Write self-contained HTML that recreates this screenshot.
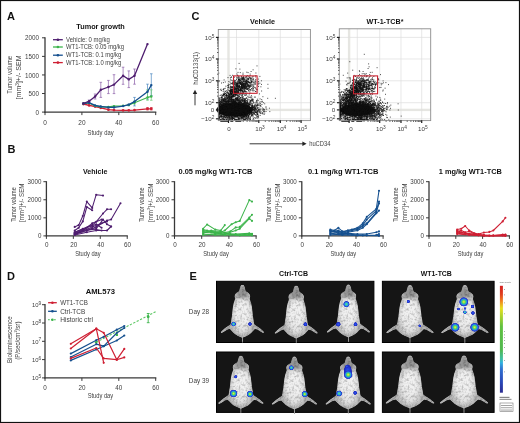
<!DOCTYPE html>
<html><head><meta charset="utf-8"><style>
html,body{margin:0;padding:0;background:#fff;}
svg{display:block;font-family:"Liberation Sans", sans-serif;will-change:transform;}
</style></head><body>
<svg width="520" height="423" viewBox="0 0 520 423">
<defs>
<radialGradient id="mb" cx="0" cy="31" r="16" gradientUnits="userSpaceOnUse" gradientTransform="translate(0 31) scale(0.8 1.4) translate(0 -31)">
<stop offset="0" stop-color="#fafafa"/><stop offset="0.55" stop-color="#eaeaea"/><stop offset="0.78" stop-color="#c4c4c4"/><stop offset="1" stop-color="#939393"/></radialGradient>
<linearGradient id="mh" x1="0" y1="0" x2="0" y2="57" gradientUnits="userSpaceOnUse">
<stop offset="0" stop-color="#6a6a6a" stop-opacity="0.7"/><stop offset="0.2" stop-color="#808080" stop-opacity="0.5"/><stop offset="0.38" stop-color="#999" stop-opacity="0"/><stop offset="0.7" stop-color="#999" stop-opacity="0"/><stop offset="0.85" stop-color="#888" stop-opacity="0.3"/><stop offset="1" stop-color="#777" stop-opacity="0.5"/></linearGradient>
<radialGradient id="sg"><stop offset="0" stop-color="#f0f040"/><stop offset="0.22" stop-color="#98e040"/><stop offset="0.42" stop-color="#30c890"/><stop offset="0.6" stop-color="#2a90e0"/><stop offset="0.78" stop-color="#2040d8"/><stop offset="0.92" stop-color="#2030c0" stop-opacity="0.8"/><stop offset="1" stop-color="#2030c0" stop-opacity="0"/></radialGradient>
<radialGradient id="sc"><stop offset="0" stop-color="#70e070"/><stop offset="0.3" stop-color="#30c8c0"/><stop offset="0.55" stop-color="#2a80e8"/><stop offset="0.8" stop-color="#2038d0"/><stop offset="1" stop-color="#2030c0" stop-opacity="0"/></radialGradient>
<radialGradient id="sb"><stop offset="0" stop-color="#3060f0"/><stop offset="0.55" stop-color="#2038d8"/><stop offset="0.85" stop-color="#1e28b8"/><stop offset="1" stop-color="#1e28b0" stop-opacity="0"/></radialGradient>
<filter id="tex" filterUnits="userSpaceOnUse" x="-30" y="-5" width="60" height="70" color-interpolation-filters="sRGB">
<feTurbulence type="fractalNoise" baseFrequency="0.42" numOctaves="2" seed="4"/>
<feColorMatrix type="matrix" values="0.6 0 0 0 0.66  0.6 0 0 0 0.66  0.6 0 0 0 0.66  0 0 0 0 1" result="n"/>
<feBlend in="SourceGraphic" in2="n" mode="multiply" result="m"/>
<feComposite in="m" in2="SourceAlpha" operator="in" result="c"/>
<feGaussianBlur in="c" stdDeviation="0.35"/>
</filter>
<clipPath id="mclip"><path d="M0.0 0.0 L1.3 0.4 L2.1 1.6 L2.6 3.2 L2.9 5.0 L3.5 6.6 L4.8 7.4 L6.4 8.4 L7.6 10.0 L7.9 11.8 L7.5 13.3 L7.5 14.5 L8.0 16.0 L8.8 18.5 L9.5 22.0 L10.0 26.3 L10.5 31.0 L11.2 35.0 L11.6 38.0 L12.0 39.5 L14.5 41.2 L17.5 43.4 L20.0 45.6 L21.5 47.0 L21.6 48.2 L20.4 48.4 L17.8 46.8 L15.0 45.0 L12.6 44.4 L11.0 46.0 L9.2 48.0 L7.0 49.8 L4.6 51.2 L2.4 52.2 L0.9 52.8 L0.5 53.2 L0.5 58.0 L-0.5 58.0 L-0.5 53.2 L-0.9 52.8 L-2.4 52.2 L-4.6 51.2 L-7.0 49.8 L-9.2 48.0 L-11.0 46.0 L-12.6 44.4 L-15.0 45.0 L-17.8 46.8 L-20.4 48.4 L-21.6 48.2 L-21.5 47.0 L-20.0 45.6 L-17.5 43.4 L-14.5 41.2 L-12.0 39.5 L-11.6 38.0 L-11.2 35.0 L-10.5 31.0 L-10.0 26.3 L-9.5 22.0 L-8.8 18.5 L-8.0 16.0 L-7.5 14.5 L-7.5 13.3 L-7.9 11.8 L-7.6 10.0 L-6.4 8.4 L-4.8 7.4 L-3.5 6.6 L-2.9 5.0 L-2.6 3.2 L-2.1 1.6 L-1.3 0.4Z"/></clipPath>
<filter id="b3" x="-60%" y="-60%" width="220%" height="220%"><feGaussianBlur stdDeviation="2.6"/></filter>
<filter id="b2" x="-60%" y="-60%" width="220%" height="220%"><feGaussianBlur stdDeviation="1.8"/></filter>
<filter id="b1" x="-100%" y="-100%" width="300%" height="300%"><feGaussianBlur stdDeviation="0.8"/></filter>
<symbol id="mouse" overflow="visible"><g filter="url(#tex)"><g clip-path="url(#mclip)">
<path d="M0.0 0.0 L1.3 0.4 L2.1 1.6 L2.6 3.2 L2.9 5.0 L3.5 6.6 L4.8 7.4 L6.4 8.4 L7.6 10.0 L7.9 11.8 L7.5 13.3 L7.5 14.5 L8.0 16.0 L8.8 18.5 L9.5 22.0 L10.0 26.3 L10.5 31.0 L11.2 35.0 L11.6 38.0 L12.0 39.5 L14.5 41.2 L17.5 43.4 L20.0 45.6 L21.5 47.0 L21.6 48.2 L20.4 48.4 L17.8 46.8 L15.0 45.0 L12.6 44.4 L11.0 46.0 L9.2 48.0 L7.0 49.8 L4.6 51.2 L2.4 52.2 L0.9 52.8 L0.5 53.2 L0.5 58.0 L-0.5 58.0 L-0.5 53.2 L-0.9 52.8 L-2.4 52.2 L-4.6 51.2 L-7.0 49.8 L-9.2 48.0 L-11.0 46.0 L-12.6 44.4 L-15.0 45.0 L-17.8 46.8 L-20.4 48.4 L-21.6 48.2 L-21.5 47.0 L-20.0 45.6 L-17.5 43.4 L-14.5 41.2 L-12.0 39.5 L-11.6 38.0 L-11.2 35.0 L-10.5 31.0 L-10.0 26.3 L-9.5 22.0 L-8.8 18.5 L-8.0 16.0 L-7.5 14.5 L-7.5 13.3 L-7.9 11.8 L-7.6 10.0 L-6.4 8.4 L-4.8 7.4 L-3.5 6.6 L-2.9 5.0 L-2.6 3.2 L-2.1 1.6 L-1.3 0.4Z" fill="#b2b2b2"/>
<ellipse cx="0" cy="29" rx="10" ry="17" fill="#f0f0f0" filter="url(#b3)"/>
<ellipse cx="0" cy="44" rx="7" ry="5" fill="#e4e4e4" filter="url(#b3)"/>
<ellipse cx="0" cy="8" rx="4.5" ry="6" fill="#6a6a6a" opacity="0.45" filter="url(#b2)"/>
<circle cx="-3.4" cy="11" r="1.6" fill="#555" opacity="0.4" filter="url(#b1)"/><circle cx="3.4" cy="11" r="1.6" fill="#555" opacity="0.4" filter="url(#b1)"/>
</g></g></symbol>
<linearGradient id="cbar" x1="0" y1="0" x2="0" y2="1">
<stop offset="0" stop-color="#d42020"/><stop offset="0.08" stop-color="#e04020"/><stop offset="0.14" stop-color="#f08020"/><stop offset="0.21" stop-color="#e8e020"/><stop offset="0.3" stop-color="#a0d030"/><stop offset="0.38" stop-color="#60c040"/><stop offset="0.6" stop-color="#50b850"/><stop offset="0.68" stop-color="#40c0a0"/><stop offset="0.72" stop-color="#30b0e0"/><stop offset="0.78" stop-color="#3070d0"/><stop offset="0.9" stop-color="#2a48b8"/><stop offset="1" stop-color="#2a2a90"/></linearGradient>
</defs>
<rect x="0" y="0" width="520" height="423" fill="#fff"/>
<text x="7.00" y="19.60" font-size="11" text-anchor="start" fill="#111" font-weight="bold">A</text>
<text x="76.30" y="28.50" font-size="7.3" text-anchor="start" fill="#111" font-weight="bold" textLength="48.5" lengthAdjust="spacingAndGlyphs">Tumor growth</text>
<line x1="45.00" y1="37.20" x2="45.00" y2="112.70" stroke="#383838" stroke-width="1.3"/>
<line x1="44.40" y1="112.10" x2="156.30" y2="112.10" stroke="#383838" stroke-width="1.3"/>
<line x1="42.00" y1="112.10" x2="45.00" y2="112.10" stroke="#383838" stroke-width="1"/>
<text x="39.00" y="114.70" font-size="7.0" text-anchor="end" fill="#3e3e3e" textLength="3.5" lengthAdjust="spacingAndGlyphs">0</text>
<line x1="42.00" y1="93.52" x2="45.00" y2="93.52" stroke="#383838" stroke-width="1"/>
<text x="39.00" y="96.12" font-size="7.0" text-anchor="end" fill="#3e3e3e" textLength="10.5" lengthAdjust="spacingAndGlyphs">500</text>
<line x1="42.00" y1="74.95" x2="45.00" y2="74.95" stroke="#383838" stroke-width="1"/>
<text x="39.00" y="77.55" font-size="7.0" text-anchor="end" fill="#3e3e3e" textLength="14.0" lengthAdjust="spacingAndGlyphs">1000</text>
<line x1="42.00" y1="56.38" x2="45.00" y2="56.38" stroke="#383838" stroke-width="1"/>
<text x="39.00" y="58.98" font-size="7.0" text-anchor="end" fill="#3e3e3e" textLength="14.0" lengthAdjust="spacingAndGlyphs">1500</text>
<line x1="42.00" y1="37.80" x2="45.00" y2="37.80" stroke="#383838" stroke-width="1"/>
<text x="39.00" y="40.40" font-size="7.0" text-anchor="end" fill="#3e3e3e" textLength="14.0" lengthAdjust="spacingAndGlyphs">2000</text>
<line x1="45.00" y1="112.10" x2="45.00" y2="115.10" stroke="#383838" stroke-width="1"/>
<text x="45.00" y="124.50" font-size="7.0" text-anchor="middle" fill="#3e3e3e" textLength="3.6" lengthAdjust="spacingAndGlyphs">0</text>
<line x1="81.90" y1="112.10" x2="81.90" y2="115.10" stroke="#383838" stroke-width="1"/>
<text x="81.90" y="124.50" font-size="7.0" text-anchor="middle" fill="#3e3e3e" textLength="7.2" lengthAdjust="spacingAndGlyphs">20</text>
<line x1="118.80" y1="112.10" x2="118.80" y2="115.10" stroke="#383838" stroke-width="1"/>
<text x="118.80" y="124.50" font-size="7.0" text-anchor="middle" fill="#3e3e3e" textLength="7.2" lengthAdjust="spacingAndGlyphs">40</text>
<line x1="155.70" y1="112.10" x2="155.70" y2="115.10" stroke="#383838" stroke-width="1"/>
<text x="155.70" y="124.50" font-size="7.0" text-anchor="middle" fill="#3e3e3e" textLength="7.2" lengthAdjust="spacingAndGlyphs">60</text>
<text x="100.60" y="135.30" font-size="7.6" text-anchor="middle" fill="#3e3e3e" textLength="26.0" lengthAdjust="spacingAndGlyphs">Study day</text>
<text x="12.40" y="74.80" font-size="7.0" text-anchor="middle" fill="#3e3e3e" textLength="38" lengthAdjust="spacingAndGlyphs" transform="rotate(-90 12.40 74.80)">Tumor volume</text>
<text x="21.50" y="77.40" font-size="7.0" text-anchor="middle" fill="#3e3e3e" textLength="44" lengthAdjust="spacingAndGlyphs" transform="rotate(-90 21.50 77.40)">[mm<tspan font-size="4.6" dy="-2.4">3</tspan><tspan dy="2.4">]+/- SEM</tspan></text>
<line x1="53.00" y1="39.70" x2="62.80" y2="39.70" stroke="#4e1d6f" stroke-width="1.3"/>
<circle cx="57.9" cy="39.7" r="1.3" fill="#4e1d6f"/>
<text x="66.10" y="41.90" font-size="6.3" text-anchor="start" fill="#3e3e3e" textLength="43.7" lengthAdjust="spacingAndGlyphs">Vehicle: 0 mg/kg</text>
<line x1="53.00" y1="47.00" x2="62.80" y2="47.00" stroke="#3cb44b" stroke-width="1.3"/>
<circle cx="57.9" cy="47.0" r="1.3" fill="#3cb44b"/>
<text x="66.10" y="49.20" font-size="6.3" text-anchor="start" fill="#3e3e3e" textLength="57.9" lengthAdjust="spacingAndGlyphs">WT1-TCB: 0.05 mg/kg</text>
<line x1="53.00" y1="55.20" x2="62.80" y2="55.20" stroke="#15508f" stroke-width="1.3"/>
<circle cx="57.9" cy="55.2" r="1.3" fill="#15508f"/>
<text x="66.10" y="57.40" font-size="6.3" text-anchor="start" fill="#3e3e3e" textLength="55.2" lengthAdjust="spacingAndGlyphs">WT1-TCB: 0.1 mg/kg</text>
<line x1="53.00" y1="62.60" x2="62.80" y2="62.60" stroke="#cf1f33" stroke-width="1.3"/>
<circle cx="57.9" cy="62.6" r="1.3" fill="#cf1f33"/>
<text x="66.10" y="64.80" font-size="6.3" text-anchor="start" fill="#3e3e3e" textLength="55.2" lengthAdjust="spacingAndGlyphs">WT1-TCB: 1.0 mg/kg</text>
<line x1="89.10" y1="100.00" x2="89.10" y2="103.00" stroke="#8a5ca8" stroke-width="0.7"/>
<line x1="87.80" y1="100.00" x2="90.40" y2="100.00" stroke="#8a5ca8" stroke-width="0.7"/>
<line x1="87.80" y1="103.00" x2="90.40" y2="103.00" stroke="#8a5ca8" stroke-width="0.7"/>
<line x1="95.10" y1="94.00" x2="95.10" y2="99.00" stroke="#8a5ca8" stroke-width="0.7"/>
<line x1="93.80" y1="94.00" x2="96.40" y2="94.00" stroke="#8a5ca8" stroke-width="0.7"/>
<line x1="93.80" y1="99.00" x2="96.40" y2="99.00" stroke="#8a5ca8" stroke-width="0.7"/>
<line x1="100.80" y1="82.30" x2="100.80" y2="97.40" stroke="#8a5ca8" stroke-width="0.7"/>
<line x1="99.50" y1="82.30" x2="102.10" y2="82.30" stroke="#8a5ca8" stroke-width="0.7"/>
<line x1="99.50" y1="97.40" x2="102.10" y2="97.40" stroke="#8a5ca8" stroke-width="0.7"/>
<line x1="108.40" y1="80.40" x2="108.40" y2="93.60" stroke="#8a5ca8" stroke-width="0.7"/>
<line x1="107.10" y1="80.40" x2="109.70" y2="80.40" stroke="#8a5ca8" stroke-width="0.7"/>
<line x1="107.10" y1="93.60" x2="109.70" y2="93.60" stroke="#8a5ca8" stroke-width="0.7"/>
<line x1="114.00" y1="74.70" x2="114.00" y2="93.60" stroke="#8a5ca8" stroke-width="0.7"/>
<line x1="112.70" y1="74.70" x2="115.30" y2="74.70" stroke="#8a5ca8" stroke-width="0.7"/>
<line x1="112.70" y1="93.60" x2="115.30" y2="93.60" stroke="#8a5ca8" stroke-width="0.7"/>
<line x1="123.10" y1="67.20" x2="123.10" y2="84.30" stroke="#8a5ca8" stroke-width="0.7"/>
<line x1="121.80" y1="67.20" x2="124.40" y2="67.20" stroke="#8a5ca8" stroke-width="0.7"/>
<line x1="121.80" y1="84.30" x2="124.40" y2="84.30" stroke="#8a5ca8" stroke-width="0.7"/>
<line x1="128.80" y1="70.90" x2="128.80" y2="87.60" stroke="#8a5ca8" stroke-width="0.7"/>
<line x1="127.50" y1="70.90" x2="130.10" y2="70.90" stroke="#8a5ca8" stroke-width="0.7"/>
<line x1="127.50" y1="87.60" x2="130.10" y2="87.60" stroke="#8a5ca8" stroke-width="0.7"/>
<line x1="134.50" y1="69.00" x2="134.50" y2="84.20" stroke="#8a5ca8" stroke-width="0.7"/>
<line x1="133.20" y1="69.00" x2="135.80" y2="69.00" stroke="#8a5ca8" stroke-width="0.7"/>
<line x1="133.20" y1="84.20" x2="135.80" y2="84.20" stroke="#8a5ca8" stroke-width="0.7"/>
<line x1="128.80" y1="104.22" x2="128.80" y2="105.73" stroke="#4a86c0" stroke-width="0.7"/>
<line x1="127.50" y1="104.22" x2="130.10" y2="104.22" stroke="#4a86c0" stroke-width="0.7"/>
<line x1="127.50" y1="105.73" x2="130.10" y2="105.73" stroke="#4a86c0" stroke-width="0.7"/>
<line x1="134.50" y1="97.41" x2="134.50" y2="105.92" stroke="#4a86c0" stroke-width="0.7"/>
<line x1="133.20" y1="97.41" x2="135.80" y2="97.41" stroke="#4a86c0" stroke-width="0.7"/>
<line x1="133.20" y1="105.92" x2="135.80" y2="105.92" stroke="#4a86c0" stroke-width="0.7"/>
<line x1="147.50" y1="84.17" x2="147.50" y2="99.30" stroke="#4a86c0" stroke-width="0.7"/>
<line x1="146.20" y1="84.17" x2="148.80" y2="84.17" stroke="#4a86c0" stroke-width="0.7"/>
<line x1="146.20" y1="99.30" x2="148.80" y2="99.30" stroke="#4a86c0" stroke-width="0.7"/>
<line x1="151.30" y1="73.77" x2="151.30" y2="95.52" stroke="#4a86c0" stroke-width="0.7"/>
<line x1="150.00" y1="73.77" x2="152.60" y2="73.77" stroke="#4a86c0" stroke-width="0.7"/>
<line x1="150.00" y1="95.52" x2="152.60" y2="95.52" stroke="#4a86c0" stroke-width="0.7"/>
<line x1="134.50" y1="101.19" x2="134.50" y2="104.03" stroke="#6ccc74" stroke-width="0.7"/>
<line x1="133.20" y1="101.19" x2="135.80" y2="101.19" stroke="#6ccc74" stroke-width="0.7"/>
<line x1="133.20" y1="104.03" x2="135.80" y2="104.03" stroke="#6ccc74" stroke-width="0.7"/>
<line x1="147.50" y1="89.85" x2="147.50" y2="100.25" stroke="#6ccc74" stroke-width="0.7"/>
<line x1="146.20" y1="89.85" x2="148.80" y2="89.85" stroke="#6ccc74" stroke-width="0.7"/>
<line x1="146.20" y1="100.25" x2="148.80" y2="100.25" stroke="#6ccc74" stroke-width="0.7"/>
<line x1="151.30" y1="89.85" x2="151.30" y2="100.25" stroke="#6ccc74" stroke-width="0.7"/>
<line x1="150.00" y1="89.85" x2="152.60" y2="89.85" stroke="#6ccc74" stroke-width="0.7"/>
<line x1="150.00" y1="100.25" x2="152.60" y2="100.25" stroke="#6ccc74" stroke-width="0.7"/>
<line x1="147.50" y1="107.62" x2="147.50" y2="109.89" stroke="#cf1f33" stroke-width="0.7"/>
<line x1="146.20" y1="107.62" x2="148.80" y2="107.62" stroke="#cf1f33" stroke-width="0.7"/>
<line x1="146.20" y1="109.89" x2="148.80" y2="109.89" stroke="#cf1f33" stroke-width="0.7"/>
<line x1="151.30" y1="107.62" x2="151.30" y2="109.89" stroke="#cf1f33" stroke-width="0.7"/>
<line x1="150.00" y1="107.62" x2="152.60" y2="107.62" stroke="#cf1f33" stroke-width="0.7"/>
<line x1="150.00" y1="109.89" x2="152.60" y2="109.89" stroke="#cf1f33" stroke-width="0.7"/>
<polyline points="83.4,104.0 89.1,105.4 95.1,106.5 100.8,107.8 108.4,109.7 114.0,110.1 123.1,110.3 128.8,110.3 134.5,110.1 147.5,108.8 151.3,108.8" fill="none" stroke="#cf1f33" stroke-width="1.3" stroke-linejoin="round"/>
<circle cx="83.4" cy="104.0" r="1.4" fill="#cf1f33"/>
<circle cx="89.1" cy="105.4" r="1.4" fill="#cf1f33"/>
<circle cx="95.1" cy="106.5" r="1.4" fill="#cf1f33"/>
<circle cx="100.8" cy="107.8" r="1.4" fill="#cf1f33"/>
<circle cx="108.4" cy="109.7" r="1.4" fill="#cf1f33"/>
<circle cx="114.0" cy="110.1" r="1.4" fill="#cf1f33"/>
<circle cx="123.1" cy="110.3" r="1.4" fill="#cf1f33"/>
<circle cx="128.8" cy="110.3" r="1.4" fill="#cf1f33"/>
<circle cx="134.5" cy="110.1" r="1.4" fill="#cf1f33"/>
<circle cx="147.5" cy="108.8" r="1.4" fill="#cf1f33"/>
<circle cx="151.3" cy="108.8" r="1.4" fill="#cf1f33"/>
<polyline points="83.4,103.5 89.1,103.1 95.1,105.9 100.8,106.9 108.4,106.9 114.0,106.1 123.1,105.7 128.8,105.0 134.5,102.7 147.5,97.4 151.3,96.5" fill="none" stroke="#3cb44b" stroke-width="1.1" stroke-linejoin="round"/>
<circle cx="83.4" cy="103.5" r="1.2" fill="#3cb44b"/>
<circle cx="89.1" cy="103.1" r="1.2" fill="#3cb44b"/>
<circle cx="95.1" cy="105.9" r="1.2" fill="#3cb44b"/>
<circle cx="100.8" cy="106.9" r="1.2" fill="#3cb44b"/>
<circle cx="108.4" cy="106.9" r="1.2" fill="#3cb44b"/>
<circle cx="114.0" cy="106.1" r="1.2" fill="#3cb44b"/>
<circle cx="123.1" cy="105.7" r="1.2" fill="#3cb44b"/>
<circle cx="128.8" cy="105.0" r="1.2" fill="#3cb44b"/>
<circle cx="134.5" cy="102.7" r="1.2" fill="#3cb44b"/>
<circle cx="147.5" cy="97.4" r="1.2" fill="#3cb44b"/>
<circle cx="151.3" cy="96.5" r="1.2" fill="#3cb44b"/>
<polyline points="83.4,103.5 89.1,102.7 95.1,105.4 100.8,106.5 108.4,107.4 114.0,107.4 123.1,106.1 128.8,104.6 134.5,101.6 147.5,91.7 151.3,85.1" fill="none" stroke="#15508f" stroke-width="1.3" stroke-linejoin="round"/>
<circle cx="83.4" cy="103.5" r="1.2" fill="#15508f"/>
<circle cx="89.1" cy="102.7" r="1.2" fill="#15508f"/>
<circle cx="95.1" cy="105.4" r="1.2" fill="#15508f"/>
<circle cx="100.8" cy="106.5" r="1.2" fill="#15508f"/>
<circle cx="108.4" cy="107.4" r="1.2" fill="#15508f"/>
<circle cx="114.0" cy="107.4" r="1.2" fill="#15508f"/>
<circle cx="123.1" cy="106.1" r="1.2" fill="#15508f"/>
<circle cx="128.8" cy="104.6" r="1.2" fill="#15508f"/>
<circle cx="134.5" cy="101.6" r="1.2" fill="#15508f"/>
<circle cx="147.5" cy="91.7" r="1.2" fill="#15508f"/>
<circle cx="151.3" cy="85.1" r="1.2" fill="#15508f"/>
<polyline points="83.4,103.5 89.1,101.2 95.1,96.5 100.8,89.8 108.4,87.0 114.0,84.6 123.1,75.7 128.8,79.4 134.5,75.7 147.5,44.1" fill="none" stroke="#4e1d6f" stroke-width="1.3" stroke-linejoin="round"/>
<circle cx="83.4" cy="103.5" r="1.2" fill="#4e1d6f"/>
<circle cx="89.1" cy="101.2" r="1.2" fill="#4e1d6f"/>
<circle cx="95.1" cy="96.5" r="1.2" fill="#4e1d6f"/>
<circle cx="100.8" cy="89.8" r="1.2" fill="#4e1d6f"/>
<circle cx="108.4" cy="87.0" r="1.2" fill="#4e1d6f"/>
<circle cx="114.0" cy="84.6" r="1.2" fill="#4e1d6f"/>
<circle cx="123.1" cy="75.7" r="1.2" fill="#4e1d6f"/>
<circle cx="128.8" cy="79.4" r="1.2" fill="#4e1d6f"/>
<circle cx="134.5" cy="75.7" r="1.2" fill="#4e1d6f"/>
<circle cx="147.5" cy="44.1" r="1.2" fill="#4e1d6f"/>
<text x="7.50" y="152.80" font-size="11" text-anchor="start" fill="#111" font-weight="bold">B</text>
<text x="83.00" y="174.40" font-size="7.2" text-anchor="start" fill="#111" font-weight="bold" textLength="24.4" lengthAdjust="spacingAndGlyphs">Vehicle</text>
<line x1="46.40" y1="181.20" x2="46.40" y2="236.50" stroke="#383838" stroke-width="1.3"/>
<line x1="45.80" y1="235.90" x2="127.82" y2="235.90" stroke="#383838" stroke-width="1.3"/>
<line x1="43.40" y1="235.90" x2="46.40" y2="235.90" stroke="#383838" stroke-width="1"/>
<text x="41.40" y="238.40" font-size="6.8" text-anchor="end" fill="#3e3e3e" textLength="3.45" lengthAdjust="spacingAndGlyphs">0</text>
<line x1="43.40" y1="217.83" x2="46.40" y2="217.83" stroke="#383838" stroke-width="1"/>
<text x="41.40" y="220.33" font-size="6.8" text-anchor="end" fill="#3e3e3e" textLength="13.8" lengthAdjust="spacingAndGlyphs">1000</text>
<line x1="43.40" y1="199.77" x2="46.40" y2="199.77" stroke="#383838" stroke-width="1"/>
<text x="41.40" y="202.27" font-size="6.8" text-anchor="end" fill="#3e3e3e" textLength="13.8" lengthAdjust="spacingAndGlyphs">2000</text>
<line x1="43.40" y1="181.70" x2="46.40" y2="181.70" stroke="#383838" stroke-width="1"/>
<text x="41.40" y="184.20" font-size="6.8" text-anchor="end" fill="#3e3e3e" textLength="13.8" lengthAdjust="spacingAndGlyphs">3000</text>
<line x1="46.40" y1="235.90" x2="46.40" y2="238.90" stroke="#383838" stroke-width="1"/>
<text x="46.80" y="247.00" font-size="6.8" text-anchor="middle" fill="#3e3e3e" textLength="3.5" lengthAdjust="spacingAndGlyphs">0</text>
<line x1="73.34" y1="235.90" x2="73.34" y2="238.90" stroke="#383838" stroke-width="1"/>
<text x="73.74" y="247.00" font-size="6.8" text-anchor="middle" fill="#3e3e3e" textLength="7.0" lengthAdjust="spacingAndGlyphs">20</text>
<line x1="100.28" y1="235.90" x2="100.28" y2="238.90" stroke="#383838" stroke-width="1"/>
<text x="100.68" y="247.00" font-size="6.8" text-anchor="middle" fill="#3e3e3e" textLength="7.0" lengthAdjust="spacingAndGlyphs">40</text>
<line x1="127.22" y1="235.90" x2="127.22" y2="238.90" stroke="#383838" stroke-width="1"/>
<text x="127.62" y="247.00" font-size="6.8" text-anchor="middle" fill="#3e3e3e" textLength="7.0" lengthAdjust="spacingAndGlyphs">60</text>
<text x="87.90" y="256.00" font-size="7.4" text-anchor="middle" fill="#3e3e3e" textLength="25.5" lengthAdjust="spacingAndGlyphs">Study day</text>
<text x="15.60" y="204.60" font-size="6.6" text-anchor="middle" fill="#3e3e3e" textLength="34.5" lengthAdjust="spacingAndGlyphs" transform="rotate(-90 15.60 204.60)">Tumor volume</text>
<text x="24.50" y="202.80" font-size="6.6" text-anchor="middle" fill="#3e3e3e" textLength="38.5" lengthAdjust="spacingAndGlyphs" transform="rotate(-90 24.50 202.80)">[mm<tspan font-size="4.4" dy="-2.3">3</tspan><tspan dy="2.3">]+/- SEM</tspan></text>
<polyline points="74.7,226.9 78.7,225.1 82.8,216.0 86.8,201.6 92.2,207.9 96.2,194.7 103.0,195.6" fill="none" stroke="#4e1d6f" stroke-width="1.05" stroke-linejoin="round"/>
<circle cx="74.7" cy="226.9" r="1.05" fill="#4e1d6f"/>
<circle cx="78.7" cy="225.1" r="1.05" fill="#4e1d6f"/>
<circle cx="82.8" cy="216.0" r="1.05" fill="#4e1d6f"/>
<circle cx="86.8" cy="201.6" r="1.05" fill="#4e1d6f"/>
<circle cx="92.2" cy="207.9" r="1.05" fill="#4e1d6f"/>
<circle cx="96.2" cy="194.7" r="1.05" fill="#4e1d6f"/>
<circle cx="103.0" cy="195.6" r="1.05" fill="#4e1d6f"/>
<polyline points="74.7,230.5 78.7,227.8 82.8,221.4 86.8,207.0 92.2,210.2" fill="none" stroke="#4e1d6f" stroke-width="1.05" stroke-linejoin="round"/>
<circle cx="74.7" cy="230.5" r="1.05" fill="#4e1d6f"/>
<circle cx="78.7" cy="227.8" r="1.05" fill="#4e1d6f"/>
<circle cx="82.8" cy="221.4" r="1.05" fill="#4e1d6f"/>
<circle cx="86.8" cy="207.0" r="1.05" fill="#4e1d6f"/>
<circle cx="92.2" cy="210.2" r="1.05" fill="#4e1d6f"/>
<polyline points="74.7,232.3 82.8,228.7 92.2,225.1 96.2,221.8 103.0,213.5 107.0,209.3 111.1,209.2" fill="none" stroke="#4e1d6f" stroke-width="1.05" stroke-linejoin="round"/>
<circle cx="74.7" cy="232.3" r="1.05" fill="#4e1d6f"/>
<circle cx="82.8" cy="228.7" r="1.05" fill="#4e1d6f"/>
<circle cx="92.2" cy="225.1" r="1.05" fill="#4e1d6f"/>
<circle cx="96.2" cy="221.8" r="1.05" fill="#4e1d6f"/>
<circle cx="103.0" cy="213.5" r="1.05" fill="#4e1d6f"/>
<circle cx="107.0" cy="209.3" r="1.05" fill="#4e1d6f"/>
<circle cx="111.1" cy="209.2" r="1.05" fill="#4e1d6f"/>
<polyline points="74.7,233.2 86.8,230.5 96.2,226.9 107.0,220.5 111.1,219.5 120.5,203.2" fill="none" stroke="#4e1d6f" stroke-width="1.05" stroke-linejoin="round"/>
<circle cx="74.7" cy="233.2" r="1.05" fill="#4e1d6f"/>
<circle cx="86.8" cy="230.5" r="1.05" fill="#4e1d6f"/>
<circle cx="96.2" cy="226.9" r="1.05" fill="#4e1d6f"/>
<circle cx="107.0" cy="220.5" r="1.05" fill="#4e1d6f"/>
<circle cx="111.1" cy="219.5" r="1.05" fill="#4e1d6f"/>
<circle cx="120.5" cy="203.2" r="1.05" fill="#4e1d6f"/>
<polyline points="74.7,234.1 82.8,230.5 92.2,223.3 101.6,219.6" fill="none" stroke="#4e1d6f" stroke-width="1.05" stroke-linejoin="round"/>
<circle cx="74.7" cy="234.1" r="1.05" fill="#4e1d6f"/>
<circle cx="82.8" cy="230.5" r="1.05" fill="#4e1d6f"/>
<circle cx="92.2" cy="223.3" r="1.05" fill="#4e1d6f"/>
<circle cx="101.6" cy="219.6" r="1.05" fill="#4e1d6f"/>
<polyline points="74.7,234.1 86.8,230.5 96.2,228.7 103.0,219.6 107.0,224.2 111.1,226.5" fill="none" stroke="#4e1d6f" stroke-width="1.05" stroke-linejoin="round"/>
<circle cx="74.7" cy="234.1" r="1.05" fill="#4e1d6f"/>
<circle cx="86.8" cy="230.5" r="1.05" fill="#4e1d6f"/>
<circle cx="96.2" cy="228.7" r="1.05" fill="#4e1d6f"/>
<circle cx="103.0" cy="219.6" r="1.05" fill="#4e1d6f"/>
<circle cx="107.0" cy="224.2" r="1.05" fill="#4e1d6f"/>
<circle cx="111.1" cy="226.5" r="1.05" fill="#4e1d6f"/>
<polyline points="74.7,235.0 86.8,232.3 96.2,230.5 107.0,230.5 111.1,226.5" fill="none" stroke="#4e1d6f" stroke-width="1.05" stroke-linejoin="round"/>
<circle cx="74.7" cy="235.0" r="1.05" fill="#4e1d6f"/>
<circle cx="86.8" cy="232.3" r="1.05" fill="#4e1d6f"/>
<circle cx="96.2" cy="230.5" r="1.05" fill="#4e1d6f"/>
<circle cx="107.0" cy="230.5" r="1.05" fill="#4e1d6f"/>
<circle cx="111.1" cy="226.5" r="1.05" fill="#4e1d6f"/>
<polyline points="74.7,234.5 82.8,231.4 92.2,226.9 101.6,223.3 107.0,221.4" fill="none" stroke="#4e1d6f" stroke-width="1.05" stroke-linejoin="round"/>
<circle cx="74.7" cy="234.5" r="1.05" fill="#4e1d6f"/>
<circle cx="82.8" cy="231.4" r="1.05" fill="#4e1d6f"/>
<circle cx="92.2" cy="226.9" r="1.05" fill="#4e1d6f"/>
<circle cx="101.6" cy="223.3" r="1.05" fill="#4e1d6f"/>
<circle cx="107.0" cy="221.4" r="1.05" fill="#4e1d6f"/>
<polyline points="74.7,233.7 86.8,227.8 96.2,224.2 101.6,227.8" fill="none" stroke="#4e1d6f" stroke-width="1.05" stroke-linejoin="round"/>
<circle cx="74.7" cy="233.7" r="1.05" fill="#4e1d6f"/>
<circle cx="86.8" cy="227.8" r="1.05" fill="#4e1d6f"/>
<circle cx="96.2" cy="224.2" r="1.05" fill="#4e1d6f"/>
<circle cx="101.6" cy="227.8" r="1.05" fill="#4e1d6f"/>
<polyline points="74.7,232.3 82.8,229.6 92.2,228.7 101.6,230.5" fill="none" stroke="#4e1d6f" stroke-width="1.05" stroke-linejoin="round"/>
<circle cx="74.7" cy="232.3" r="1.05" fill="#4e1d6f"/>
<circle cx="82.8" cy="229.6" r="1.05" fill="#4e1d6f"/>
<circle cx="92.2" cy="228.7" r="1.05" fill="#4e1d6f"/>
<circle cx="101.6" cy="230.5" r="1.05" fill="#4e1d6f"/>
<text x="178.50" y="174.40" font-size="7.2" text-anchor="start" fill="#111" font-weight="bold" textLength="74.0" lengthAdjust="spacingAndGlyphs">0.05 mg/kg WT1-TCB</text>
<line x1="174.50" y1="181.20" x2="174.50" y2="236.50" stroke="#383838" stroke-width="1.3"/>
<line x1="173.90" y1="235.90" x2="256.70" y2="235.90" stroke="#383838" stroke-width="1.3"/>
<line x1="171.50" y1="235.90" x2="174.50" y2="235.90" stroke="#383838" stroke-width="1"/>
<text x="169.50" y="238.40" font-size="6.8" text-anchor="end" fill="#3e3e3e" textLength="3.45" lengthAdjust="spacingAndGlyphs">0</text>
<line x1="171.50" y1="217.83" x2="174.50" y2="217.83" stroke="#383838" stroke-width="1"/>
<text x="169.50" y="220.33" font-size="6.8" text-anchor="end" fill="#3e3e3e" textLength="13.8" lengthAdjust="spacingAndGlyphs">1000</text>
<line x1="171.50" y1="199.77" x2="174.50" y2="199.77" stroke="#383838" stroke-width="1"/>
<text x="169.50" y="202.27" font-size="6.8" text-anchor="end" fill="#3e3e3e" textLength="13.8" lengthAdjust="spacingAndGlyphs">2000</text>
<line x1="171.50" y1="181.70" x2="174.50" y2="181.70" stroke="#383838" stroke-width="1"/>
<text x="169.50" y="184.20" font-size="6.8" text-anchor="end" fill="#3e3e3e" textLength="13.8" lengthAdjust="spacingAndGlyphs">3000</text>
<line x1="174.50" y1="235.90" x2="174.50" y2="238.90" stroke="#383838" stroke-width="1"/>
<text x="174.90" y="247.00" font-size="6.8" text-anchor="middle" fill="#3e3e3e" textLength="3.5" lengthAdjust="spacingAndGlyphs">0</text>
<line x1="201.70" y1="235.90" x2="201.70" y2="238.90" stroke="#383838" stroke-width="1"/>
<text x="202.10" y="247.00" font-size="6.8" text-anchor="middle" fill="#3e3e3e" textLength="7.0" lengthAdjust="spacingAndGlyphs">20</text>
<line x1="228.90" y1="235.90" x2="228.90" y2="238.90" stroke="#383838" stroke-width="1"/>
<text x="229.30" y="247.00" font-size="6.8" text-anchor="middle" fill="#3e3e3e" textLength="7.0" lengthAdjust="spacingAndGlyphs">40</text>
<line x1="256.10" y1="235.90" x2="256.10" y2="238.90" stroke="#383838" stroke-width="1"/>
<text x="256.50" y="247.00" font-size="6.8" text-anchor="middle" fill="#3e3e3e" textLength="7.0" lengthAdjust="spacingAndGlyphs">60</text>
<text x="216.00" y="256.00" font-size="7.4" text-anchor="middle" fill="#3e3e3e" textLength="25.5" lengthAdjust="spacingAndGlyphs">Study day</text>
<text x="143.70" y="204.60" font-size="6.6" text-anchor="middle" fill="#3e3e3e" textLength="34.5" lengthAdjust="spacingAndGlyphs" transform="rotate(-90 143.70 204.60)">Tumor volume</text>
<text x="152.60" y="202.80" font-size="6.6" text-anchor="middle" fill="#3e3e3e" textLength="38.5" lengthAdjust="spacingAndGlyphs" transform="rotate(-90 152.60 202.80)">[mm<tspan font-size="4.4" dy="-2.3">3</tspan><tspan dy="2.3">]+/- SEM</tspan></text>
<polyline points="203.1,228.7 207.1,224.5 215.3,229.6 220.7,230.5 224.8,225.1" fill="none" stroke="#3cb44b" stroke-width="1.05" stroke-linejoin="round"/>
<circle cx="203.1" cy="228.7" r="1.05" fill="#3cb44b"/>
<circle cx="207.1" cy="224.5" r="1.05" fill="#3cb44b"/>
<circle cx="215.3" cy="229.6" r="1.05" fill="#3cb44b"/>
<circle cx="220.7" cy="230.5" r="1.05" fill="#3cb44b"/>
<circle cx="224.8" cy="225.1" r="1.05" fill="#3cb44b"/>
<polyline points="203.1,230.5 211.2,231.4 220.7,232.3 224.8,230.5 231.6,224.2 235.7,222.3 239.8,220.9 249.3,200.1 252.0,201.6" fill="none" stroke="#3cb44b" stroke-width="1.05" stroke-linejoin="round"/>
<circle cx="203.1" cy="230.5" r="1.05" fill="#3cb44b"/>
<circle cx="211.2" cy="231.4" r="1.05" fill="#3cb44b"/>
<circle cx="220.7" cy="232.3" r="1.05" fill="#3cb44b"/>
<circle cx="224.8" cy="230.5" r="1.05" fill="#3cb44b"/>
<circle cx="231.6" cy="224.2" r="1.05" fill="#3cb44b"/>
<circle cx="235.7" cy="222.3" r="1.05" fill="#3cb44b"/>
<circle cx="239.8" cy="220.9" r="1.05" fill="#3cb44b"/>
<circle cx="249.3" cy="200.1" r="1.05" fill="#3cb44b"/>
<circle cx="252.0" cy="201.6" r="1.05" fill="#3cb44b"/>
<polyline points="203.1,231.4 211.2,232.3 220.7,233.2 230.3,231.4 235.7,227.4 239.8,226.9 249.3,217.5 252.0,214.8" fill="none" stroke="#3cb44b" stroke-width="1.05" stroke-linejoin="round"/>
<circle cx="203.1" cy="231.4" r="1.05" fill="#3cb44b"/>
<circle cx="211.2" cy="232.3" r="1.05" fill="#3cb44b"/>
<circle cx="220.7" cy="233.2" r="1.05" fill="#3cb44b"/>
<circle cx="230.3" cy="231.4" r="1.05" fill="#3cb44b"/>
<circle cx="235.7" cy="227.4" r="1.05" fill="#3cb44b"/>
<circle cx="239.8" cy="226.9" r="1.05" fill="#3cb44b"/>
<circle cx="249.3" cy="217.5" r="1.05" fill="#3cb44b"/>
<circle cx="252.0" cy="214.8" r="1.05" fill="#3cb44b"/>
<polyline points="203.1,232.3 215.3,233.2 224.8,234.1 235.7,230.5 239.8,228.7 249.3,218.7 252.0,220.9" fill="none" stroke="#3cb44b" stroke-width="1.05" stroke-linejoin="round"/>
<circle cx="203.1" cy="232.3" r="1.05" fill="#3cb44b"/>
<circle cx="215.3" cy="233.2" r="1.05" fill="#3cb44b"/>
<circle cx="224.8" cy="234.1" r="1.05" fill="#3cb44b"/>
<circle cx="235.7" cy="230.5" r="1.05" fill="#3cb44b"/>
<circle cx="239.8" cy="228.7" r="1.05" fill="#3cb44b"/>
<circle cx="249.3" cy="218.7" r="1.05" fill="#3cb44b"/>
<circle cx="252.0" cy="220.9" r="1.05" fill="#3cb44b"/>
<polyline points="203.1,233.2 211.2,230.5 220.7,231.4 230.3,234.1 239.8,235.0 249.3,234.1 252.0,234.1" fill="none" stroke="#3cb44b" stroke-width="1.05" stroke-linejoin="round"/>
<circle cx="203.1" cy="233.2" r="1.05" fill="#3cb44b"/>
<circle cx="211.2" cy="230.5" r="1.05" fill="#3cb44b"/>
<circle cx="220.7" cy="231.4" r="1.05" fill="#3cb44b"/>
<circle cx="230.3" cy="234.1" r="1.05" fill="#3cb44b"/>
<circle cx="239.8" cy="235.0" r="1.05" fill="#3cb44b"/>
<circle cx="249.3" cy="234.1" r="1.05" fill="#3cb44b"/>
<circle cx="252.0" cy="234.1" r="1.05" fill="#3cb44b"/>
<polyline points="203.1,234.1 215.3,235.0 224.8,235.0 235.7,234.1 249.3,233.2 252.0,233.7" fill="none" stroke="#3cb44b" stroke-width="1.05" stroke-linejoin="round"/>
<circle cx="203.1" cy="234.1" r="1.05" fill="#3cb44b"/>
<circle cx="215.3" cy="235.0" r="1.05" fill="#3cb44b"/>
<circle cx="224.8" cy="235.0" r="1.05" fill="#3cb44b"/>
<circle cx="235.7" cy="234.1" r="1.05" fill="#3cb44b"/>
<circle cx="249.3" cy="233.2" r="1.05" fill="#3cb44b"/>
<circle cx="252.0" cy="233.7" r="1.05" fill="#3cb44b"/>
<polyline points="203.1,229.6 207.1,230.5 215.3,232.3 224.8,233.2 235.7,234.5 249.3,234.8 252.0,235.0" fill="none" stroke="#3cb44b" stroke-width="1.05" stroke-linejoin="round"/>
<circle cx="203.1" cy="229.6" r="1.05" fill="#3cb44b"/>
<circle cx="207.1" cy="230.5" r="1.05" fill="#3cb44b"/>
<circle cx="215.3" cy="232.3" r="1.05" fill="#3cb44b"/>
<circle cx="224.8" cy="233.2" r="1.05" fill="#3cb44b"/>
<circle cx="235.7" cy="234.5" r="1.05" fill="#3cb44b"/>
<circle cx="249.3" cy="234.8" r="1.05" fill="#3cb44b"/>
<circle cx="252.0" cy="235.0" r="1.05" fill="#3cb44b"/>
<polyline points="203.1,235.0 215.3,234.1 230.3,235.0 239.8,235.5 252.0,235.4" fill="none" stroke="#3cb44b" stroke-width="1.05" stroke-linejoin="round"/>
<circle cx="203.1" cy="235.0" r="1.05" fill="#3cb44b"/>
<circle cx="215.3" cy="234.1" r="1.05" fill="#3cb44b"/>
<circle cx="230.3" cy="235.0" r="1.05" fill="#3cb44b"/>
<circle cx="239.8" cy="235.5" r="1.05" fill="#3cb44b"/>
<circle cx="252.0" cy="235.4" r="1.05" fill="#3cb44b"/>
<text x="307.90" y="174.40" font-size="7.2" text-anchor="start" fill="#111" font-weight="bold" textLength="70.6" lengthAdjust="spacingAndGlyphs">0.1 mg/kg WT1-TCB</text>
<line x1="301.80" y1="181.20" x2="301.80" y2="236.50" stroke="#383838" stroke-width="1.3"/>
<line x1="301.20" y1="235.90" x2="383.70" y2="235.90" stroke="#383838" stroke-width="1.3"/>
<line x1="298.80" y1="235.90" x2="301.80" y2="235.90" stroke="#383838" stroke-width="1"/>
<text x="296.80" y="238.40" font-size="6.8" text-anchor="end" fill="#3e3e3e" textLength="3.45" lengthAdjust="spacingAndGlyphs">0</text>
<line x1="298.80" y1="217.83" x2="301.80" y2="217.83" stroke="#383838" stroke-width="1"/>
<text x="296.80" y="220.33" font-size="6.8" text-anchor="end" fill="#3e3e3e" textLength="13.8" lengthAdjust="spacingAndGlyphs">1000</text>
<line x1="298.80" y1="199.77" x2="301.80" y2="199.77" stroke="#383838" stroke-width="1"/>
<text x="296.80" y="202.27" font-size="6.8" text-anchor="end" fill="#3e3e3e" textLength="13.8" lengthAdjust="spacingAndGlyphs">2000</text>
<line x1="298.80" y1="181.70" x2="301.80" y2="181.70" stroke="#383838" stroke-width="1"/>
<text x="296.80" y="184.20" font-size="6.8" text-anchor="end" fill="#3e3e3e" textLength="13.8" lengthAdjust="spacingAndGlyphs">3000</text>
<line x1="301.80" y1="235.90" x2="301.80" y2="238.90" stroke="#383838" stroke-width="1"/>
<text x="302.20" y="247.00" font-size="6.8" text-anchor="middle" fill="#3e3e3e" textLength="3.5" lengthAdjust="spacingAndGlyphs">0</text>
<line x1="328.90" y1="235.90" x2="328.90" y2="238.90" stroke="#383838" stroke-width="1"/>
<text x="329.30" y="247.00" font-size="6.8" text-anchor="middle" fill="#3e3e3e" textLength="7.0" lengthAdjust="spacingAndGlyphs">20</text>
<line x1="356.00" y1="235.90" x2="356.00" y2="238.90" stroke="#383838" stroke-width="1"/>
<text x="356.40" y="247.00" font-size="6.8" text-anchor="middle" fill="#3e3e3e" textLength="7.0" lengthAdjust="spacingAndGlyphs">40</text>
<line x1="383.10" y1="235.90" x2="383.10" y2="238.90" stroke="#383838" stroke-width="1"/>
<text x="383.50" y="247.00" font-size="6.8" text-anchor="middle" fill="#3e3e3e" textLength="7.0" lengthAdjust="spacingAndGlyphs">60</text>
<text x="343.30" y="256.00" font-size="7.4" text-anchor="middle" fill="#3e3e3e" textLength="25.5" lengthAdjust="spacingAndGlyphs">Study day</text>
<text x="271.00" y="204.60" font-size="6.6" text-anchor="middle" fill="#3e3e3e" textLength="34.5" lengthAdjust="spacingAndGlyphs" transform="rotate(-90 271.00 204.60)">Tumor volume</text>
<text x="279.90" y="202.80" font-size="6.6" text-anchor="middle" fill="#3e3e3e" textLength="38.5" lengthAdjust="spacingAndGlyphs" transform="rotate(-90 279.90 202.80)">[mm<tspan font-size="4.4" dy="-2.3">3</tspan><tspan dy="2.3">]+/- SEM</tspan></text>
<polyline points="330.3,229.6 334.3,230.5 338.4,227.8 342.4,231.4 347.9,230.5 351.9,229.6 357.4,227.8 362.8,223.3 366.8,216.9 376.3,208.8 379.0,190.7" fill="none" stroke="#15508f" stroke-width="1.05" stroke-linejoin="round"/>
<circle cx="330.3" cy="229.6" r="1.05" fill="#15508f"/>
<circle cx="334.3" cy="230.5" r="1.05" fill="#15508f"/>
<circle cx="338.4" cy="227.8" r="1.05" fill="#15508f"/>
<circle cx="342.4" cy="231.4" r="1.05" fill="#15508f"/>
<circle cx="347.9" cy="230.5" r="1.05" fill="#15508f"/>
<circle cx="351.9" cy="229.6" r="1.05" fill="#15508f"/>
<circle cx="357.4" cy="227.8" r="1.05" fill="#15508f"/>
<circle cx="362.8" cy="223.3" r="1.05" fill="#15508f"/>
<circle cx="366.8" cy="216.9" r="1.05" fill="#15508f"/>
<circle cx="376.3" cy="208.8" r="1.05" fill="#15508f"/>
<circle cx="379.0" cy="190.7" r="1.05" fill="#15508f"/>
<polyline points="330.3,230.5 334.3,231.4 338.4,232.3 342.4,232.3 347.9,230.5 357.4,228.7 362.8,225.1 366.8,219.6 376.3,210.6 379.0,201.6" fill="none" stroke="#15508f" stroke-width="1.05" stroke-linejoin="round"/>
<circle cx="330.3" cy="230.5" r="1.05" fill="#15508f"/>
<circle cx="334.3" cy="231.4" r="1.05" fill="#15508f"/>
<circle cx="338.4" cy="232.3" r="1.05" fill="#15508f"/>
<circle cx="342.4" cy="232.3" r="1.05" fill="#15508f"/>
<circle cx="347.9" cy="230.5" r="1.05" fill="#15508f"/>
<circle cx="357.4" cy="228.7" r="1.05" fill="#15508f"/>
<circle cx="362.8" cy="225.1" r="1.05" fill="#15508f"/>
<circle cx="366.8" cy="219.6" r="1.05" fill="#15508f"/>
<circle cx="376.3" cy="210.6" r="1.05" fill="#15508f"/>
<circle cx="379.0" cy="201.6" r="1.05" fill="#15508f"/>
<polyline points="330.3,231.4 338.4,230.5 342.4,233.2 351.9,230.5 357.4,229.6 362.8,226.0 366.8,223.3 376.3,212.4 379.0,203.4" fill="none" stroke="#15508f" stroke-width="1.05" stroke-linejoin="round"/>
<circle cx="330.3" cy="231.4" r="1.05" fill="#15508f"/>
<circle cx="338.4" cy="230.5" r="1.05" fill="#15508f"/>
<circle cx="342.4" cy="233.2" r="1.05" fill="#15508f"/>
<circle cx="351.9" cy="230.5" r="1.05" fill="#15508f"/>
<circle cx="357.4" cy="229.6" r="1.05" fill="#15508f"/>
<circle cx="362.8" cy="226.0" r="1.05" fill="#15508f"/>
<circle cx="366.8" cy="223.3" r="1.05" fill="#15508f"/>
<circle cx="376.3" cy="212.4" r="1.05" fill="#15508f"/>
<circle cx="379.0" cy="203.4" r="1.05" fill="#15508f"/>
<polyline points="330.3,232.3 338.4,231.4 347.9,232.3 357.4,230.5 362.8,227.8 366.8,224.2 376.3,213.3 379.0,210.6" fill="none" stroke="#15508f" stroke-width="1.05" stroke-linejoin="round"/>
<circle cx="330.3" cy="232.3" r="1.05" fill="#15508f"/>
<circle cx="338.4" cy="231.4" r="1.05" fill="#15508f"/>
<circle cx="347.9" cy="232.3" r="1.05" fill="#15508f"/>
<circle cx="357.4" cy="230.5" r="1.05" fill="#15508f"/>
<circle cx="362.8" cy="227.8" r="1.05" fill="#15508f"/>
<circle cx="366.8" cy="224.2" r="1.05" fill="#15508f"/>
<circle cx="376.3" cy="213.3" r="1.05" fill="#15508f"/>
<circle cx="379.0" cy="210.6" r="1.05" fill="#15508f"/>
<polyline points="330.3,233.2 338.4,234.1 347.9,233.2 357.4,234.1 366.8,234.1 376.3,232.3 379.0,231.4" fill="none" stroke="#15508f" stroke-width="1.05" stroke-linejoin="round"/>
<circle cx="330.3" cy="233.2" r="1.05" fill="#15508f"/>
<circle cx="338.4" cy="234.1" r="1.05" fill="#15508f"/>
<circle cx="347.9" cy="233.2" r="1.05" fill="#15508f"/>
<circle cx="357.4" cy="234.1" r="1.05" fill="#15508f"/>
<circle cx="366.8" cy="234.1" r="1.05" fill="#15508f"/>
<circle cx="376.3" cy="232.3" r="1.05" fill="#15508f"/>
<circle cx="379.0" cy="231.4" r="1.05" fill="#15508f"/>
<polyline points="330.3,234.1 342.4,235.0 351.9,235.0 362.8,235.4 376.3,235.0 379.0,234.1" fill="none" stroke="#15508f" stroke-width="1.05" stroke-linejoin="round"/>
<circle cx="330.3" cy="234.1" r="1.05" fill="#15508f"/>
<circle cx="342.4" cy="235.0" r="1.05" fill="#15508f"/>
<circle cx="351.9" cy="235.0" r="1.05" fill="#15508f"/>
<circle cx="362.8" cy="235.4" r="1.05" fill="#15508f"/>
<circle cx="376.3" cy="235.0" r="1.05" fill="#15508f"/>
<circle cx="379.0" cy="234.1" r="1.05" fill="#15508f"/>
<polyline points="330.3,230.5 338.4,233.2 347.9,234.1 357.4,235.0 366.8,235.5 379.0,235.7" fill="none" stroke="#15508f" stroke-width="1.05" stroke-linejoin="round"/>
<circle cx="330.3" cy="230.5" r="1.05" fill="#15508f"/>
<circle cx="338.4" cy="233.2" r="1.05" fill="#15508f"/>
<circle cx="347.9" cy="234.1" r="1.05" fill="#15508f"/>
<circle cx="357.4" cy="235.0" r="1.05" fill="#15508f"/>
<circle cx="366.8" cy="235.5" r="1.05" fill="#15508f"/>
<circle cx="379.0" cy="235.7" r="1.05" fill="#15508f"/>
<polyline points="330.3,235.0 342.4,234.5 357.4,235.5 379.0,235.5" fill="none" stroke="#15508f" stroke-width="1.05" stroke-linejoin="round"/>
<circle cx="330.3" cy="235.0" r="1.05" fill="#15508f"/>
<circle cx="342.4" cy="234.5" r="1.05" fill="#15508f"/>
<circle cx="357.4" cy="235.5" r="1.05" fill="#15508f"/>
<circle cx="379.0" cy="235.5" r="1.05" fill="#15508f"/>
<text x="438.80" y="174.40" font-size="7.2" text-anchor="start" fill="#111" font-weight="bold" textLength="63.0" lengthAdjust="spacingAndGlyphs">1 mg/kg WT1-TCB</text>
<line x1="429.00" y1="181.20" x2="429.00" y2="236.50" stroke="#383838" stroke-width="1.3"/>
<line x1="428.40" y1="235.90" x2="510.00" y2="235.90" stroke="#383838" stroke-width="1.3"/>
<line x1="426.00" y1="235.90" x2="429.00" y2="235.90" stroke="#383838" stroke-width="1"/>
<text x="424.00" y="238.40" font-size="6.8" text-anchor="end" fill="#3e3e3e" textLength="3.45" lengthAdjust="spacingAndGlyphs">0</text>
<line x1="426.00" y1="217.83" x2="429.00" y2="217.83" stroke="#383838" stroke-width="1"/>
<text x="424.00" y="220.33" font-size="6.8" text-anchor="end" fill="#3e3e3e" textLength="13.8" lengthAdjust="spacingAndGlyphs">1000</text>
<line x1="426.00" y1="199.77" x2="429.00" y2="199.77" stroke="#383838" stroke-width="1"/>
<text x="424.00" y="202.27" font-size="6.8" text-anchor="end" fill="#3e3e3e" textLength="13.8" lengthAdjust="spacingAndGlyphs">2000</text>
<line x1="426.00" y1="181.70" x2="429.00" y2="181.70" stroke="#383838" stroke-width="1"/>
<text x="424.00" y="184.20" font-size="6.8" text-anchor="end" fill="#3e3e3e" textLength="13.8" lengthAdjust="spacingAndGlyphs">3000</text>
<line x1="429.00" y1="235.90" x2="429.00" y2="238.90" stroke="#383838" stroke-width="1"/>
<text x="429.40" y="247.00" font-size="6.8" text-anchor="middle" fill="#3e3e3e" textLength="3.5" lengthAdjust="spacingAndGlyphs">0</text>
<line x1="455.80" y1="235.90" x2="455.80" y2="238.90" stroke="#383838" stroke-width="1"/>
<text x="456.20" y="247.00" font-size="6.8" text-anchor="middle" fill="#3e3e3e" textLength="7.0" lengthAdjust="spacingAndGlyphs">20</text>
<line x1="482.60" y1="235.90" x2="482.60" y2="238.90" stroke="#383838" stroke-width="1"/>
<text x="483.00" y="247.00" font-size="6.8" text-anchor="middle" fill="#3e3e3e" textLength="7.0" lengthAdjust="spacingAndGlyphs">40</text>
<line x1="509.40" y1="235.90" x2="509.40" y2="238.90" stroke="#383838" stroke-width="1"/>
<text x="509.80" y="247.00" font-size="6.8" text-anchor="middle" fill="#3e3e3e" textLength="7.0" lengthAdjust="spacingAndGlyphs">60</text>
<text x="470.50" y="256.00" font-size="7.4" text-anchor="middle" fill="#3e3e3e" textLength="25.5" lengthAdjust="spacingAndGlyphs">Study day</text>
<text x="398.20" y="204.60" font-size="6.6" text-anchor="middle" fill="#3e3e3e" textLength="34.5" lengthAdjust="spacingAndGlyphs" transform="rotate(-90 398.20 204.60)">Tumor volume</text>
<text x="407.10" y="202.80" font-size="6.6" text-anchor="middle" fill="#3e3e3e" textLength="38.5" lengthAdjust="spacingAndGlyphs" transform="rotate(-90 407.10 202.80)">[mm<tspan font-size="4.4" dy="-2.3">3</tspan><tspan dy="2.3">]+/- SEM</tspan></text>
<polyline points="457.1,229.6 461.2,228.7 465.2,226.0 469.2,230.5 474.6,233.2 478.6,234.1 483.9,232.6 489.3,231.9 493.3,230.5 502.7,221.4 505.4,217.8" fill="none" stroke="#cf1f33" stroke-width="1.05" stroke-linejoin="round"/>
<circle cx="457.1" cy="229.6" r="1.05" fill="#cf1f33"/>
<circle cx="461.2" cy="228.7" r="1.05" fill="#cf1f33"/>
<circle cx="465.2" cy="226.0" r="1.05" fill="#cf1f33"/>
<circle cx="469.2" cy="230.5" r="1.05" fill="#cf1f33"/>
<circle cx="474.6" cy="233.2" r="1.05" fill="#cf1f33"/>
<circle cx="478.6" cy="234.1" r="1.05" fill="#cf1f33"/>
<circle cx="483.9" cy="232.6" r="1.05" fill="#cf1f33"/>
<circle cx="489.3" cy="231.9" r="1.05" fill="#cf1f33"/>
<circle cx="493.3" cy="230.5" r="1.05" fill="#cf1f33"/>
<circle cx="502.7" cy="221.4" r="1.05" fill="#cf1f33"/>
<circle cx="505.4" cy="217.8" r="1.05" fill="#cf1f33"/>
<polyline points="457.1,231.4 461.2,230.5 465.2,232.3 469.2,231.4 474.6,234.1 478.6,235.0 483.9,235.4 493.3,235.5 502.7,235.0 505.4,234.5" fill="none" stroke="#cf1f33" stroke-width="1.05" stroke-linejoin="round"/>
<circle cx="457.1" cy="231.4" r="1.05" fill="#cf1f33"/>
<circle cx="461.2" cy="230.5" r="1.05" fill="#cf1f33"/>
<circle cx="465.2" cy="232.3" r="1.05" fill="#cf1f33"/>
<circle cx="469.2" cy="231.4" r="1.05" fill="#cf1f33"/>
<circle cx="474.6" cy="234.1" r="1.05" fill="#cf1f33"/>
<circle cx="478.6" cy="235.0" r="1.05" fill="#cf1f33"/>
<circle cx="483.9" cy="235.4" r="1.05" fill="#cf1f33"/>
<circle cx="493.3" cy="235.5" r="1.05" fill="#cf1f33"/>
<circle cx="502.7" cy="235.0" r="1.05" fill="#cf1f33"/>
<circle cx="505.4" cy="234.5" r="1.05" fill="#cf1f33"/>
<polyline points="457.1,232.3 465.2,233.2 474.6,234.1 483.9,235.0 493.3,235.4 502.7,234.5 505.4,234.8" fill="none" stroke="#cf1f33" stroke-width="1.05" stroke-linejoin="round"/>
<circle cx="457.1" cy="232.3" r="1.05" fill="#cf1f33"/>
<circle cx="465.2" cy="233.2" r="1.05" fill="#cf1f33"/>
<circle cx="474.6" cy="234.1" r="1.05" fill="#cf1f33"/>
<circle cx="483.9" cy="235.0" r="1.05" fill="#cf1f33"/>
<circle cx="493.3" cy="235.4" r="1.05" fill="#cf1f33"/>
<circle cx="502.7" cy="234.5" r="1.05" fill="#cf1f33"/>
<circle cx="505.4" cy="234.8" r="1.05" fill="#cf1f33"/>
<polyline points="457.1,234.1 469.2,235.0 478.6,235.4 489.3,235.7 505.4,235.5" fill="none" stroke="#cf1f33" stroke-width="1.05" stroke-linejoin="round"/>
<circle cx="457.1" cy="234.1" r="1.05" fill="#cf1f33"/>
<circle cx="469.2" cy="235.0" r="1.05" fill="#cf1f33"/>
<circle cx="478.6" cy="235.4" r="1.05" fill="#cf1f33"/>
<circle cx="489.3" cy="235.7" r="1.05" fill="#cf1f33"/>
<circle cx="505.4" cy="235.5" r="1.05" fill="#cf1f33"/>
<polyline points="457.1,230.5 461.2,232.3 469.2,234.1 478.6,235.0 489.3,235.5 502.7,235.4 505.4,235.2" fill="none" stroke="#cf1f33" stroke-width="1.05" stroke-linejoin="round"/>
<circle cx="457.1" cy="230.5" r="1.05" fill="#cf1f33"/>
<circle cx="461.2" cy="232.3" r="1.05" fill="#cf1f33"/>
<circle cx="469.2" cy="234.1" r="1.05" fill="#cf1f33"/>
<circle cx="478.6" cy="235.0" r="1.05" fill="#cf1f33"/>
<circle cx="489.3" cy="235.5" r="1.05" fill="#cf1f33"/>
<circle cx="502.7" cy="235.4" r="1.05" fill="#cf1f33"/>
<circle cx="505.4" cy="235.2" r="1.05" fill="#cf1f33"/>
<polyline points="457.1,233.2 465.2,234.1 474.6,235.0 483.9,235.9 505.4,235.9" fill="none" stroke="#cf1f33" stroke-width="1.05" stroke-linejoin="round"/>
<circle cx="457.1" cy="233.2" r="1.05" fill="#cf1f33"/>
<circle cx="465.2" cy="234.1" r="1.05" fill="#cf1f33"/>
<circle cx="474.6" cy="235.0" r="1.05" fill="#cf1f33"/>
<circle cx="483.9" cy="235.9" r="1.05" fill="#cf1f33"/>
<circle cx="505.4" cy="235.9" r="1.05" fill="#cf1f33"/>
<text x="191.60" y="19.60" font-size="11" text-anchor="start" fill="#111" font-weight="bold">C</text>
<rect x="218.3" y="29.5" width="92.09999999999997" height="91.1" fill="#fff"/>
<rect x="227.30" y="29.5" width="2.4" height="91.1" fill="#e6e6e2"/>
<rect x="218.3" y="108.70" width="92.09999999999997" height="2.4" fill="#e6e6e2"/>
<line x1="236.50" y1="29.50" x2="236.50" y2="120.60" stroke="#dedede" stroke-width="0.7"/>
<line x1="258.80" y1="29.50" x2="258.80" y2="120.60" stroke="#dedede" stroke-width="0.7"/>
<line x1="280.30" y1="29.50" x2="280.30" y2="120.60" stroke="#dedede" stroke-width="0.7"/>
<line x1="301.10" y1="29.50" x2="301.10" y2="120.60" stroke="#dedede" stroke-width="0.7"/>
<line x1="218.30" y1="37.40" x2="310.40" y2="37.40" stroke="#dedede" stroke-width="0.7"/>
<line x1="218.30" y1="59.00" x2="310.40" y2="59.00" stroke="#dedede" stroke-width="0.7"/>
<line x1="218.30" y1="80.80" x2="310.40" y2="80.80" stroke="#dedede" stroke-width="0.7"/>
<line x1="218.30" y1="102.70" x2="310.40" y2="102.70" stroke="#dedede" stroke-width="0.7"/>
<line x1="218.30" y1="118.80" x2="310.40" y2="118.80" stroke="#dedede" stroke-width="0.7"/>
<ellipse cx="234.3" cy="109.8" rx="18" ry="6.8" fill="#000"/>
<path d="M236.3 109.6h0M239.4 110.8h0M233.4 118.5h0M226.9 119.8h0M231.5 104.9h0M225.9 114.6h0M236.9 112.4h0M250.4 111.3h0M231.1 111.7h0M229.8 109.2h0M241.4 117.3h0M240.0 112.4h0M237.4 111.0h0M226.5 115.5h0M236.0 113.8h0M243.6 111.6h0M222.2 110.9h0M231.5 118.1h0M218.8 111.9h0M222.8 108.9h0M218.8 105.0h0M233.8 107.6h0M223.0 104.1h0M239.1 109.9h0M237.9 110.6h0M234.3 99.1h0M218.8 109.4h0M230.6 112.6h0M235.8 110.1h0M237.5 104.5h0M220.2 115.7h0M231.3 105.8h0M226.0 103.2h0M227.8 103.9h0M247.4 109.2h0M227.8 114.2h0M236.0 115.1h0M245.6 110.4h0M230.2 103.3h0M235.1 106.0h0M237.5 104.8h0M237.0 108.4h0M223.4 100.4h0M237.1 109.9h0M250.6 112.5h0M220.1 108.6h0M245.3 111.6h0M237.6 104.6h0M229.6 102.0h0M257.3 106.1h0M244.3 115.1h0M223.7 114.5h0M237.1 107.0h0M242.4 115.3h0M234.3 107.7h0M243.5 116.9h0M235.6 111.7h0M243.3 107.0h0M251.4 113.3h0M229.2 105.4h0M238.4 104.6h0M231.4 102.0h0M237.6 110.6h0M223.8 109.0h0M230.2 108.9h0M234.2 107.3h0M245.7 116.5h0M248.3 107.2h0M222.4 105.7h0M228.0 115.5h0M243.1 116.4h0M218.8 111.0h0M231.4 100.6h0M235.3 106.3h0M249.5 112.4h0M243.5 109.4h0M232.9 117.1h0M232.4 102.5h0M233.7 112.7h0M252.3 106.2h0M231.8 115.9h0M233.1 108.9h0M240.0 114.5h0M235.0 106.1h0M234.2 102.3h0M224.6 103.7h0M236.2 106.3h0M231.6 104.2h0M248.5 115.3h0M243.2 116.0h0M236.0 110.7h0M243.3 104.1h0M232.7 108.7h0M247.3 105.9h0M236.2 116.6h0M242.4 110.9h0M222.7 111.7h0M239.9 107.3h0M218.8 99.2h0M218.8 105.4h0M233.1 103.7h0M226.9 111.2h0M238.0 109.8h0M259.9 105.3h0M227.6 107.4h0M229.7 117.1h0M238.5 104.5h0M241.5 104.7h0M234.4 108.2h0M234.1 105.8h0M243.7 107.2h0M241.8 112.0h0M225.4 118.0h0M235.5 100.4h0M236.7 109.2h0M225.2 109.5h0M239.0 108.9h0M227.3 108.4h0M246.5 107.6h0M238.3 114.3h0M237.2 107.0h0M230.1 108.7h0M235.1 109.3h0M218.8 109.8h0M224.4 108.4h0M240.1 114.3h0M218.8 109.3h0M245.2 110.2h0M218.8 109.0h0M244.2 104.3h0M227.4 105.2h0M244.5 104.0h0M237.7 110.3h0M220.2 105.7h0M249.4 104.0h0M251.4 110.5h0M235.6 111.9h0M233.4 100.5h0M234.6 117.7h0M226.1 109.5h0M247.8 108.8h0M230.6 114.6h0M235.8 109.6h0M228.0 106.3h0M229.7 119.8h0M222.9 103.9h0M249.5 108.8h0M234.7 113.5h0M246.4 104.0h0M236.4 108.8h0M229.0 111.2h0M232.9 119.8h0M230.4 104.8h0M236.4 109.1h0M232.4 112.6h0M233.2 109.7h0M221.8 103.3h0M227.8 111.3h0M253.7 109.8h0M229.3 111.5h0M225.2 115.0h0M239.8 114.4h0M251.1 111.3h0M221.0 110.9h0M234.1 103.8h0M229.7 108.6h0M218.8 110.4h0M244.0 107.3h0M236.1 109.8h0M237.1 105.2h0M228.4 117.0h0M241.1 119.8h0M230.6 107.4h0M234.8 111.3h0M224.7 108.1h0M223.5 115.6h0M250.3 111.5h0M231.0 109.7h0M239.4 108.2h0M235.9 109.9h0M231.7 104.3h0M231.0 112.7h0M242.9 105.7h0M233.1 112.0h0M234.7 109.9h0M236.5 114.8h0M248.7 109.2h0M243.4 114.4h0M240.3 104.7h0M230.4 112.3h0M221.8 108.2h0M246.3 110.3h0M246.4 109.7h0M234.8 114.0h0M242.0 99.2h0M244.5 110.9h0M245.0 101.8h0M246.0 115.3h0M231.5 99.4h0M252.2 104.3h0M223.2 100.9h0M245.3 117.5h0M241.5 102.9h0M245.5 109.9h0M256.0 106.6h0M251.9 100.3h0M224.3 107.6h0M218.8 112.6h0M244.9 108.4h0M225.6 114.0h0M236.2 107.5h0M245.1 109.3h0M219.0 107.4h0M218.8 111.0h0M239.0 118.8h0M236.8 111.1h0M233.7 110.3h0M236.7 106.2h0M227.3 105.5h0M220.4 116.6h0M234.6 103.7h0M226.1 104.7h0M219.0 108.8h0M241.6 107.2h0M235.7 119.1h0M240.6 97.5h0M225.9 111.1h0M229.4 112.9h0M225.8 103.7h0M227.0 106.1h0M238.4 111.5h0M228.1 117.4h0M240.0 104.7h0M239.9 101.4h0M257.6 114.2h0M221.7 116.9h0M245.6 107.6h0M235.4 98.2h0M236.2 116.6h0M221.1 108.3h0M231.5 114.9h0M244.1 109.1h0M235.4 107.4h0M237.2 107.0h0M233.2 116.7h0M248.4 116.5h0M236.1 98.6h0M218.8 104.6h0M229.0 118.2h0M218.8 107.5h0M218.8 102.5h0M230.7 109.3h0M250.3 108.8h0M236.8 108.8h0M224.0 106.9h0M226.4 107.7h0M248.2 107.0h0M238.0 111.0h0M236.8 105.2h0M235.7 107.9h0M236.7 108.6h0M244.8 115.8h0M242.1 111.2h0M238.6 108.8h0M225.3 112.0h0M241.7 111.3h0M229.1 114.7h0M247.8 111.8h0M223.0 118.3h0M234.9 116.0h0M236.2 109.1h0M222.4 107.2h0M254.4 113.7h0M251.6 111.9h0M231.4 108.8h0M244.4 101.9h0M240.3 100.1h0M218.8 111.0h0M238.9 113.2h0M235.7 113.3h0M237.2 102.9h0M225.0 114.5h0M233.5 106.6h0M234.4 111.2h0M248.8 111.4h0M239.8 105.3h0M236.2 106.3h0M252.4 98.9h0M230.5 104.7h0M232.2 100.3h0M218.8 111.5h0M252.8 109.6h0M246.4 113.9h0M245.9 111.1h0M243.3 106.1h0M237.5 111.0h0M238.6 107.3h0M233.7 112.3h0M234.2 110.9h0M236.9 104.4h0M252.2 109.3h0M242.1 109.6h0M235.7 107.8h0M230.2 113.8h0M229.6 117.9h0M253.1 107.5h0M241.6 107.5h0M237.0 98.1h0M232.7 108.7h0M224.7 107.1h0M235.6 98.5h0M245.5 110.7h0M232.2 112.3h0M233.9 105.6h0M234.0 107.4h0M237.5 104.5h0M219.6 113.1h0M233.8 101.7h0M227.3 107.7h0M245.6 119.1h0M228.2 109.6h0M242.4 111.6h0M252.3 108.6h0M233.0 103.4h0M230.0 109.1h0M238.3 111.3h0M236.3 104.2h0M225.9 111.0h0M241.1 115.5h0M257.5 114.6h0M233.6 101.4h0M234.2 104.4h0M225.3 101.2h0M239.7 114.7h0M223.2 112.4h0M224.7 112.8h0M249.7 104.9h0M226.8 103.5h0M247.7 109.7h0M252.3 109.8h0M239.0 105.0h0M242.1 110.0h0M256.8 112.5h0M234.2 110.4h0M230.1 104.1h0M222.1 98.7h0M236.7 108.0h0M251.8 110.1h0M246.4 108.0h0M226.4 107.2h0M227.3 105.8h0M231.0 112.9h0M239.4 109.0h0M234.1 109.9h0M238.6 104.4h0M239.4 106.2h0M233.2 110.1h0M235.9 104.3h0M238.5 103.0h0M235.4 107.7h0M241.6 115.3h0M255.9 110.3h0M242.5 116.6h0M236.9 108.6h0M218.8 107.7h0M240.4 102.3h0M218.8 106.4h0M221.5 116.5h0M245.3 110.9h0M243.7 113.0h0M234.7 112.8h0M218.8 109.3h0M232.4 108.3h0M229.2 109.9h0M243.0 112.7h0M260.0 111.6h0M238.6 111.8h0M228.1 110.1h0M224.0 105.5h0M235.7 108.0h0M234.4 104.6h0M224.2 114.3h0M237.5 98.8h0M224.2 108.2h0M248.0 119.8h0M247.5 107.6h0M247.7 103.6h0M231.3 109.2h0M241.7 115.7h0M234.9 108.5h0M232.2 112.4h0M232.7 109.8h0M222.7 107.4h0M221.1 119.8h0M244.6 109.7h0M234.3 106.6h0M238.6 106.9h0M246.8 111.2h0M218.8 111.3h0M228.1 113.2h0M238.1 110.0h0M240.4 102.1h0M232.3 112.0h0M247.1 107.8h0M238.5 107.9h0M223.6 101.9h0M226.5 106.4h0M244.8 105.7h0M241.2 109.1h0M218.8 102.0h0M250.5 109.6h0M242.6 109.9h0M250.4 103.7h0M232.3 106.2h0M233.2 105.0h0M224.5 113.8h0M262.9 96.7h0M234.5 107.6h0M253.0 101.0h0M229.5 107.1h0M238.0 113.5h0M218.8 106.1h0M232.3 110.0h0M246.6 105.1h0M223.2 119.0h0M247.6 113.9h0M239.8 114.9h0M225.3 102.7h0M231.0 103.8h0M231.5 114.7h0M235.8 108.3h0M230.7 108.0h0M227.6 111.0h0M233.1 103.0h0M225.5 113.2h0M222.8 109.4h0M235.8 111.7h0M245.6 105.9h0M220.2 111.9h0M236.3 105.8h0M229.5 114.1h0M226.0 114.9h0M245.3 113.9h0M230.9 111.9h0M252.0 112.5h0M228.1 95.8h0M240.4 113.5h0M233.9 107.9h0M228.4 109.8h0M242.5 107.9h0M234.7 102.3h0M242.6 106.6h0M235.8 112.6h0M224.9 116.4h0M235.2 106.2h0M236.8 104.8h0M246.4 116.6h0M226.8 104.9h0M235.9 119.7h0M218.8 109.6h0M243.1 104.9h0M224.9 114.2h0M218.8 117.8h0M235.7 102.1h0M247.9 117.1h0M220.3 107.9h0M224.9 116.7h0M228.5 107.4h0M224.4 101.4h0M240.3 111.8h0M227.8 113.9h0M228.7 119.8h0M242.4 117.9h0M228.4 112.8h0M240.8 108.1h0M226.1 106.7h0M223.6 107.8h0M218.8 105.1h0M255.8 107.9h0M232.9 96.6h0M238.9 110.2h0M236.0 109.2h0M238.0 119.8h0M236.8 113.1h0M256.3 106.9h0M225.4 112.1h0M219.9 103.2h0M225.7 106.3h0M222.3 100.0h0M244.1 116.5h0M244.9 112.3h0M226.2 103.4h0M221.7 109.0h0M232.6 114.0h0M250.9 111.8h0M218.8 111.2h0M241.8 105.0h0M225.0 106.1h0M247.2 109.8h0M225.0 113.9h0M233.3 105.2h0M220.5 103.7h0M226.0 115.0h0M250.9 104.6h0M244.9 114.7h0M232.1 110.5h0M227.2 113.7h0M218.8 118.0h0M232.2 112.7h0M236.0 113.2h0M235.4 104.7h0M235.3 105.8h0M224.5 112.5h0M235.6 117.0h0M235.9 116.3h0M249.9 119.8h0M255.9 110.9h0M234.9 110.3h0M228.3 114.3h0M235.6 109.4h0M229.9 109.0h0M228.5 104.1h0M235.7 114.3h0M225.3 103.9h0M242.7 111.9h0M235.2 102.2h0M238.9 114.8h0M234.4 104.2h0M228.7 113.5h0M226.3 101.4h0M233.8 107.1h0M230.5 115.2h0M238.8 105.3h0M236.3 109.6h0M222.0 106.9h0M237.0 97.8h0M222.2 110.8h0M229.8 111.5h0M233.2 103.8h0M218.8 112.2h0M237.3 105.3h0M237.9 104.3h0M234.6 109.3h0M231.8 105.9h0M232.4 119.8h0M226.0 101.5h0M233.5 113.0h0M230.5 114.2h0M237.3 99.4h0M223.7 100.6h0M238.8 112.1h0M237.8 106.9h0M234.8 111.2h0M231.7 115.0h0M242.1 107.4h0M218.8 104.0h0M241.1 95.7h0M238.9 110.3h0M239.3 104.7h0M240.3 110.9h0M229.4 110.5h0M233.6 102.4h0M243.0 117.9h0M240.8 114.7h0M238.5 113.5h0M220.4 103.4h0M241.9 107.3h0M248.6 106.6h0M246.9 107.2h0M238.8 103.7h0M219.9 111.5h0M246.2 110.4h0M234.8 111.1h0M218.8 106.8h0M240.3 115.8h0M220.6 110.2h0M222.7 95.6h0M229.6 106.1h0M249.7 109.0h0M232.4 114.1h0M239.1 107.8h0M254.7 108.0h0M253.0 106.0h0M235.2 112.6h0M233.8 107.1h0M223.1 106.3h0M229.0 105.6h0M240.8 112.1h0M240.5 106.6h0M237.5 100.9h0M246.7 112.4h0M228.2 105.8h0M235.7 111.1h0M244.0 111.2h0M242.4 115.3h0M247.5 114.5h0M240.5 106.4h0M233.1 108.5h0M240.1 102.8h0M225.8 117.7h0M219.1 111.5h0M242.4 116.3h0M235.7 107.7h0M239.5 99.1h0M218.8 117.0h0M232.5 109.8h0M230.0 110.0h0M227.2 109.6h0M218.8 112.5h0M232.8 112.0h0M245.7 101.3h0M240.3 114.7h0M230.0 106.7h0M236.1 107.0h0M244.2 117.9h0M218.8 113.9h0M235.0 107.6h0M242.0 100.0h0M243.5 110.1h0M254.2 112.0h0M248.2 108.9h0M239.6 103.1h0M239.5 105.3h0M244.6 103.0h0M230.6 110.4h0M235.9 113.4h0M245.8 114.4h0M256.9 105.6h0M234.6 110.5h0M235.8 112.1h0M238.4 106.7h0M250.4 108.6h0M236.0 119.8h0M251.7 110.3h0M226.2 113.7h0M234.3 107.1h0M234.2 109.5h0M244.6 100.7h0M247.3 109.2h0M220.5 115.3h0M226.7 119.8h0M239.8 115.3h0M229.4 112.7h0M220.3 109.6h0M247.2 106.3h0M241.5 108.5h0M241.5 112.4h0M231.3 105.4h0M247.1 114.0h0M233.8 104.4h0M247.8 100.4h0M226.7 104.2h0M227.3 101.0h0M238.4 102.4h0M228.9 115.0h0M243.4 108.3h0M239.0 110.4h0M226.6 115.1h0M237.1 115.6h0M232.6 106.8h0M245.9 115.9h0M229.7 111.2h0M231.7 109.3h0M249.0 111.5h0M259.8 102.2h0M257.3 105.4h0M237.0 108.8h0M238.6 112.3h0M252.4 107.4h0M235.0 108.7h0M226.0 114.1h0M237.5 116.4h0M241.0 113.1h0M227.6 115.6h0M219.0 107.3h0M221.2 107.8h0M243.3 110.9h0M228.3 107.8h0M234.8 106.8h0M238.5 117.6h0M242.8 108.3h0M232.8 104.5h0M241.5 111.7h0M227.0 118.5h0M232.5 109.7h0M225.5 115.5h0M248.2 107.1h0M236.0 106.8h0M228.5 105.9h0M232.6 108.6h0M234.0 118.5h0M243.7 103.5h0M219.5 117.5h0M225.4 104.3h0M232.3 108.1h0M262.9 113.5h0M246.3 112.5h0M235.1 110.7h0M243.8 101.1h0M257.9 111.1h0M233.8 104.2h0M232.5 119.8h0M249.0 108.2h0M241.5 110.2h0M243.3 103.6h0M231.0 106.9h0M256.5 102.8h0M254.3 114.2h0M242.2 108.0h0M243.5 112.1h0M218.8 105.9h0M243.0 106.8h0M234.3 115.7h0M240.9 104.4h0M243.5 100.3h0M232.7 111.3h0M218.8 103.6h0M240.2 107.1h0M228.5 113.9h0M232.8 105.2h0M230.0 113.7h0M232.7 105.9h0M218.8 116.8h0M249.1 115.9h0M239.0 106.9h0M248.0 108.2h0M257.1 105.1h0M236.5 110.3h0M218.8 115.0h0M226.9 102.1h0M223.6 113.9h0M231.0 102.7h0M237.1 105.0h0M218.8 100.4h0M239.9 119.8h0M220.4 109.6h0M239.4 110.5h0M235.2 105.9h0M233.0 114.6h0M235.5 98.8h0M230.6 109.4h0M229.9 119.8h0M218.8 107.4h0M236.0 109.4h0M255.7 112.7h0M257.1 105.2h0M250.2 109.4h0M243.7 114.1h0M229.2 110.3h0M251.4 111.2h0M235.7 107.6h0M235.6 110.9h0M233.2 109.6h0M237.3 116.6h0M231.7 112.9h0M235.4 108.1h0M224.9 97.1h0M232.4 112.9h0M260.2 113.1h0M235.6 104.7h0M233.8 99.3h0M241.9 103.6h0M243.7 113.9h0M224.6 104.0h0M234.1 107.0h0M245.9 110.4h0M239.1 115.4h0M237.6 109.2h0M252.6 108.8h0M229.2 106.6h0M237.2 117.5h0M230.8 114.6h0M251.9 108.8h0M218.8 102.3h0M229.3 105.3h0M230.7 112.2h0M243.3 105.7h0M242.7 113.8h0M250.9 111.1h0M219.8 110.8h0M244.2 112.6h0M233.2 111.8h0M229.3 105.0h0M242.0 107.7h0M226.6 119.8h0M218.8 103.3h0M232.4 106.9h0M220.6 114.6h0M229.5 108.5h0M240.2 105.2h0M239.6 102.7h0M253.0 112.0h0M234.2 114.4h0M220.2 116.3h0M228.4 109.6h0M226.6 114.5h0M223.5 104.1h0M240.9 110.1h0M229.5 105.9h0M218.8 110.2h0M243.6 113.1h0M235.1 114.6h0M240.0 104.4h0M237.4 115.6h0M242.9 106.9h0M236.7 104.2h0M249.3 108.4h0M240.8 102.0h0M240.4 109.3h0M240.6 110.7h0M221.0 108.3h0M234.6 112.0h0M233.6 107.7h0M238.5 109.3h0M222.0 102.1h0M253.5 109.5h0M237.4 105.0h0M223.6 107.1h0M218.8 108.8h0M233.3 110.3h0M235.4 101.1h0M228.8 101.5h0M237.3 107.8h0M229.6 111.7h0M242.1 111.1h0M228.7 113.8h0M235.9 115.8h0M246.6 111.8h0M263.3 109.2h0M225.7 104.1h0M231.4 104.6h0M227.5 107.0h0M244.5 110.6h0M224.2 110.4h0M231.2 109.3h0M236.0 108.5h0M226.0 112.5h0M226.2 110.3h0M231.3 110.8h0M218.8 110.8h0M221.1 106.6h0M232.0 104.1h0M237.9 111.8h0M234.3 111.4h0M218.8 108.2h0M231.4 107.2h0M244.7 119.8h0M242.1 105.5h0M235.5 108.2h0M227.0 110.6h0M242.9 103.5h0M230.2 109.9h0M224.0 118.3h0M227.9 114.0h0M251.5 112.5h0M238.6 112.3h0M248.5 109.9h0M231.3 114.1h0M246.2 108.5h0M230.0 107.2h0M234.6 109.8h0M262.4 113.8h0M244.4 111.0h0M231.0 112.7h0M235.4 99.2h0M239.7 115.3h0M249.0 119.8h0M231.2 116.0h0M218.8 107.7h0M233.4 105.1h0M236.5 110.7h0M237.5 104.4h0M250.1 112.9h0M239.6 106.7h0M244.8 114.1h0M224.7 116.1h0M245.4 99.1h0M258.3 110.8h0M244.4 105.8h0M239.0 102.3h0M237.9 106.2h0M255.1 108.2h0M226.6 114.5h0M235.1 101.7h0M241.1 114.6h0M244.1 119.4h0M231.7 112.3h0M239.5 112.0h0M233.4 109.2h0M237.6 103.4h0M234.9 112.0h0M224.3 111.2h0M236.1 113.0h0M245.5 119.8h0M226.1 112.9h0M233.8 111.4h0M243.3 117.1h0M225.1 102.6h0M238.2 103.6h0M225.2 107.4h0M248.2 106.0h0M260.6 112.8h0M257.5 107.7h0M234.0 118.0h0M244.1 116.9h0M237.6 113.2h0M237.4 107.4h0M252.6 112.4h0M222.4 113.4h0M247.4 104.0h0M235.8 111.0h0M251.1 112.8h0M238.3 110.4h0M229.2 117.2h0M239.2 115.4h0M244.0 105.2h0M236.7 109.9h0M241.4 105.1h0M230.8 112.2h0M218.8 105.0h0M245.8 113.9h0M243.6 111.2h0M237.9 114.2h0M237.0 108.6h0M247.2 102.0h0M231.5 118.1h0M228.9 108.4h0M234.3 116.2h0M248.8 111.5h0M221.7 112.7h0M248.8 118.4h0M229.6 111.0h0M224.7 116.3h0M249.5 101.9h0M235.3 113.7h0M222.6 108.1h0M232.5 108.6h0M246.1 109.3h0M248.8 111.0h0M231.8 117.6h0M240.6 100.0h0M243.8 109.5h0M229.5 105.7h0M240.0 115.1h0M236.0 107.2h0M230.7 111.6h0M231.1 107.3h0M237.0 112.6h0M236.6 114.4h0M230.4 107.3h0M231.8 109.5h0M248.0 102.2h0M238.5 110.8h0M245.6 113.6h0M248.9 106.5h0M242.5 114.9h0M260.1 98.9h0M227.6 100.0h0M244.8 102.4h0M233.0 106.9h0M255.8 109.4h0M254.2 108.9h0M218.8 109.0h0M226.1 112.9h0M243.3 106.9h0M244.6 103.0h0M244.0 103.1h0M235.6 119.8h0M241.1 97.5h0M243.2 108.4h0M235.5 116.6h0M247.1 111.7h0M218.8 105.2h0M243.0 109.3h0M225.4 113.6h0M246.4 115.3h0M233.9 104.8h0M227.0 113.1h0M240.2 110.6h0M226.7 114.8h0M226.7 116.3h0M219.8 107.6h0M236.0 102.1h0M241.5 111.3h0M247.0 118.2h0M234.8 112.7h0M247.3 110.5h0M236.5 119.8h0M235.3 104.1h0M242.3 113.8h0M247.4 106.4h0M232.7 109.5h0M233.7 109.7h0M234.6 116.9h0M237.2 104.6h0M226.8 106.6h0M247.1 101.3h0M232.1 111.7h0M241.2 107.0h0M227.6 111.4h0M240.1 103.9h0M240.4 107.5h0M231.9 114.5h0M257.5 108.4h0M240.2 112.4h0M255.0 111.9h0M246.4 107.5h0M229.3 101.5h0M232.3 114.2h0M240.9 110.2h0M236.9 114.2h0M236.8 99.2h0M233.3 101.0h0M218.8 98.6h0M233.9 104.9h0M218.8 114.5h0M240.2 112.1h0M228.7 109.1h0M228.8 110.0h0M234.0 113.1h0M239.2 107.8h0M221.3 111.3h0M218.8 110.0h0M225.1 98.4h0M218.8 107.4h0M226.1 116.1h0M253.0 107.3h0M225.2 108.6h0M243.1 106.3h0M221.9 106.9h0M239.4 114.9h0M232.9 108.0h0M235.7 104.2h0M242.3 93.7h0M254.7 106.4h0M238.3 99.5h0M237.6 100.2h0M226.1 113.3h0M242.4 112.8h0M233.7 99.7h0M245.0 113.6h0M235.8 111.6h0M254.6 105.4h0M218.8 113.0h0M233.2 101.2h0M245.6 103.3h0M232.6 102.1h0M228.0 103.7h0M233.5 113.7h0M221.8 102.6h0M237.5 103.5h0M261.9 104.5h0M248.3 110.3h0M224.7 107.6h0M227.1 113.6h0M232.1 105.7h0M246.8 102.9h0M227.7 106.8h0M229.1 109.5h0M245.6 104.6h0M245.4 110.7h0M232.4 118.4h0M224.6 106.4h0M220.0 109.5h0M229.0 116.0h0M218.8 106.0h0M244.2 105.0h0M229.7 103.8h0M241.4 111.2h0M255.9 111.8h0M248.6 108.5h0M224.2 109.4h0M245.4 115.6h0M248.5 113.5h0M228.5 102.2h0M226.3 109.2h0M235.1 109.7h0M219.5 112.8h0M251.7 108.1h0M218.8 106.0h0M224.7 106.9h0M233.5 100.3h0M233.9 109.0h0M238.0 106.2h0M239.2 111.5h0M234.1 104.0h0M248.2 107.0h0M218.8 104.3h0M236.3 103.8h0M228.8 112.6h0M237.7 106.8h0M238.6 111.4h0M226.7 103.5h0M229.6 109.6h0M244.6 100.7h0M240.0 106.7h0M229.2 106.6h0M257.7 112.0h0M260.5 110.0h0M220.9 108.2h0M239.5 113.3h0M262.6 110.0h0M244.5 111.8h0M238.6 112.9h0M234.1 108.8h0M230.6 107.6h0M234.1 110.7h0M230.5 107.0h0M244.1 111.0h0M232.1 114.6h0M231.7 113.3h0M223.7 107.2h0M235.8 102.7h0M226.9 108.8h0M234.4 108.4h0M247.2 114.6h0M240.1 107.2h0M241.6 108.0h0M240.0 112.7h0M236.9 106.7h0M235.0 108.3h0M233.1 117.6h0M244.3 116.5h0M224.9 112.2h0M250.4 110.4h0M236.7 104.2h0M228.4 111.9h0M231.2 109.4h0M229.2 110.2h0M238.0 106.5h0M228.8 109.0h0M248.3 108.1h0M228.1 110.6h0M218.8 116.2h0M228.6 110.9h0M218.8 100.8h0M235.9 104.2h0M247.4 101.2h0M243.1 105.1h0M222.3 111.9h0M228.3 111.1h0M255.0 106.1h0M239.6 110.4h0M236.3 105.3h0M247.4 102.0h0M262.1 102.0h0M249.9 104.8h0M237.8 116.1h0M240.0 102.4h0M242.8 115.3h0M229.9 115.7h0M225.2 108.1h0M236.9 108.8h0M226.4 106.0h0M235.7 108.9h0M237.3 112.3h0M260.9 109.1h0M227.4 114.0h0M235.0 115.0h0M234.6 110.8h0M240.9 110.7h0M247.3 108.7h0M231.1 110.8h0M227.7 103.5h0M219.1 111.1h0M226.6 110.1h0M241.9 104.7h0M236.8 119.8h0M225.6 104.2h0M232.4 104.7h0M236.6 110.4h0M241.6 99.4h0M230.1 105.1h0M233.7 101.4h0M218.8 104.2h0M224.2 108.4h0M253.3 110.6h0M218.8 114.5h0M232.8 113.1h0M238.6 114.9h0M232.4 112.0h0M227.8 106.7h0M235.7 114.6h0M236.2 106.6h0M235.4 106.0h0M218.8 116.7h0M234.8 113.0h0M227.3 110.1h0M230.5 112.8h0M238.7 113.4h0M243.0 102.2h0M245.7 108.6h0M231.1 103.1h0M246.0 109.6h0M248.6 105.7h0M248.2 115.8h0M250.9 111.6h0M234.8 105.0h0M234.5 108.9h0M245.0 103.0h0M222.0 109.2h0M238.5 111.8h0M230.7 110.3h0M232.4 99.4h0M218.8 107.3h0M226.9 111.6h0M236.1 110.5h0M245.6 114.8h0M246.7 102.6h0M235.5 111.6h0M234.3 105.8h0M227.6 110.0h0M240.5 111.0h0M233.7 112.4h0M242.7 106.1h0M254.7 109.9h0M236.0 103.2h0M220.6 102.0h0M227.3 111.8h0M221.0 108.7h0M223.7 100.9h0M250.0 104.8h0M238.7 109.1h0M220.3 116.8h0M243.2 114.2h0M249.5 113.0h0M232.5 100.1h0M229.2 108.5h0M232.8 111.4h0M239.3 111.0h0M243.0 111.1h0M248.7 107.8h0M249.0 117.8h0M248.7 116.4h0M250.6 108.5h0M243.2 104.1h0M220.2 119.3h0M234.9 106.2h0M239.6 115.0h0M232.3 118.6h0M245.9 104.3h0M232.5 110.5h0M226.6 107.3h0M251.5 111.6h0M243.3 110.6h0M238.6 118.7h0M246.0 112.0h0M247.5 109.0h0M239.9 114.6h0M218.8 107.6h0M229.2 107.2h0M231.5 119.8h0M226.0 104.9h0M238.4 106.6h0M248.8 109.2h0M231.2 103.7h0M224.4 98.5h0M257.6 114.3h0M231.6 105.1h0M223.4 106.3h0M238.8 107.1h0M240.8 104.1h0M228.9 103.6h0M244.6 109.8h0M231.2 119.8h0M226.6 112.7h0M238.2 112.7h0M244.4 101.5h0M229.6 108.9h0M239.8 103.1h0M235.3 112.9h0M266.0 107.9h0M228.9 109.2h0M250.8 108.6h0M235.8 106.1h0M235.0 101.4h0M243.9 111.9h0M245.7 102.1h0M249.6 103.1h0M239.8 107.5h0M230.0 105.5h0M230.7 110.3h0M241.7 114.1h0M242.4 110.2h0M251.0 110.0h0M240.7 109.1h0M247.4 113.3h0M252.2 99.8h0M238.0 110.8h0M220.7 104.3h0M223.9 102.8h0M221.2 109.0h0M253.0 107.1h0M227.4 111.9h0M249.2 114.5h0M242.5 97.4h0M254.3 108.6h0M246.8 118.8h0M235.2 113.3h0M234.2 116.2h0M237.2 109.5h0M238.1 101.8h0M230.7 103.4h0M236.0 112.6h0M253.2 113.8h0M218.8 105.3h0M239.0 107.7h0M226.8 110.3h0M238.3 100.3h0M245.1 107.3h0M235.7 117.1h0M244.4 119.8h0M219.6 108.5h0M247.9 118.2h0M230.0 106.4h0M242.8 105.0h0M238.2 97.8h0M218.8 113.8h0M228.4 107.1h0M238.6 119.8h0M252.6 110.7h0M239.3 109.9h0M239.0 100.0h0M221.5 116.5h0M251.3 107.2h0M255.3 108.2h0M236.6 98.0h0M234.0 113.6h0M219.3 114.0h0M245.6 106.0h0M264.7 109.5h0M243.8 111.0h0M249.6 113.8h0M242.0 109.5h0M226.0 117.6h0M250.3 107.8h0M223.3 106.0h0M234.1 106.7h0M239.2 96.3h0M245.6 105.0h0M240.7 114.1h0M240.4 110.3h0M228.3 104.9h0M222.8 110.8h0M236.9 98.9h0M228.8 107.6h0M222.6 111.6h0M223.0 112.5h0M231.2 105.2h0M218.8 113.6h0M222.2 118.4h0M219.1 106.9h0M238.2 112.7h0M240.6 101.2h0M257.4 99.2h0M220.6 112.1h0M229.2 109.2h0M245.9 110.0h0M234.0 106.1h0M232.9 107.6h0M254.2 113.1h0M232.7 117.6h0M224.2 108.0h0M222.5 100.8h0M239.8 115.4h0M239.5 112.1h0M221.9 112.5h0M226.0 110.0h0M241.9 119.8h0M242.4 109.4h0M229.5 111.6h0M242.8 99.8h0M242.3 106.1h0M218.8 105.6h0M233.0 108.9h0M240.7 110.8h0M230.3 105.3h0M218.8 117.7h0M233.3 103.7h0M244.2 106.8h0M252.9 110.2h0M218.8 102.8h0M263.7 111.9h0M224.5 112.2h0M246.3 107.6h0M249.3 118.6h0M246.6 109.5h0M237.9 110.5h0M224.1 104.2h0M242.9 100.7h0M228.8 105.9h0M218.8 107.4h0M266.0 106.8h0M243.7 112.9h0M255.4 97.1h0M226.7 103.4h0M251.7 99.9h0M253.0 115.8h0M252.6 106.2h0M236.1 106.5h0M223.7 103.5h0M234.4 113.5h0M218.8 107.0h0M218.8 110.2h0M237.3 98.9h0M225.9 114.9h0M234.6 111.0h0M235.2 111.8h0M256.6 115.2h0M249.9 108.1h0M235.8 108.2h0M249.0 112.6h0M228.1 111.2h0M232.8 107.8h0M245.9 109.3h0M223.3 106.5h0M233.4 112.6h0M222.4 113.7h0M237.5 109.1h0M253.4 118.5h0M228.4 101.4h0M238.7 107.9h0M226.9 117.6h0M224.2 106.9h0M223.3 101.0h0M251.6 116.0h0M261.1 111.8h0M241.4 103.1h0M228.8 112.9h0M243.7 103.9h0M232.8 102.3h0M244.7 108.3h0M239.4 106.7h0M239.2 103.6h0M242.7 107.2h0M230.2 104.0h0M232.1 109.4h0M218.8 108.9h0M231.7 112.8h0M221.4 106.8h0M234.8 102.4h0M226.2 102.4h0M237.4 107.8h0M241.1 116.8h0M221.4 113.3h0M227.8 105.8h0M226.4 113.8h0M244.1 103.2h0M254.2 114.1h0M245.2 107.1h0M232.6 112.9h0M251.7 112.2h0M220.4 107.7h0M252.0 110.7h0M229.4 103.7h0M218.8 108.7h0M264.1 114.5h0M252.9 119.8h0M225.5 112.6h0M238.1 109.5h0M234.0 104.0h0M237.4 114.4h0M220.7 100.8h0M229.1 105.0h0M241.2 110.9h0M238.6 103.0h0M248.9 116.8h0M237.1 114.5h0M261.0 106.2h0M228.8 106.3h0M239.0 102.5h0M218.8 102.0h0M223.1 111.3h0M250.2 112.2h0M226.4 110.8h0M241.9 110.4h0M235.7 106.3h0M225.3 110.9h0M232.6 101.7h0M230.9 109.1h0M231.2 116.5h0M244.2 115.7h0M243.1 106.7h0M230.2 107.4h0M226.8 116.0h0M239.3 118.0h0M235.2 101.6h0M247.1 106.9h0M264.2 110.2h0M245.2 115.2h0M235.9 104.9h0M234.5 112.3h0M227.3 107.6h0M226.8 119.8h0M225.8 111.2h0M232.1 108.4h0M231.8 107.4h0M244.1 114.4h0M232.1 112.5h0M234.2 103.6h0M223.5 110.2h0M253.6 102.4h0M241.6 105.3h0M255.1 102.6h0M244.7 102.4h0M251.9 105.6h0M233.7 104.2h0M243.8 111.7h0M264.7 113.1h0M223.5 107.9h0M248.7 103.5h0M254.1 113.1h0M240.7 98.9h0M244.3 99.4h0M249.7 112.7h0M229.3 112.4h0M240.7 114.0h0M227.0 108.0h0M229.0 102.7h0M229.7 106.5h0M234.8 111.9h0M237.9 105.2h0M241.2 105.6h0M221.1 102.1h0M257.6 103.2h0M248.7 113.3h0M244.1 111.4h0M232.5 103.2h0M235.3 103.7h0M242.2 106.3h0M240.7 111.8h0M218.8 103.2h0M244.3 108.2h0M267.7 98.3h0M218.8 102.8h0M247.0 111.2h0M240.3 113.6h0M235.1 103.3h0M251.1 105.2h0M223.6 113.1h0M238.1 107.1h0M252.1 106.4h0M234.2 111.7h0M231.8 110.1h0M237.5 114.7h0M231.5 113.1h0M253.0 106.2h0M226.5 108.5h0M245.7 108.8h0M222.8 102.3h0M243.5 104.2h0M235.2 114.0h0M218.8 101.1h0M236.2 114.1h0M224.8 110.5h0M231.5 108.4h0M252.9 111.8h0M224.2 111.5h0M224.9 115.2h0M251.8 107.1h0M237.6 107.9h0M252.9 107.9h0M239.8 118.5h0M226.8 113.8h0M235.6 104.5h0M249.6 107.4h0M246.5 105.5h0M236.3 109.2h0M236.8 110.2h0M235.1 119.8h0M230.1 99.9h0M257.2 114.3h0M236.4 111.3h0M224.1 105.6h0M231.2 108.3h0M244.1 106.6h0M243.2 109.4h0M234.8 114.2h0M229.1 101.5h0M236.6 115.7h0M218.8 107.2h0M222.2 116.6h0M244.9 111.2h0M231.1 115.3h0M240.3 111.9h0M249.5 114.6h0M243.3 109.4h0M236.5 104.9h0M259.3 112.5h0M243.5 112.7h0M232.5 119.6h0M244.2 99.1h0M240.7 108.1h0M227.1 114.4h0M237.1 102.8h0M234.5 108.0h0M218.8 119.7h0M234.4 116.2h0M233.2 104.7h0M231.6 116.3h0M218.8 115.1h0M232.5 113.0h0M235.9 111.0h0M237.4 110.3h0M224.0 104.8h0M243.1 106.6h0M223.2 112.8h0M233.9 109.8h0M250.4 118.4h0M228.8 107.5h0M230.8 97.1h0M247.9 107.5h0M232.2 110.5h0M233.1 111.1h0M238.7 109.5h0M247.6 105.0h0M218.8 116.6h0M227.4 105.8h0M225.4 112.7h0M224.6 107.7h0M227.1 103.2h0M227.3 116.2h0M239.5 96.6h0M226.7 104.9h0M237.6 111.3h0M240.6 107.4h0M228.4 112.9h0M237.7 108.7h0M253.9 106.9h0M239.8 119.8h0M229.4 108.1h0M235.6 108.4h0M226.5 103.8h0M239.2 105.4h0M245.6 112.4h0M227.5 112.0h0M234.1 109.2h0M248.2 105.7h0M231.0 112.6h0M238.3 100.7h0M225.3 107.5h0M227.5 107.9h0M230.8 105.0h0M259.2 110.0h0M232.0 105.9h0M230.7 105.2h0M230.4 118.2h0M234.6 112.9h0M243.2 115.2h0M238.3 109.5h0M257.9 114.1h0M238.5 113.1h0M251.5 115.3h0M239.2 119.8h0M242.7 108.1h0M221.1 110.5h0M235.0 109.0h0M235.6 91.7h0M233.7 102.3h0M218.8 109.3h0M245.5 112.4h0M232.2 106.4h0M231.7 114.9h0M233.6 115.7h0M233.9 107.2h0M240.6 116.4h0M223.0 118.0h0M226.5 111.6h0M239.4 104.4h0M237.8 116.6h0M232.3 108.5h0M230.3 107.4h0M227.5 109.9h0M235.7 106.6h0M248.7 114.7h0M225.2 113.2h0M252.3 115.4h0M245.2 112.2h0M231.5 105.3h0M244.5 108.5h0M220.9 113.7h0M218.8 107.3h0M222.8 119.8h0M232.0 108.1h0M232.9 106.4h0M230.9 115.0h0M237.3 113.0h0M218.8 109.2h0M241.5 108.1h0M221.4 111.4h0M229.4 113.5h0M232.0 113.1h0M224.2 107.8h0M221.9 111.5h0M225.7 113.5h0M236.2 113.1h0M242.5 93.9h0M242.2 104.8h0M225.9 105.4h0M228.0 108.1h0M226.6 110.2h0M241.0 113.9h0M218.8 112.4h0M249.3 108.7h0M231.2 109.4h0M228.1 118.1h0M239.9 106.2h0M247.1 110.8h0M239.9 117.1h0M247.4 111.0h0M237.7 99.1h0M249.2 111.2h0M249.4 107.4h0M235.3 108.7h0M251.4 114.6h0M238.0 111.6h0M237.2 108.0h0M226.6 113.8h0M233.3 111.5h0M244.5 109.8h0M222.5 110.8h0M243.1 110.6h0M240.0 107.6h0M239.2 107.0h0M218.8 109.4h0M235.2 104.5h0M243.1 103.0h0M228.3 115.8h0M237.2 108.1h0M218.8 109.2h0M243.3 108.6h0M229.3 109.4h0M245.4 109.4h0M218.8 109.6h0M243.6 105.3h0M233.8 114.0h0M244.8 105.8h0M226.6 114.5h0M229.8 99.7h0M259.8 104.0h0M227.6 114.3h0M228.9 108.6h0M233.4 105.9h0M225.6 111.2h0M248.8 104.1h0M254.4 109.7h0M228.9 98.2h0M218.8 107.0h0M248.6 106.1h0M247.9 112.0h0M244.9 113.7h0M248.4 105.0h0M227.2 117.3h0M234.5 106.3h0M221.8 99.0h0M221.4 97.4h0M246.6 117.0h0M229.2 108.9h0M260.2 106.1h0M237.1 105.6h0M229.6 103.8h0M244.7 116.1h0M255.2 108.9h0M241.4 118.3h0M223.5 108.3h0M240.2 97.5h0M250.7 113.5h0M231.1 107.5h0M228.2 108.1h0M247.0 117.1h0M237.8 108.0h0M224.7 115.1h0M232.3 109.3h0M228.4 105.5h0M239.4 111.8h0M237.5 106.3h0M248.4 115.4h0M243.8 114.1h0M219.9 109.6h0M240.6 112.3h0M245.7 112.1h0M241.1 107.9h0M247.1 113.8h0M230.5 108.2h0M226.3 112.4h0M246.1 104.5h0M225.1 109.8h0M218.8 111.4h0M247.1 105.4h0M228.7 107.2h0M233.1 106.6h0M221.6 113.0h0M222.4 105.7h0M224.2 111.5h0M232.5 116.9h0M240.2 111.1h0M218.8 101.3h0M244.2 110.0h0M223.9 114.5h0M225.1 107.9h0M243.4 114.9h0M235.5 112.4h0M220.2 111.4h0M255.7 108.0h0M227.3 106.8h0M238.9 108.1h0M238.4 109.7h0M251.1 112.0h0M231.5 111.4h0M246.9 107.8h0M228.5 109.7h0M248.1 111.3h0M228.3 101.2h0M232.5 105.5h0M256.2 105.4h0M239.6 108.3h0M237.5 108.0h0M259.8 108.1h0M240.1 105.0h0M227.7 112.7h0M244.0 110.8h0M223.9 101.2h0M248.1 109.4h0M249.0 103.7h0M230.3 117.9h0M229.7 107.1h0M238.2 107.4h0M236.4 109.8h0M226.0 108.4h0M242.3 109.1h0M218.8 117.1h0M231.8 110.5h0M232.1 113.6h0M233.4 115.0h0M239.5 104.5h0M223.4 117.8h0M242.5 112.8h0M234.4 114.2h0M229.5 105.1h0M221.9 113.5h0M223.9 111.5h0M240.1 106.7h0M226.2 119.8h0M237.0 112.2h0M247.5 108.2h0M247.1 110.4h0M252.7 113.9h0M233.2 115.0h0M224.9 112.3h0M247.0 115.5h0M239.6 116.7h0M248.1 103.2h0M236.4 107.0h0M248.9 104.7h0M245.2 109.9h0M243.8 116.6h0M241.6 112.7h0M240.5 104.2h0M238.7 107.9h0M238.7 114.5h0M246.7 106.7h0M230.9 108.9h0M254.5 110.9h0M235.2 100.3h0M246.6 113.3h0M235.4 111.1h0M233.7 112.2h0M257.6 104.5h0M233.1 105.6h0M222.9 106.4h0M228.8 110.7h0M233.0 109.8h0M258.9 110.0h0M238.5 118.4h0M246.1 115.9h0M225.8 105.8h0M240.0 106.1h0M243.4 118.0h0M255.2 107.8h0M229.0 116.3h0M242.6 117.4h0M239.5 106.7h0M225.6 108.1h0M236.1 109.8h0M233.5 105.1h0M218.8 104.5h0M242.6 107.4h0M242.0 113.7h0M231.7 107.2h0M222.2 108.4h0M251.8 107.1h0M239.1 102.6h0M247.0 116.8h0M251.1 97.7h0M230.8 106.1h0M244.8 112.2h0M233.8 102.4h0M235.6 112.4h0M235.4 115.7h0M236.3 105.1h0M248.0 110.4h0M237.6 103.8h0M234.7 111.9h0M233.4 109.8h0M239.9 110.5h0M226.9 116.2h0M231.0 111.8h0M235.8 116.1h0M230.4 112.6h0M235.1 103.4h0M229.9 110.7h0M257.3 111.8h0M250.3 102.2h0M241.0 116.1h0M235.7 109.7h0M259.3 111.2h0M239.7 104.9h0M235.4 109.8h0M239.5 110.9h0M239.5 107.8h0M251.1 109.8h0M236.1 98.8h0M258.3 116.2h0M227.0 103.8h0M243.6 98.5h0M225.8 104.6h0M255.4 105.2h0M232.8 112.1h0M235.7 104.8h0M246.0 110.8h0M249.5 104.6h0M224.6 119.8h0M232.7 112.1h0M221.7 119.2h0M237.7 104.3h0M235.2 112.7h0M232.6 104.6h0M229.1 112.3h0M232.2 112.8h0M228.5 101.4h0M241.9 103.7h0M252.2 103.6h0M218.8 101.9h0M235.1 105.7h0M231.9 104.6h0M241.5 102.2h0M226.3 109.9h0M234.8 112.1h0M225.4 102.8h0M243.6 106.6h0M237.3 109.4h0M234.6 108.2h0M240.2 105.9h0M233.7 113.4h0M220.0 113.6h0M242.6 112.8h0M239.3 108.3h0M234.7 119.3h0M246.6 118.1h0M249.1 107.4h0M224.8 108.8h0M228.1 115.3h0M252.5 105.4h0M251.2 111.3h0M228.5 109.6h0M223.9 105.8h0M229.6 108.2h0M231.1 101.5h0M219.7 106.6h0M236.6 99.4h0M222.9 119.8h0M223.6 116.9h0M245.9 115.5h0M229.1 110.9h0M235.5 114.3h0M242.9 115.7h0M244.8 114.4h0M232.8 113.9h0M236.8 104.8h0M227.6 111.5h0M254.6 106.7h0M243.1 103.4h0M224.7 103.6h0M236.3 111.5h0M243.8 114.6h0M241.3 102.5h0M255.5 118.1h0M250.7 116.7h0M230.6 107.4h0M235.4 107.0h0M222.8 109.0h0M238.9 114.2h0M237.9 107.4h0M264.7 103.8h0M237.3 111.0h0M218.8 99.0h0M229.2 110.0h0M237.5 115.1h0M223.1 110.8h0M227.2 113.2h0M232.5 111.8h0M239.9 112.9h0M234.6 110.0h0M227.0 105.2h0M244.6 108.2h0M230.6 108.9h0M231.1 115.6h0M221.8 117.4h0M228.0 111.4h0M243.1 105.5h0M219.3 105.7h0M235.6 108.4h0M243.8 116.2h0M232.3 111.0h0M238.8 109.0h0M224.6 105.5h0M250.1 113.7h0M247.9 110.7h0M238.8 109.0h0M218.8 109.8h0M225.3 117.7h0M246.6 108.5h0M254.3 117.7h0M239.4 115.5h0M249.4 109.6h0M229.9 113.7h0M234.3 108.7h0M236.3 105.2h0M240.7 108.0h0M220.2 104.8h0M246.2 111.9h0M250.2 109.4h0M224.2 112.1h0M222.1 113.4h0M240.0 93.7h0M229.4 110.9h0M218.8 100.3h0M244.8 110.1h0M237.9 104.9h0M231.3 109.8h0M258.5 116.1h0M237.8 100.8h0M228.4 110.3h0M237.4 108.9h0M225.4 99.8h0M228.3 112.5h0M240.4 109.5h0M230.5 106.8h0M231.6 105.7h0M253.8 119.8h0M245.3 107.3h0M244.7 100.3h0M241.9 104.6h0M241.4 107.5h0M251.6 107.4h0M236.1 108.9h0M255.8 104.1h0M226.3 112.0h0M233.6 106.9h0M221.8 102.5h0M232.7 105.2h0M241.7 107.4h0M251.5 113.5h0M229.3 111.7h0M236.4 107.6h0M232.5 109.4h0M228.5 110.4h0M223.8 119.5h0M236.9 106.2h0M218.8 111.6h0M237.5 112.9h0M236.5 104.5h0M229.4 110.2h0M225.7 110.1h0M221.8 107.0h0M255.9 112.1h0M222.2 114.4h0M252.7 115.0h0M242.6 108.3h0M232.5 110.2h0M224.2 119.8h0M247.2 103.8h0M254.5 110.4h0M226.5 113.7h0M233.2 110.1h0M247.3 112.6h0M239.8 110.2h0M257.3 113.1h0M230.3 115.7h0M242.0 108.2h0M223.2 110.3h0M258.3 109.0h0M228.6 107.3h0M218.8 109.2h0M235.0 103.6h0M234.8 113.0h0M256.4 117.8h0M232.7 117.8h0M236.2 115.7h0M242.5 104.5h0M253.0 116.9h0M235.6 105.7h0M247.2 109.0h0M241.7 118.5h0M233.2 103.9h0M237.1 113.5h0M236.6 110.7h0M226.7 108.5h0M249.0 104.9h0M221.8 111.4h0M248.6 107.0h0M246.3 114.5h0M235.3 115.4h0M228.3 102.4h0M233.9 106.8h0M241.3 107.7h0M244.1 103.4h0M239.3 103.7h0M246.7 109.7h0M230.4 108.3h0M238.8 101.0h0M219.8 106.6h0M244.3 111.9h0M237.9 103.3h0M231.9 104.7h0M248.5 117.2h0M243.6 115.9h0M218.8 101.2h0M236.7 102.5h0M221.0 111.2h0M247.5 103.3h0M262.4 108.0h0M230.9 107.0h0M237.1 112.1h0M233.7 96.7h0M240.0 98.3h0M243.1 103.2h0M249.8 114.4h0M225.9 108.5h0M252.8 100.8h0M226.5 111.8h0M239.2 112.8h0M248.5 108.1h0M243.8 107.6h0M226.4 111.5h0M228.9 115.3h0M231.4 110.1h0M235.8 112.0h0M248.3 109.1h0M222.7 107.4h0M241.2 104.7h0M242.7 110.6h0M242.2 107.8h0M241.2 108.1h0M252.2 113.9h0M241.4 111.7h0M245.3 113.7h0M242.2 101.4h0M255.1 112.1h0M218.8 106.4h0M249.8 105.3h0M233.6 105.0h0M233.4 115.4h0M226.1 113.4h0M218.8 105.7h0M232.3 103.6h0M229.1 109.4h0M241.5 107.0h0M220.8 117.6h0M251.3 102.0h0M239.2 100.2h0M233.7 108.0h0M228.9 109.4h0M228.0 110.0h0M224.4 113.1h0M230.6 119.7h0M236.4 107.6h0M234.4 106.6h0M221.4 100.5h0M233.5 110.5h0M226.9 113.6h0M238.0 108.0h0M255.9 115.2h0M242.9 109.5h0M233.0 116.9h0M219.2 111.0h0M221.4 104.0h0M218.8 106.1h0M243.9 101.6h0M228.3 100.6h0M237.0 110.6h0M229.8 113.6h0M237.3 119.1h0M251.0 109.0h0M229.1 108.1h0M232.7 103.8h0M227.8 114.2h0M245.5 111.2h0M225.5 106.3h0M224.4 112.7h0M221.7 112.1h0M221.5 100.0h0M241.2 113.0h0M263.3 110.0h0M225.8 107.3h0M246.3 107.2h0M238.9 118.0h0M224.7 117.0h0M233.4 118.4h0M233.9 103.6h0M229.0 106.0h0M256.6 113.8h0M218.8 103.3h0M240.3 105.7h0M239.8 100.3h0M230.2 118.6h0M237.9 114.6h0M245.5 111.6h0M237.9 110.4h0M240.7 107.2h0M243.6 107.3h0M218.8 112.4h0M251.8 105.7h0M260.2 115.4h0M246.6 106.8h0M246.9 104.9h0M221.5 115.8h0M235.1 108.6h0M227.8 112.1h0M230.1 107.2h0M246.5 98.0h0M227.9 112.0h0M234.9 102.6h0M218.8 114.7h0M234.6 101.5h0M237.2 100.0h0M228.9 110.8h0M228.7 111.4h0M256.1 109.8h0M223.6 103.2h0M225.3 113.7h0M227.8 102.0h0M248.9 107.0h0M258.4 105.4h0M239.8 107.4h0M228.8 113.6h0M231.8 106.1h0M247.5 112.1h0M226.7 112.8h0M251.6 100.7h0M251.2 103.5h0M237.0 107.4h0M243.1 106.3h0M244.2 110.8h0M252.6 99.6h0M225.3 112.9h0M248.7 113.0h0M232.4 108.5h0M228.2 102.4h0M237.4 109.3h0M234.0 106.6h0M225.9 112.1h0M219.5 108.9h0M226.4 112.9h0M251.5 107.1h0M256.9 116.5h0M243.1 97.8h0M248.8 104.2h0M230.9 111.8h0M235.5 101.7h0M239.3 113.0h0M224.9 103.2h0M225.9 109.8h0M237.3 104.7h0M232.9 107.1h0M225.1 110.2h0M240.4 108.8h0M233.5 107.4h0M247.0 119.8h0M236.2 109.3h0M233.1 104.5h0M237.6 113.9h0M234.5 113.4h0M229.3 115.4h0M232.1 118.2h0M244.2 104.6h0M243.1 114.6h0M249.8 115.0h0M218.8 109.3h0M232.2 110.5h0M231.9 94.3h0M238.1 106.4h0M231.6 118.2h0M230.9 100.4h0M244.5 106.6h0M238.2 110.7h0M224.1 112.2h0M250.3 117.5h0M246.8 100.5h0M230.3 109.5h0M245.0 113.6h0M228.6 102.7h0M248.1 109.1h0M234.0 118.7h0M227.9 115.9h0M232.4 112.0h0M228.3 96.2h0M238.3 108.6h0M238.1 111.2h0M236.7 107.8h0M230.5 109.0h0M218.8 119.8h0M237.3 108.2h0M218.8 104.5h0M238.9 110.5h0M248.2 107.7h0M239.2 107.8h0M232.2 108.9h0M234.4 113.2h0M234.9 110.5h0M230.5 103.3h0M230.2 108.6h0M226.6 111.7h0M248.8 107.0h0M236.1 115.0h0M246.3 113.2h0M233.7 104.3h0M237.1 110.9h0M234.5 119.2h0M241.2 117.1h0M245.0 109.0h0M238.8 113.8h0M229.2 105.9h0M228.1 102.1h0M253.7 112.1h0M233.4 110.5h0M233.2 111.9h0M251.7 109.2h0M247.7 110.9h0M241.9 106.7h0M232.1 111.7h0M261.0 113.5h0M240.4 109.0h0M242.0 113.4h0M234.5 100.4h0M221.4 105.4h0M222.3 116.5h0M240.6 118.1h0M240.4 110.6h0M233.8 108.8h0M224.0 103.0h0M221.2 111.1h0M232.9 113.2h0M221.0 101.9h0M245.7 112.1h0M248.4 111.8h0M266.0 111.5h0M245.5 103.7h0M230.1 112.0h0M227.1 101.8h0M218.8 116.7h0M230.1 110.0h0M234.4 103.5h0M246.5 116.0h0M242.7 115.1h0M242.5 106.0h0M238.5 119.8h0M243.2 104.3h0M251.5 110.9h0M225.1 115.2h0M231.5 97.9h0M221.7 114.3h0M253.3 109.0h0M249.9 109.2h0M244.2 103.9h0M223.7 111.0h0M238.1 103.8h0M233.8 104.5h0M237.1 107.1h0M234.3 103.2h0M241.8 117.2h0M232.2 102.7h0M245.3 105.5h0M238.8 107.7h0M233.2 109.3h0M235.1 113.3h0M231.7 113.4h0M244.8 107.8h0M233.4 107.4h0M239.4 109.5h0M232.2 113.4h0M220.7 112.8h0M245.8 106.7h0M225.2 99.0h0M243.4 119.8h0M240.7 114.1h0M218.9 110.6h0M226.4 111.0h0M230.9 106.7h0M227.7 104.3h0M223.9 107.6h0M244.1 108.2h0M233.8 106.2h0M240.3 102.0h0M231.8 107.7h0M239.5 112.2h0M228.4 106.8h0M236.0 109.4h0M242.4 98.9h0M236.8 108.3h0M231.5 108.7h0M224.9 103.2h0M238.1 100.7h0M239.9 111.4h0M233.6 105.3h0M228.2 111.7h0M242.0 107.2h0M262.4 112.4h0M233.1 107.6h0M239.8 101.8h0M240.3 108.9h0M218.8 107.7h0M237.6 112.6h0M228.9 107.0h0M250.8 107.3h0M233.6 113.6h0M228.1 115.1h0M234.0 113.1h0M238.0 114.5h0M230.4 111.6h0M235.7 113.2h0M222.1 113.7h0M233.9 111.3h0M244.4 109.6h0M257.0 110.0h0M243.7 119.8h0M239.2 109.4h0M248.7 108.1h0M247.0 107.5h0M253.8 109.1h0M247.7 110.5h0M235.1 103.6h0M239.0 99.4h0M238.2 110.8h0M239.5 101.3h0M238.4 110.6h0M228.1 110.0h0M218.8 115.1h0M229.2 117.7h0M218.8 111.1h0M237.0 106.5h0M236.3 103.4h0M218.8 105.3h0M243.5 109.5h0M245.4 99.0h0M237.3 109.7h0M253.8 109.2h0M256.0 112.5h0M223.6 107.6h0M247.2 109.8h0M240.9 105.6h0M240.7 107.0h0M246.1 100.4h0M228.7 109.9h0M230.1 117.0h0M227.6 110.1h0M228.4 111.1h0M235.3 104.4h0M221.1 116.5h0M225.3 105.5h0M242.4 113.3h0M235.6 109.8h0M240.3 104.5h0M218.8 114.4h0M228.1 109.4h0M230.5 110.2h0M236.6 111.6h0M230.1 109.2h0M246.1 107.4h0M235.7 111.6h0M236.5 107.3h0M236.4 109.6h0M243.7 106.0h0M231.3 101.8h0M248.1 105.9h0M241.1 106.8h0M237.9 109.4h0M236.7 115.2h0M241.8 100.9h0M247.0 109.9h0M246.2 98.2h0M240.2 104.1h0M245.5 106.8h0M237.5 98.0h0M249.5 100.0h0M236.0 110.1h0M218.8 109.7h0M250.3 108.7h0M237.4 105.3h0M224.0 119.8h0M234.2 108.5h0M227.0 105.0h0M258.4 117.7h0M241.5 112.4h0M219.8 107.4h0M242.0 115.3h0M232.1 110.1h0M256.4 112.5h0M225.2 110.5h0M218.8 104.2h0M237.0 114.2h0M232.6 110.1h0M231.9 104.3h0M218.8 105.5h0M240.8 114.1h0M253.9 107.5h0M218.8 109.5h0M248.6 112.6h0M230.3 109.9h0M261.0 101.7h0M240.9 112.5h0M234.3 114.0h0M247.9 113.6h0M241.8 117.4h0M230.1 111.1h0M243.8 113.2h0M230.9 117.2h0M218.8 107.8h0M257.6 118.0h0M232.6 118.0h0M229.9 113.2h0M239.9 118.5h0M219.9 113.6h0M222.1 104.9h0M231.1 115.0h0M230.8 110.9h0M237.1 111.4h0M248.1 110.1h0M231.3 116.1h0M241.5 112.1h0M242.6 105.8h0M224.9 111.7h0M238.7 112.9h0M226.4 105.7h0M247.5 107.1h0M241.1 107.4h0M236.5 106.3h0M222.2 111.0h0M237.5 114.4h0M228.2 118.8h0M243.7 115.3h0M235.0 114.4h0M227.8 115.0h0M246.0 116.0h0M243.9 107.4h0M230.1 112.8h0M248.5 110.9h0M233.2 108.7h0M233.1 107.0h0M237.6 106.8h0M228.4 108.0h0M231.7 103.1h0M234.6 111.9h0M252.4 109.2h0M252.0 109.8h0M233.6 111.0h0M253.2 112.9h0M235.8 106.3h0M240.3 108.8h0M245.6 101.3h0M239.4 98.2h0M261.7 99.6h0M238.9 117.0h0M223.7 100.2h0M250.0 111.7h0M232.0 116.7h0M233.1 107.0h0M218.8 117.4h0M246.8 118.5h0M244.9 114.0h0M244.7 119.8h0M246.6 112.4h0M254.1 105.7h0M235.8 111.9h0M246.1 107.1h0M228.5 102.8h0M232.6 102.9h0M247.4 119.8h0M240.4 106.6h0M222.3 109.2h0M240.1 106.0h0M234.4 110.0h0M227.7 108.1h0M240.9 107.3h0M232.1 103.3h0M219.8 102.3h0M224.6 105.6h0M254.9 110.8h0M220.4 119.7h0M238.6 114.6h0M242.7 118.5h0M243.0 111.8h0M223.4 108.9h0M232.9 102.8h0M237.8 109.4h0M244.7 98.7h0M229.5 107.9h0M224.1 117.5h0M246.8 111.0h0M247.9 115.0h0M240.2 107.5h0M229.9 102.5h0M240.6 107.0h0M237.4 107.4h0M245.1 115.4h0M223.2 119.3h0M237.5 105.7h0M234.6 107.6h0M224.6 108.7h0M238.6 107.7h0M236.7 103.2h0M232.0 109.9h0M240.5 111.2h0M221.4 111.4h0M235.7 103.4h0M240.8 108.9h0M239.3 100.7h0M247.6 114.0h0M223.7 104.3h0M220.5 108.1h0M238.8 107.2h0M241.1 106.5h0M258.6 104.1h0M242.8 100.6h0M227.1 118.1h0M244.8 110.7h0M227.4 110.8h0M220.7 119.8h0M263.7 108.9h0M239.7 112.2h0M243.8 109.6h0M242.2 115.4h0M255.3 112.0h0M239.3 111.0h0M249.1 108.2h0M225.5 110.9h0M221.7 115.3h0M251.3 99.1h0M251.8 108.8h0M241.7 107.4h0M238.7 108.0h0M238.0 99.6h0M229.1 113.1h0M252.5 105.2h0M243.2 108.3h0M241.6 106.9h0M240.2 101.1h0M247.3 107.2h0M241.6 100.3h0M244.1 104.8h0M224.0 107.9h0M241.7 109.4h0M259.3 109.7h0M230.9 108.8h0M234.9 119.8h0M245.7 111.6h0M246.4 103.4h0M242.9 106.4h0M219.3 106.2h0M241.6 108.6h0M223.9 106.4h0M227.6 105.2h0M242.1 117.7h0M233.2 109.7h0M244.8 107.8h0M269.4 108.2h0M244.5 108.4h0M243.9 116.4h0M226.9 111.9h0M229.5 115.1h0M225.1 93.9h0M230.7 111.1h0M224.8 114.8h0M229.4 119.3h0M234.1 109.6h0M225.8 100.9h0M221.4 112.4h0M222.0 106.5h0M241.1 100.5h0M236.9 106.4h0M247.1 114.8h0M247.3 115.5h0M232.7 113.1h0M243.3 104.2h0M221.2 119.8h0M260.3 103.6h0M248.9 109.1h0M234.0 102.3h0M224.1 116.1h0M240.3 111.7h0M218.8 113.9h0M228.1 109.9h0M244.2 109.1h0M237.1 110.4h0M231.1 100.1h0M246.3 114.5h0M225.4 114.1h0M239.3 107.5h0M231.1 109.4h0M227.4 111.0h0M241.2 117.4h0M225.9 111.7h0M256.3 109.7h0M230.2 107.0h0M257.2 102.0h0M224.8 106.5h0M242.7 109.9h0M223.7 108.3h0M222.2 109.9h0M238.0 113.2h0M243.4 111.7h0M222.9 110.9h0M248.7 112.8h0M227.9 110.5h0M237.7 109.4h0M240.3 111.9h0M242.5 100.9h0M218.8 115.8h0M253.3 103.1h0M242.2 113.7h0M231.8 109.6h0M225.5 115.1h0M218.8 109.7h0M222.0 104.8h0M242.0 114.9h0M232.7 110.5h0M224.4 110.1h0M230.8 110.0h0M252.7 114.6h0M232.8 113.6h0M230.2 110.7h0M250.5 101.8h0M241.1 107.5h0M236.8 110.1h0M229.9 118.5h0M220.0 111.5h0M224.0 109.1h0M231.3 115.5h0M234.0 109.0h0M240.0 109.4h0M242.1 110.4h0M238.6 102.1h0M238.6 114.4h0M225.7 111.7h0M218.8 108.2h0M230.8 103.9h0M226.3 110.6h0M229.4 116.6h0M233.4 106.4h0M223.2 104.3h0M224.6 111.7h0M235.2 101.6h0M237.5 98.5h0M229.4 107.4h0M241.5 106.1h0M234.0 108.2h0M225.6 106.8h0M236.7 111.2h0M256.1 108.5h0M229.2 106.6h0M248.5 107.3h0M250.8 112.7h0M252.0 114.4h0M227.7 114.1h0M257.5 113.1h0M237.5 93.1h0M233.6 104.6h0M233.9 108.0h0M242.6 110.6h0M236.8 101.5h0M234.4 116.7h0M249.8 111.1h0M228.7 106.5h0M225.3 110.4h0M244.6 107.9h0M243.7 105.8h0M247.8 112.1h0M225.0 107.3h0M247.7 102.5h0M241.4 106.4h0M254.8 109.0h0M223.2 104.2h0M238.6 115.9h0M233.4 104.2h0M219.6 118.4h0M228.8 114.1h0M248.1 104.9h0M231.4 110.3h0M228.7 115.5h0M245.4 108.7h0M246.7 103.7h0M246.7 110.2h0M228.0 119.6h0M235.7 102.2h0M247.1 112.4h0M229.4 109.7h0M228.4 109.0h0M245.0 107.7h0M252.7 108.0h0M224.2 114.8h0M218.8 112.6h0M221.1 104.6h0M225.7 117.4h0M234.9 103.2h0M242.8 113.0h0M234.8 110.6h0M228.9 115.6h0M237.9 111.4h0M226.2 114.9h0M235.8 109.5h0M229.6 114.5h0M264.4 111.4h0M244.9 119.8h0M227.5 106.2h0M225.8 115.6h0M231.7 112.0h0M219.0 110.5h0M228.6 106.8h0M228.5 111.9h0M245.6 102.3h0M231.8 102.8h0M228.0 113.2h0M222.2 101.9h0M223.9 116.9h0M235.6 108.3h0M234.0 110.9h0M248.2 110.0h0M229.7 111.8h0M247.4 108.3h0M239.0 107.8h0M236.3 109.0h0M218.8 114.9h0M222.8 115.3h0M244.1 116.0h0M251.0 111.5h0M238.5 108.7h0M244.3 101.3h0M232.0 112.9h0M232.4 113.9h0M229.3 107.7h0M246.5 113.7h0M239.9 116.1h0M233.8 110.2h0M232.9 115.0h0M242.1 111.2h0M239.7 101.0h0M227.6 107.3h0M254.3 107.6h0M239.0 112.3h0M236.4 105.4h0M251.8 107.5h0M247.1 104.9h0M235.4 109.5h0M241.9 110.0h0M225.1 114.6h0M229.6 113.7h0M218.8 110.5h0M249.1 110.9h0M218.8 110.2h0M243.5 110.2h0M227.6 117.4h0M226.0 97.3h0M234.3 108.8h0M239.1 111.2h0M242.7 115.3h0M254.9 104.2h0M240.1 111.4h0M245.6 114.0h0M230.0 107.5h0M243.8 100.1h0M237.9 107.9h0M231.4 103.7h0M235.3 112.9h0M235.6 105.4h0M238.3 118.6h0M240.5 110.4h0M231.0 105.7h0M228.5 107.2h0M244.1 104.2h0M218.8 111.6h0M229.8 117.1h0M252.6 108.6h0M218.8 114.3h0M229.0 105.0h0M243.5 111.2h0M219.0 119.8h0M263.6 102.7h0M218.8 115.8h0M251.4 115.6h0M252.7 100.3h0M245.9 102.5h0M234.0 104.8h0M240.1 114.5h0M226.9 107.5h0M244.8 108.8h0M224.5 113.2h0M233.4 110.3h0M246.8 110.8h0M224.6 108.1h0M232.5 115.3h0M238.0 105.8h0M222.2 118.1h0M248.5 108.0h0M239.9 105.7h0M220.4 112.9h0M235.8 111.9h0M228.2 99.8h0M229.4 110.8h0M237.1 102.9h0M228.8 105.5h0M246.4 113.6h0M228.9 105.4h0M246.6 111.4h0M235.8 107.8h0M245.3 119.3h0M230.6 109.2h0M231.0 103.8h0M224.2 104.1h0M242.4 105.1h0M246.1 110.3h0M258.6 109.6h0M249.9 114.5h0M238.9 110.5h0M234.1 110.3h0M240.4 111.3h0M236.0 109.0h0M251.7 111.1h0M246.2 113.6h0M227.5 113.6h0M229.1 106.9h0M250.7 100.8h0M239.5 105.6h0M233.9 111.0h0M248.8 97.2h0M232.2 107.2h0M233.4 111.9h0M231.5 106.8h0M218.8 104.0h0M245.4 118.4h0M223.6 116.5h0M230.3 108.3h0M228.5 116.2h0M243.9 116.1h0M235.6 104.0h0M236.5 119.8h0M218.8 104.9h0M235.4 108.3h0M220.8 104.1h0M239.5 110.0h0M240.2 103.0h0M236.1 109.6h0M257.8 115.0h0M241.8 110.6h0M242.6 108.3h0M237.8 117.3h0M234.3 105.1h0M246.4 114.4h0M247.9 108.1h0M222.6 110.6h0M247.4 109.7h0M241.7 110.2h0M246.4 109.3h0M241.2 105.6h0M223.2 106.7h0M224.0 111.8h0M255.5 109.0h0M239.0 103.7h0M221.4 106.0h0M240.0 106.1h0M232.5 109.3h0M218.8 110.4h0M218.8 110.0h0M219.5 106.3h0M239.2 109.6h0M235.8 102.7h0M233.7 95.1h0M239.3 109.2h0M242.6 101.2h0M218.8 104.8h0M233.1 103.5h0M227.6 112.6h0M223.4 103.4h0M230.6 110.9h0M235.0 107.0h0M233.5 103.3h0M221.0 101.6h0M231.2 111.8h0M257.5 111.4h0M225.2 113.3h0M218.8 118.6h0M239.2 110.8h0M242.6 110.8h0M241.2 108.8h0M224.5 109.9h0M246.8 107.7h0M228.1 104.9h0M224.4 119.4h0M229.9 100.1h0M235.2 110.7h0M243.8 111.6h0M242.9 110.1h0M236.1 104.6h0M246.1 108.4h0M237.2 107.1h0M245.7 104.0h0M221.6 109.1h0M219.8 107.3h0M244.4 106.6h0M221.7 112.8h0M233.1 104.0h0M235.3 111.5h0M231.2 106.3h0M231.5 111.5h0M250.9 109.7h0M218.8 110.5h0M245.6 104.4h0M260.4 105.4h0M236.5 105.0h0M236.1 110.2h0M243.9 113.0h0M255.5 114.7h0M223.8 106.8h0M237.2 109.7h0M234.3 101.2h0M242.2 98.2h0M238.0 104.9h0M243.2 105.9h0M231.9 101.5h0M236.8 100.4h0M229.3 111.9h0M229.3 105.2h0M234.8 100.9h0M234.8 119.8h0M224.0 110.1h0M252.8 107.6h0M234.9 112.6h0M221.8 105.4h0M247.9 117.1h0M228.4 101.5h0M241.6 102.7h0M236.1 108.5h0M238.9 105.4h0M238.1 116.2h0M230.3 101.2h0M236.7 105.5h0M257.6 110.4h0M218.8 112.0h0M237.0 114.2h0M240.9 110.9h0M225.3 119.8h0M221.9 106.8h0M259.0 110.0h0M232.4 113.4h0M258.1 107.6h0M241.9 107.7h0M237.1 106.8h0M241.3 105.9h0M243.0 103.5h0M248.7 106.4h0M240.9 101.4h0M237.8 111.0h0M238.2 101.2h0M250.5 119.4h0M244.9 117.6h0M225.8 114.6h0M229.6 108.0h0M239.8 106.2h0M229.8 115.2h0M232.3 110.0h0M226.3 111.9h0M233.6 105.5h0M240.7 114.4h0M246.7 105.1h0M236.4 109.6h0M258.1 100.5h0M235.5 105.8h0M269.8 111.6h0M246.8 106.8h0M241.5 106.8h0M231.1 113.0h0M218.8 108.7h0M234.7 115.2h0M238.2 97.0h0M256.5 111.9h0M221.8 111.6h0M256.3 101.4h0M233.7 102.6h0M243.9 113.4h0M218.8 103.7h0M237.8 105.9h0M232.7 112.0h0M243.5 107.4h0M237.3 111.4h0M224.3 104.7h0M246.2 110.5h0M243.6 114.4h0M242.6 110.7h0M246.9 98.1h0M247.9 112.3h0M236.1 109.3h0M222.0 104.5h0M221.8 116.0h0M250.5 100.4h0M243.8 118.4h0M237.4 105.9h0M231.7 116.9h0M236.6 108.8h0M236.6 102.4h0M232.8 109.5h0M229.0 110.7h0M259.0 111.7h0M238.7 114.3h0M229.9 104.6h0M222.6 111.5h0M228.7 112.7h0M243.9 107.7h0M244.3 104.4h0M234.0 104.3h0M236.8 112.8h0M233.1 113.0h0M224.7 104.9h0M250.0 102.4h0M240.2 115.2h0M262.3 101.3h0M228.4 109.8h0M234.9 105.0h0M245.6 100.3h0M233.7 109.6h0M221.7 108.1h0M226.3 116.2h0M237.4 119.8h0M239.9 108.1h0M235.3 114.1h0M246.8 114.2h0M246.7 106.4h0M239.7 104.7h0M236.6 117.0h0M233.6 107.2h0M242.1 108.9h0M246.0 107.6h0M236.9 108.4h0M241.0 106.0h0M232.9 112.7h0M221.5 115.3h0M225.8 107.2h0M244.3 102.2h0M241.0 109.3h0M253.0 101.6h0M236.9 105.8h0M245.4 115.1h0M250.2 119.8h0M246.7 110.9h0M229.9 103.7h0M234.4 112.9h0M237.7 97.8h0M225.9 105.6h0M241.3 116.6h0M247.1 112.7h0M231.3 102.2h0M257.0 100.7h0M233.2 113.3h0M234.2 108.8h0M233.8 106.1h0M228.9 111.1h0M240.7 106.2h0M236.5 99.5h0M253.7 113.0h0M242.7 105.8h0M241.9 104.0h0M234.0 102.4h0M221.5 110.3h0M235.4 105.0h0M227.4 112.1h0M246.3 107.7h0M236.0 114.4h0M253.8 107.1h0M244.0 105.8h0M245.1 99.2h0M238.7 103.6h0M238.5 112.6h0M243.2 119.8h0M246.0 102.8h0M228.8 103.9h0M241.5 110.7h0M263.8 111.4h0M235.4 105.7h0M233.6 109.4h0M229.0 101.0h0M221.1 107.5h0M248.8 113.5h0M254.7 87.4h0M244.0 81.4h0M243.4 85.4h0M247.7 85.6h0M251.6 82.0h0M247.9 81.6h0M240.5 81.2h0M247.1 83.1h0M250.7 78.0h0M240.7 84.1h0M237.0 77.2h0M248.0 84.7h0M247.2 83.9h0M250.7 79.4h0M245.5 88.4h0M241.1 93.6h0M242.4 90.7h0M238.8 77.8h0M239.3 90.4h0M241.6 85.4h0M242.1 84.1h0M251.6 81.5h0M237.7 84.3h0M244.7 91.0h0M241.5 86.9h0M253.9 82.4h0M246.6 81.1h0M242.8 82.4h0M249.9 87.1h0M245.4 93.2h0M242.2 79.3h0M254.2 84.3h0M249.2 82.5h0M255.3 80.8h0M251.9 86.2h0M249.6 87.0h0M245.8 77.6h0M238.5 79.4h0M249.2 90.0h0M245.5 85.8h0M249.1 86.8h0M245.0 81.9h0M240.9 82.5h0M239.0 86.5h0M249.2 82.0h0M252.7 79.1h0M243.3 84.3h0M247.7 88.6h0M253.3 79.4h0M240.1 89.4h0M243.0 87.7h0M238.4 80.2h0M252.1 84.4h0M246.6 84.1h0M242.3 87.3h0M235.2 87.5h0M244.0 78.1h0M251.0 77.9h0M243.3 89.2h0M242.5 84.9h0M248.9 86.3h0M237.7 85.9h0M245.4 91.6h0M248.6 78.6h0M240.4 89.5h0M240.1 80.4h0M246.5 87.8h0M244.5 90.7h0M243.7 77.8h0M246.3 86.3h0M246.4 83.0h0M239.6 83.0h0M241.1 84.5h0M247.7 79.3h0M251.8 79.8h0M253.1 87.5h0M240.0 88.3h0M251.6 81.6h0M249.6 77.4h0M244.9 95.3h0M248.0 89.6h0M250.0 86.0h0M255.7 79.4h0M238.8 81.6h0M248.7 85.5h0M244.3 79.8h0M243.9 91.9h0M251.9 85.0h0M250.0 86.2h0M239.1 79.5h0M243.4 80.0h0M246.5 80.6h0M236.7 85.6h0M250.2 83.1h0M244.7 83.0h0M246.1 85.8h0M247.1 85.4h0M255.9 91.4h0M245.3 83.4h0M243.0 79.5h0M255.4 84.3h0M242.1 91.3h0M242.0 81.7h0M236.9 84.6h0M251.5 82.6h0M246.7 86.3h0M247.9 85.6h0M246.1 80.5h0M244.3 83.3h0M240.5 88.8h0M240.5 89.5h0M247.7 88.7h0M245.9 88.4h0M254.8 82.8h0M240.6 82.6h0M242.2 88.7h0M239.1 78.8h0M253.3 84.1h0M237.8 75.6h0M249.7 82.5h0M253.7 81.0h0M244.3 78.7h0M249.4 87.1h0M232.5 80.9h0M242.8 82.6h0M235.3 83.1h0M246.2 80.9h0M245.2 91.1h0M240.6 82.0h0M250.7 85.3h0M247.2 78.2h0M242.0 82.1h0M242.1 82.8h0M236.4 82.9h0M244.0 81.6h0M257.7 85.0h0M240.9 91.7h0M247.6 83.7h0M241.9 83.7h0M249.9 82.5h0M247.8 96.3h0M243.8 92.0h0M234.6 87.0h0M242.1 87.7h0M252.3 81.0h0M243.7 83.6h0M248.9 85.3h0M242.3 84.9h0M234.1 80.3h0M247.7 80.7h0M247.0 86.8h0M241.7 85.8h0M243.0 74.4h0M246.9 84.8h0M241.6 90.3h0M247.2 81.3h0M243.9 85.5h0M231.2 77.5h0M244.3 88.3h0M241.6 79.1h0M240.2 78.5h0M247.5 82.9h0M242.3 95.5h0M248.4 81.5h0M251.6 78.4h0M246.0 86.5h0M236.0 85.4h0M240.8 92.2h0M250.6 78.4h0M243.6 76.8h0M240.4 82.9h0M244.6 86.1h0M248.2 86.0h0M246.7 89.5h0M249.0 77.3h0M240.3 80.5h0M243.5 83.7h0M243.7 88.3h0M245.0 86.6h0M232.7 82.4h0M243.8 79.5h0M237.2 88.5h0M253.4 88.8h0M254.4 97.1h0M255.1 83.5h0M250.0 92.0h0M242.3 78.7h0M250.9 81.8h0M244.0 81.2h0M248.8 82.2h0M239.8 80.2h0M241.7 81.8h0M247.9 84.1h0M255.7 82.2h0M245.0 87.5h0M258.6 84.0h0M261.5 84.4h0M237.6 91.3h0M245.0 85.8h0M239.5 85.1h0M244.4 84.3h0M242.0 84.7h0M244.8 87.1h0M250.9 80.6h0M250.8 89.7h0M246.7 91.7h0M245.2 89.8h0M245.9 82.0h0M246.0 76.9h0M248.6 82.3h0M245.2 85.1h0M248.2 88.3h0M237.4 83.5h0M249.9 82.9h0M255.6 91.5h0M246.3 81.2h0M236.8 89.4h0M253.2 88.6h0M243.3 78.1h0M227.5 85.7h0M243.9 81.7h0M248.8 79.9h0M247.5 75.7h0M252.6 77.0h0M248.9 86.3h0M246.0 82.5h0M233.5 85.6h0M238.6 79.4h0M246.3 82.9h0M249.2 83.1h0M239.1 77.1h0M241.6 76.5h0M248.0 86.4h0M233.9 85.1h0M233.7 80.0h0M243.9 83.9h0M246.7 87.5h0M242.4 93.0h0M231.6 80.2h0M245.4 87.3h0M237.3 94.3h0M249.1 84.7h0M244.6 91.3h0M246.8 72.2h0M249.0 91.2h0M242.1 84.3h0M250.1 75.5h0M252.6 88.0h0M247.6 89.3h0M253.1 90.0h0M241.5 90.0h0M250.7 84.2h0M246.8 80.8h0M239.4 82.2h0M244.8 84.2h0M242.1 86.3h0M241.9 82.1h0M245.7 84.6h0M251.5 88.5h0M243.3 85.9h0M246.0 95.2h0M236.5 94.5h0M245.9 79.0h0M252.1 81.7h0M250.0 78.2h0M248.1 78.9h0M242.1 86.9h0M239.4 79.7h0M244.7 79.4h0M237.3 83.1h0M237.9 88.1h0M250.8 82.7h0M239.8 82.7h0M255.9 88.7h0M236.7 86.6h0M247.8 86.5h0M238.3 88.8h0M246.3 79.6h0M239.1 85.4h0M245.5 81.4h0M244.3 89.2h0M242.5 88.2h0M248.3 79.4h0M254.2 90.7h0M241.7 78.8h0M250.5 89.9h0M245.7 85.3h0M245.1 80.2h0M258.3 79.1h0M232.3 82.9h0M241.2 84.2h0M234.5 81.0h0M243.4 87.0h0M243.9 77.7h0M267.9 84.3h0M247.3 84.4h0M255.9 75.5h0M252.9 85.8h0M242.6 78.4h0M248.1 72.6h0M255.2 81.5h0M246.3 83.3h0M246.5 88.6h0M248.2 82.1h0M236.3 91.3h0M240.4 91.2h0M247.2 89.5h0M248.5 90.6h0M239.8 86.0h0M243.3 81.7h0M244.5 87.4h0M244.3 88.9h0M249.3 85.5h0M245.9 83.2h0M246.2 76.9h0M236.8 87.6h0M239.0 86.0h0M247.1 78.2h0M235.7 84.8h0M246.8 87.8h0M241.3 83.8h0M240.4 88.1h0M249.1 87.9h0M241.2 77.4h0M240.1 82.9h0M241.2 86.6h0M245.5 88.7h0M261.6 91.0h0M232.6 75.3h0M245.1 84.0h0M243.8 87.7h0M250.9 90.2h0M243.0 92.3h0M230.5 79.9h0M253.1 82.6h0M238.7 79.4h0M244.8 88.2h0M237.0 78.1h0M238.7 90.0h0M242.2 88.8h0M250.3 86.7h0M250.2 74.1h0M241.6 81.1h0M248.2 87.9h0M242.9 77.6h0M245.8 83.2h0M246.1 83.9h0M248.9 88.6h0M241.5 85.7h0M244.4 85.7h0M246.4 82.3h0M245.7 84.4h0M240.4 83.7h0M255.4 87.8h0M242.4 83.5h0M249.7 89.3h0M246.4 76.3h0M252.4 90.0h0M232.1 83.5h0M257.4 89.7h0M243.9 84.7h0M237.8 88.4h0M245.9 91.4h0M258.6 81.7h0M248.1 84.7h0M237.8 83.5h0M242.4 85.3h0M253.1 76.7h0M236.8 83.5h0M244.0 83.2h0M243.4 80.6h0M258.0 83.4h0M243.4 77.0h0M253.0 91.0h0M241.1 86.5h0M240.3 93.3h0M251.1 80.2h0M248.8 78.8h0M234.8 85.7h0M248.9 76.4h0M221.5 104.7h0M231.8 96.4h0M229.4 98.4h0M235.8 87.2h0M233.9 89.8h0M228.6 97.6h0M226.6 102.7h0M222.5 97.4h0M237.0 86.5h0M236.1 90.2h0M238.7 89.0h0M228.8 92.4h0M235.1 86.7h0M235.5 94.1h0M222.2 99.3h0M241.0 87.9h0M240.2 90.1h0M230.2 90.8h0M235.6 94.9h0M223.4 104.3h0M236.5 83.8h0M238.2 89.1h0M239.2 95.2h0M239.1 86.4h0M231.3 94.0h0M243.6 84.2h0M236.9 93.5h0M236.6 92.9h0M246.0 86.4h0M226.3 104.1h0M220.8 97.8h0M236.1 84.5h0M227.9 97.3h0M233.6 92.8h0M233.6 101.1h0M234.7 91.6h0M223.1 95.9h0M234.2 89.2h0M230.7 90.9h0M218.8 97.7h0M228.8 100.4h0M234.2 93.7h0M227.2 98.4h0M234.8 86.8h0M227.2 91.4h0M230.6 99.2h0M242.5 90.7h0M229.9 99.0h0M235.1 91.6h0M229.9 93.8h0M223.5 98.7h0M235.7 89.1h0M240.2 90.1h0M225.8 95.6h0M226.8 90.6h0M225.2 88.3h0M225.1 93.5h0M238.0 96.7h0M226.2 92.4h0M234.3 93.1h0M229.3 96.5h0M237.8 95.2h0M232.4 92.4h0M234.8 89.1h0M238.9 86.8h0M227.0 95.5h0M221.9 95.8h0M236.3 87.0h0M234.6 103.1h0M244.1 84.1h0M224.6 103.9h0M223.6 94.6h0M230.4 92.6h0M235.6 88.8h0M218.8 105.3h0M221.5 90.6h0M247.4 81.5h0M237.8 90.8h0M231.5 100.8h0M239.3 94.3h0M237.6 99.7h0M237.7 87.2h0M231.4 98.2h0M235.4 89.9h0M239.2 87.2h0M230.3 92.1h0M232.2 96.0h0M230.1 88.0h0M228.9 87.7h0M231.4 93.2h0M243.0 91.4h0M239.6 90.4h0M231.4 87.8h0M238.3 89.5h0M230.7 98.3h0M233.8 87.4h0M218.8 97.3h0M230.6 93.0h0M235.9 95.2h0M229.0 101.5h0M219.5 100.2h0M227.9 93.1h0M243.9 86.6h0M228.4 106.9h0M233.4 94.6h0M224.8 95.1h0M234.5 88.9h0M231.3 94.2h0M230.9 96.7h0M221.5 103.0h0M236.5 92.6h0M230.8 93.5h0M237.3 86.8h0M237.9 87.9h0M235.6 80.4h0M238.6 92.7h0M234.4 81.8h0M228.9 98.5h0M235.9 93.2h0M232.2 91.6h0M221.5 97.5h0M242.7 89.1h0M244.8 80.7h0M237.6 93.9h0M219.9 99.0h0M226.8 94.8h0M238.3 89.4h0M229.5 94.6h0M232.8 101.4h0M235.0 88.2h0M237.4 92.3h0M233.4 95.9h0M232.9 89.2h0M232.3 89.9h0M222.7 99.2h0M240.2 82.9h0M235.5 92.4h0M226.4 96.2h0M242.5 87.1h0M224.7 94.8h0M223.1 89.7h0M235.0 88.9h0M229.2 98.4h0M238.6 90.5h0M229.3 96.0h0M226.9 98.1h0M240.6 93.8h0M224.2 99.6h0M237.1 85.0h0M231.6 89.5h0M238.2 92.8h0M236.9 83.6h0M239.5 79.9h0M240.4 90.4h0M232.4 101.2h0M222.1 96.4h0M241.8 89.0h0M241.9 85.4h0M231.8 96.4h0M234.5 92.0h0M228.5 93.7h0M228.4 96.1h0M237.2 77.9h0M235.8 93.2h0M233.0 89.1h0M235.6 82.9h0M221.4 101.7h0M225.0 99.7h0M225.2 99.3h0M231.8 94.2h0M234.9 89.5h0M239.5 81.4h0M237.8 85.0h0M227.8 87.7h0M234.9 102.3h0M227.3 101.6h0M234.5 88.1h0M226.5 94.0h0M240.5 89.8h0M232.3 91.2h0M228.2 96.7h0M241.9 84.7h0M232.4 106.0h0M234.1 99.4h0M242.4 80.1h0M229.9 84.5h0M243.2 84.4h0M243.9 86.8h0M231.9 98.5h0M240.2 87.0h0M230.6 89.5h0M223.3 100.6h0M230.3 101.2h0M231.4 98.9h0M230.3 89.1h0M238.2 92.6h0M238.9 87.1h0M232.6 92.4h0M237.6 89.0h0M233.0 92.2h0M233.4 99.2h0M238.4 92.0h0M225.1 91.2h0M243.6 85.6h0M229.6 100.1h0M223.7 89.8h0M241.2 86.4h0M232.9 92.5h0M230.5 93.0h0M236.5 94.9h0M230.5 87.9h0M229.1 99.6h0M232.1 86.8h0M239.3 83.0h0M231.3 86.8h0M229.2 99.0h0M229.8 97.3h0M231.6 98.1h0M235.4 93.9h0M230.8 101.2h0M241.3 87.6h0M228.9 95.7h0M238.3 91.9h0M236.4 100.5h0M243.5 93.5h0M235.1 93.9h0M240.2 89.7h0M230.8 95.8h0M231.0 96.0h0M236.0 100.9h0M233.8 89.9h0M236.1 92.1h0M238.6 95.8h0M228.7 85.1h0M231.9 96.0h0M237.9 86.7h0M230.8 90.3h0M218.8 100.4h0M230.5 94.4h0M231.1 92.3h0M243.3 86.9h0M231.1 93.7h0M236.4 84.9h0M230.0 91.5h0M231.3 90.2h0M226.1 99.3h0M233.6 83.7h0M238.9 88.5h0M232.9 87.8h0M233.2 96.3h0M231.1 93.7h0M232.2 93.2h0M236.5 79.6h0M219.1 102.5h0M243.3 78.5h0M223.6 94.4h0M243.8 85.8h0M228.6 86.4h0M224.9 101.0h0M244.4 88.8h0M224.6 99.3h0M222.9 95.6h0M231.5 105.7h0M231.5 99.3h0M231.3 89.8h0M232.0 90.4h0M220.9 105.2h0M227.3 98.1h0M241.2 90.6h0M231.7 91.3h0M236.9 84.8h0M235.8 93.0h0M236.3 93.5h0M234.9 82.8h0M229.1 96.4h0M223.2 106.1h0M227.8 100.6h0M230.1 93.5h0M225.3 98.0h0M232.9 87.4h0M220.3 101.9h0M223.5 100.1h0M235.5 88.7h0M231.5 97.2h0M226.8 100.4h0M230.4 103.3h0M231.4 94.3h0M237.8 83.3h0M226.2 101.5h0M234.5 90.3h0M233.6 99.5h0M232.4 95.9h0M238.2 85.5h0M230.7 83.7h0M241.3 78.9h0M232.1 92.0h0M234.5 94.3h0M229.1 96.0h0M240.0 84.0h0M230.2 97.6h0M241.5 85.1h0M224.5 94.5h0M245.3 84.7h0M230.1 97.4h0M229.2 100.4h0M227.6 95.9h0M231.5 89.3h0M238.3 92.5h0M224.0 93.5h0M238.3 91.2h0M233.0 94.7h0M222.0 104.7h0M233.6 95.0h0M242.9 93.8h0M235.5 94.0h0M227.7 93.1h0M235.4 94.5h0M226.6 95.3h0M224.3 100.7h0M224.9 98.4h0M228.1 97.4h0M235.5 92.8h0M241.3 84.8h0M232.8 84.0h0M232.2 95.6h0M236.2 91.5h0M230.0 90.7h0M225.0 101.9h0M232.6 91.3h0M232.9 89.9h0M235.1 84.0h0M234.0 83.1h0M238.6 86.3h0M236.9 93.3h0M221.6 97.2h0M238.0 83.7h0M232.0 87.6h0M233.3 89.7h0M234.7 92.3h0M227.9 89.3h0M225.9 86.2h0M244.0 89.2h0M237.6 91.4h0M240.2 83.4h0M231.5 101.0h0M235.1 94.9h0M233.0 84.0h0M225.3 99.7h0M244.8 94.8h0M234.4 92.4h0M235.4 92.9h0M225.9 101.3h0M236.3 90.5h0M244.0 86.0h0M240.4 84.2h0M242.1 82.8h0M245.0 87.2h0M242.5 79.3h0M241.7 93.2h0M229.8 90.7h0M235.0 92.4h0M223.3 94.4h0M243.7 90.7h0M230.5 99.6h0M233.4 96.2h0M241.8 93.5h0M223.5 99.6h0M238.4 87.3h0M222.0 101.1h0M232.3 95.2h0M226.4 96.0h0M227.1 104.1h0M231.6 94.4h0M226.3 100.7h0M224.6 101.3h0M237.1 90.1h0M226.4 94.4h0M243.1 84.4h0M236.8 86.7h0M230.7 94.2h0M220.8 99.3h0M240.1 90.1h0M221.2 94.8h0M237.5 99.8h0M233.1 92.0h0M229.4 98.0h0M222.5 103.3h0M228.4 85.4h0M232.6 99.7h0M235.6 93.9h0M234.9 81.1h0M230.3 101.4h0M234.2 89.5h0M231.3 96.4h0M231.1 90.3h0M223.2 91.4h0M240.0 98.8h0M228.8 94.1h0M238.8 82.7h0M238.1 90.3h0M234.7 106.7h0M232.5 89.4h0M231.3 97.1h0M227.3 97.7h0M241.4 84.0h0M225.7 101.2h0M235.0 93.5h0M236.4 86.2h0M218.8 102.7h0M241.9 86.4h0M231.2 97.2h0M223.5 94.5h0M237.9 95.8h0M227.0 98.6h0M232.9 95.7h0M229.7 90.9h0M233.4 90.6h0M224.7 99.9h0M226.8 96.9h0M234.2 92.0h0M233.8 86.8h0M230.4 91.7h0M235.1 92.5h0M236.7 88.7h0M234.4 84.1h0M236.3 89.4h0M232.4 104.5h0M233.2 102.0h0M233.6 89.0h0M235.9 95.4h0M220.6 106.3h0M231.0 96.8h0M239.9 80.8h0M235.7 90.9h0M229.1 94.5h0M237.0 86.8h0M228.4 90.3h0M222.9 99.3h0M226.9 95.8h0M241.9 86.7h0M228.4 99.5h0M240.8 83.4h0M229.5 94.4h0M224.3 92.4h0M226.9 98.6h0M229.3 97.1h0M223.4 99.2h0M234.9 82.8h0M239.4 87.0h0M232.4 89.9h0M227.0 97.6h0M242.1 83.7h0M237.0 85.4h0M230.5 91.2h0M233.6 104.6h0M226.5 103.0h0M231.0 99.1h0M231.8 94.7h0M229.1 98.6h0M237.8 86.0h0M231.1 89.1h0M229.4 95.8h0M223.6 95.1h0M228.7 101.1h0M242.8 87.3h0M232.7 97.5h0M234.8 90.5h0M231.5 94.5h0M231.8 87.1h0M239.6 87.0h0M239.0 94.4h0M228.2 101.2h0M235.5 97.1h0M239.5 85.7h0M232.8 90.6h0M241.1 87.9h0M233.6 96.0h0M242.7 85.1h0M218.8 101.5h0M233.5 95.6h0M235.1 93.8h0M226.9 94.9h0M238.4 79.1h0M223.2 104.0h0M233.9 95.3h0M232.6 96.4h0M245.3 83.9h0M238.8 84.0h0M224.9 97.3h0M227.4 98.4h0M227.0 104.3h0M232.7 93.7h0M231.1 91.1h0M239.8 87.0h0M230.2 92.2h0M233.5 91.1h0M233.8 94.4h0M235.5 95.9h0M240.8 88.3h0M225.9 95.6h0M224.8 96.8h0M235.1 93.4h0M231.3 93.7h0M239.0 80.8h0M225.2 101.0h0M235.4 81.9h0M232.3 99.8h0M225.6 93.6h0M228.4 87.6h0M232.9 87.9h0M236.8 90.4h0M231.1 90.2h0M243.6 86.5h0M241.7 87.5h0M245.6 81.8h0M235.8 98.9h0M228.6 93.9h0M226.6 102.1h0M236.3 88.8h0M238.8 89.1h0M221.0 89.2h0M232.3 86.9h0M230.7 95.6h0M225.2 101.3h0M222.5 104.2h0M226.2 99.6h0M233.5 87.8h0M224.2 93.9h0M232.7 97.8h0M231.5 91.4h0M242.3 87.6h0M234.0 94.0h0M232.7 92.1h0M234.5 92.7h0M236.7 83.2h0M231.8 83.4h0M236.8 89.1h0M231.1 97.9h0M242.0 84.8h0M245.4 87.2h0M229.1 97.3h0M230.5 86.7h0M242.8 88.3h0M240.2 90.4h0M231.7 94.2h0M231.6 91.9h0M239.0 89.8h0M239.6 87.7h0M221.4 100.0h0M226.4 95.5h0M223.4 108.9h0M227.3 92.6h0M220.4 101.8h0M233.7 96.8h0M237.7 81.3h0M237.5 82.3h0M218.8 98.9h0M242.0 86.5h0M223.1 94.2h0M237.6 85.3h0M220.5 104.9h0M227.5 101.8h0M223.8 95.8h0M224.8 100.9h0M234.2 84.5h0M231.2 100.0h0M231.7 90.9h0M237.1 81.9h0M231.0 94.1h0M239.9 92.7h0M234.7 83.1h0M230.5 92.4h0M236.0 84.3h0M237.0 86.2h0M227.0 102.4h0M229.7 97.4h0M236.9 90.5h0M226.1 99.5h0M235.8 85.7h0M238.1 93.4h0M230.2 82.2h0M236.0 92.1h0M231.0 92.6h0M236.3 88.2h0M234.6 91.6h0M232.3 93.6h0M237.4 85.5h0M236.0 88.6h0M220.2 95.5h0M230.2 90.9h0M231.2 96.8h0M230.1 98.7h0M231.4 76.8h0M239.0 82.9h0M241.5 89.1h0M241.8 88.1h0M229.8 95.5h0M232.7 96.5h0M241.3 90.1h0M234.2 101.0h0M261.4 80.8h0M240.3 79.6h0M250.3 85.3h0M220.5 103.9h0M238.4 98.6h0M225.3 82.0h0M256.7 100.6h0M268.0 88.3h0M246.5 82.2h0M224.4 94.4h0M238.6 79.7h0M240.3 72.6h0M242.4 103.8h0M253.1 69.8h0M251.4 95.6h0M218.8 73.1h0M256.4 89.4h0M234.0 87.5h0M233.3 84.9h0M257.0 65.9h0M236.8 88.5h0M223.6 89.3h0M224.1 79.9h0M240.7 89.0h0M250.9 100.5h0M258.0 81.9h0M238.0 92.5h0M234.4 77.2h0M259.5 93.9h0M234.5 96.7h0M257.5 116.7h0M242.8 99.6h0M242.9 94.4h0M237.2 105.0h0M243.6 78.9h0M234.5 101.4h0M231.9 83.8h0M238.4 83.0h0M232.2 101.6h0M243.7 92.3h0M241.0 104.1h0M236.9 74.0h0M237.6 92.7h0M237.3 84.0h0M260.9 86.8h0M239.9 69.1h0M232.9 99.9h0M236.5 92.0h0M248.0 79.1h0M237.6 75.2h0M238.2 80.3h0M236.9 104.9h0M242.0 88.7h0M244.7 86.2h0M245.3 95.1h0M220.4 89.9h0M227.2 92.3h0M218.8 97.9h0M249.6 93.4h0M253.3 99.3h0M255.6 76.9h0M241.7 90.5h0M253.8 86.0h0M239.6 91.0h0M238.6 89.4h0M221.5 83.0h0M230.6 86.1h0M232.9 100.1h0M251.0 83.9h0M259.9 76.4h0M234.4 96.3h0M244.5 100.4h0M243.3 87.0h0M230.7 91.3h0M219.4 80.9h0M231.0 87.7h0M222.8 101.9h0M236.2 98.6h0M238.3 91.5h0M237.8 87.0h0M238.0 72.4h0M245.8 93.3h0M228.8 94.9h0M250.6 101.3h0M220.0 111.7h0M240.7 94.0h0M244.6 100.3h0M230.5 77.9h0M220.9 103.0h0M247.6 99.3h0M231.9 104.7h0M249.3 97.3h0M249.2 94.9h0M239.9 105.9h0M240.0 82.9h0M251.8 96.9h0M244.5 101.7h0M228.8 81.6h0M242.0 77.6h0M246.6 94.7h0M242.4 91.4h0M242.2 96.6h0M238.2 97.0h0M238.6 81.8h0M228.8 93.7h0M222.9 102.2h0M253.4 86.3h0M232.4 87.0h0M242.6 78.0h0M222.0 98.9h0M241.9 111.0h0M230.1 75.4h0M275.4 98.3h0M227.8 99.8h0M228.4 84.1h0M251.2 86.1h0M253.6 78.9h0M218.8 81.7h0M243.0 91.9h0M250.5 97.1h0M225.4 91.4h0M248.1 99.3h0M233.7 92.4h0M228.0 77.6h0M235.8 105.7h0M234.5 102.9h0M223.4 82.6h0M266.7 109.2h0M234.5 95.2h0M231.1 91.6h0M250.1 110.8h0M239.1 63.4h0M255.9 73.0h0M236.8 97.8h0M244.1 87.6h0M241.1 80.1h0M241.9 106.4h0M237.5 95.5h0M238.7 76.6h0M259.9 83.2h0M231.8 99.3h0M233.4 109.4h0M235.9 68.8h0M246.8 93.0h0M244.7 86.2h0M251.1 71.5h0M224.0 88.5h0M243.0 73.1h0M237.9 84.5h0M236.5 107.7h0M241.9 95.8h0M218.8 98.7h0M243.2 96.7h0M241.7 94.1h0M222.9 100.8h0M238.8 77.8h0M258.4 86.5h0M235.3 99.5h0M247.0 82.5h0M237.3 85.7h0" stroke="#111" stroke-width=".75" stroke-linecap="square" fill="none"/>
<path d="M220.3 121.3h8M230.3 121.3h3M235.3 121.3h6" stroke="#111" stroke-width="1"/>
<rect x="218.3" y="29.5" width="92.09999999999997" height="91.1" fill="none" stroke="#8c8c8c" stroke-width="0.9"/>
<line x1="215.90" y1="37.40" x2="218.60" y2="37.40" stroke="#1a1a1a" stroke-width="1.2"/>
<line x1="215.90" y1="59.00" x2="218.60" y2="59.00" stroke="#1a1a1a" stroke-width="1.2"/>
<line x1="215.90" y1="80.80" x2="218.60" y2="80.80" stroke="#1a1a1a" stroke-width="1.2"/>
<line x1="215.90" y1="102.70" x2="218.60" y2="102.70" stroke="#1a1a1a" stroke-width="1.2"/>
<line x1="215.90" y1="109.90" x2="218.60" y2="109.90" stroke="#1a1a1a" stroke-width="1.2"/>
<line x1="215.90" y1="118.80" x2="218.60" y2="118.80" stroke="#1a1a1a" stroke-width="1.2"/>
<line x1="228.50" y1="120.30" x2="228.50" y2="123.00" stroke="#1a1a1a" stroke-width="1.2"/>
<line x1="258.80" y1="120.30" x2="258.80" y2="123.00" stroke="#1a1a1a" stroke-width="1.2"/>
<line x1="280.30" y1="120.30" x2="280.30" y2="123.00" stroke="#1a1a1a" stroke-width="1.2"/>
<line x1="301.10" y1="120.30" x2="301.10" y2="123.00" stroke="#1a1a1a" stroke-width="1.2"/>
<path d="M243.2 120.6v1.3M247.1 120.6v1.3M249.9 120.6v1.3M252.1 120.6v1.3M253.9 120.6v1.3M255.3 120.6v1.3M256.6 120.6v1.3M257.8 120.6v1.3M265.3 120.6v1.3M269.1 120.6v1.3M271.7 120.6v1.3M273.8 120.6v1.3M275.5 120.6v1.3M277.0 120.6v1.3M278.2 120.6v1.3M279.3 120.6v1.3M286.6 120.6v1.3M290.2 120.6v1.3M292.8 120.6v1.3M294.8 120.6v1.3M296.5 120.6v1.3M297.9 120.6v1.3M299.1 120.6v1.3M300.1 120.6v1.3M218.3 52.5h-1.3M218.3 48.7h-1.3M218.3 46.0h-1.3M218.3 43.9h-1.3M218.3 42.2h-1.3M218.3 40.7h-1.3M218.3 39.5h-1.3M218.3 38.4h-1.3M218.3 74.2h-1.3M218.3 70.4h-1.3M218.3 67.7h-1.3M218.3 65.6h-1.3M218.3 63.8h-1.3M218.3 62.4h-1.3M218.3 61.1h-1.3M218.3 60.0h-1.3M218.3 96.1h-1.3M218.3 92.3h-1.3M218.3 89.5h-1.3M218.3 87.4h-1.3M218.3 85.7h-1.3M218.3 84.2h-1.3M218.3 82.9h-1.3M218.3 81.8h-1.3" stroke="#333" stroke-width="0.8"/>
<text x="214.30" y="39.60" font-size="6.2" text-anchor="end" fill="#3e3e3e">10<tspan font-size="4.8" dy="-2.1">5</tspan></text>
<text x="214.30" y="61.20" font-size="6.2" text-anchor="end" fill="#3e3e3e">10<tspan font-size="4.8" dy="-2.1">4</tspan></text>
<text x="214.30" y="83.00" font-size="6.2" text-anchor="end" fill="#3e3e3e">10<tspan font-size="4.8" dy="-2.1">3</tspan></text>
<text x="214.30" y="104.90" font-size="6.2" text-anchor="end" fill="#3e3e3e">10<tspan font-size="4.8" dy="-2.1">2</tspan></text>
<text x="214.30" y="112.10" font-size="6.2" text-anchor="end" fill="#3e3e3e">0</text>
<text x="214.30" y="121.00" font-size="6.2" text-anchor="end" fill="#3e3e3e">−10<tspan font-size="4.8" dy="-2.1">2</tspan></text>
<text x="229.00" y="130.70" font-size="6.2" text-anchor="middle" fill="#3e3e3e">0</text>
<text x="260.00" y="130.70" font-size="6.2" text-anchor="middle" fill="#3e3e3e">10<tspan font-size="4.8" dy="-2.1">3</tspan></text>
<text x="281.50" y="130.70" font-size="6.2" text-anchor="middle" fill="#3e3e3e">10<tspan font-size="4.8" dy="-2.1">4</tspan></text>
<text x="302.30" y="130.70" font-size="6.2" text-anchor="middle" fill="#3e3e3e">10<tspan font-size="4.8" dy="-2.1">5</tspan></text>
<rect x="339.3" y="28.8" width="91.39999999999998" height="91.8" fill="#fff"/>
<rect x="347.90" y="28.8" width="2.4" height="91.8" fill="#e6e6e2"/>
<rect x="339.3" y="108.70" width="91.39999999999998" height="2.4" fill="#e6e6e2"/>
<line x1="357.30" y1="28.80" x2="357.30" y2="120.60" stroke="#dedede" stroke-width="0.7"/>
<line x1="379.70" y1="28.80" x2="379.70" y2="120.60" stroke="#dedede" stroke-width="0.7"/>
<line x1="401.00" y1="28.80" x2="401.00" y2="120.60" stroke="#dedede" stroke-width="0.7"/>
<line x1="421.70" y1="28.80" x2="421.70" y2="120.60" stroke="#dedede" stroke-width="0.7"/>
<line x1="339.30" y1="37.40" x2="430.70" y2="37.40" stroke="#dedede" stroke-width="0.7"/>
<line x1="339.30" y1="59.00" x2="430.70" y2="59.00" stroke="#dedede" stroke-width="0.7"/>
<line x1="339.30" y1="80.80" x2="430.70" y2="80.80" stroke="#dedede" stroke-width="0.7"/>
<line x1="339.30" y1="102.70" x2="430.70" y2="102.70" stroke="#dedede" stroke-width="0.7"/>
<line x1="339.30" y1="118.80" x2="430.70" y2="118.80" stroke="#dedede" stroke-width="0.7"/>
<ellipse cx="356.3" cy="110" rx="15.5" ry="6.0" fill="#000"/>
<path d="M371.6 109.2h0M375.1 114.0h0M352.2 112.4h0M349.9 108.3h0M364.9 105.3h0M361.6 113.9h0M351.5 109.5h0M365.1 113.8h0M364.6 111.6h0M359.6 107.0h0M390.3 117.1h0M373.3 106.9h0M367.5 111.8h0M369.7 106.2h0M390.5 108.3h0M370.5 108.2h0M351.0 106.0h0M362.2 110.7h0M359.5 116.4h0M352.6 119.3h0M361.5 117.0h0M361.4 108.6h0M358.1 117.2h0M353.5 111.7h0M367.7 118.9h0M341.6 102.9h0M367.6 117.3h0M358.9 106.4h0M361.7 115.6h0M339.8 107.1h0M376.8 114.3h0M340.2 108.0h0M349.5 99.6h0M365.7 104.4h0M352.2 108.2h0M354.4 109.6h0M339.8 97.8h0M354.1 103.2h0M361.1 105.7h0M366.1 108.4h0M355.7 110.7h0M361.1 105.2h0M363.5 101.5h0M351.5 111.1h0M350.7 107.8h0M379.9 114.2h0M349.6 106.7h0M372.1 112.9h0M359.5 104.8h0M374.6 110.9h0M351.9 110.0h0M364.4 111.9h0M362.4 104.6h0M356.3 108.9h0M362.1 105.1h0M350.5 108.7h0M357.9 112.8h0M354.5 119.8h0M367.0 109.7h0M357.8 113.2h0M343.8 110.1h0M354.8 115.4h0M357.7 111.9h0M349.1 115.0h0M373.1 111.4h0M363.2 119.8h0M367.9 116.7h0M350.6 100.6h0M354.5 111.1h0M369.7 109.9h0M343.4 98.0h0M362.8 105.0h0M359.8 107.1h0M353.4 105.7h0M359.8 110.2h0M347.2 100.1h0M361.2 113.4h0M345.7 113.6h0M345.0 111.4h0M373.9 107.8h0M351.2 109.5h0M339.8 107.1h0M369.3 115.5h0M350.5 112.2h0M339.8 119.8h0M358.2 107.6h0M368.8 117.1h0M362.6 106.5h0M377.4 108.6h0M357.4 104.1h0M365.3 112.3h0M347.9 109.2h0M360.6 112.8h0M375.4 117.3h0M364.3 109.2h0M360.6 111.5h0M339.8 114.2h0M354.7 109.2h0M344.9 106.7h0M367.2 111.4h0M350.8 112.2h0M362.7 113.6h0M348.0 113.9h0M379.2 106.0h0M346.1 111.9h0M360.3 116.0h0M387.3 107.1h0M361.1 111.4h0M349.4 106.3h0M365.5 110.4h0M369.6 118.6h0M368.2 110.4h0M339.8 104.5h0M361.2 111.3h0M339.8 110.7h0M379.4 115.4h0M359.6 102.4h0M353.8 104.8h0M366.1 109.1h0M364.1 101.4h0M346.0 115.5h0M376.4 99.0h0M356.2 105.2h0M339.8 101.8h0M374.0 106.1h0M375.5 113.7h0M372.5 112.7h0M364.8 114.4h0M349.1 112.7h0M369.0 98.9h0M379.0 111.1h0M367.7 99.9h0M376.2 106.9h0M350.4 107.5h0M369.9 106.7h0M369.0 112.1h0M342.6 105.3h0M341.2 118.6h0M351.0 112.7h0M359.7 115.7h0M363.8 113.5h0M356.4 114.2h0M358.2 109.3h0M357.6 119.8h0M359.8 104.1h0M365.2 111.9h0M364.3 109.6h0M358.3 108.4h0M361.7 111.2h0M354.0 105.6h0M367.6 114.1h0M353.4 113.6h0M376.8 110.1h0M358.6 113.4h0M361.9 104.1h0M350.6 100.1h0M355.1 106.5h0M360.7 108.3h0M359.1 119.8h0M352.1 108.4h0M346.2 114.9h0M359.3 114.0h0M360.6 119.8h0M364.9 110.2h0M372.5 113.0h0M355.5 108.5h0M339.8 105.0h0M357.3 104.3h0M339.8 105.5h0M344.8 117.0h0M370.1 111.0h0M365.1 108.7h0M351.9 109.6h0M352.0 106.6h0M357.9 109.4h0M339.8 109.3h0M364.1 112.9h0M355.1 114.3h0M379.0 101.0h0M347.3 110.8h0M369.9 116.7h0M351.5 104.2h0M370.1 108.2h0M348.2 110.4h0M366.9 115.3h0M354.1 112.7h0M349.9 108.4h0M357.3 112.2h0M364.1 114.9h0M363.3 111.6h0M376.2 119.2h0M367.9 111.8h0M339.8 104.1h0M354.5 105.5h0M339.8 108.9h0M354.7 108.5h0M365.7 112.8h0M344.3 111.4h0M346.0 118.5h0M360.5 113.8h0M355.8 117.3h0M376.3 105.6h0M362.5 107.3h0M364.8 113.1h0M378.1 110.0h0M353.4 112.8h0M358.9 110.9h0M348.1 106.3h0M361.8 118.4h0M370.3 115.5h0M373.9 101.5h0M358.5 106.4h0M351.1 109.7h0M350.5 113.1h0M343.6 109.2h0M360.3 102.5h0M373.8 113.9h0M339.8 108.5h0M339.8 115.8h0M374.3 111.2h0M341.3 114.8h0M362.6 113.9h0M345.1 114.2h0M367.5 106.9h0M367.6 114.9h0M360.8 110.7h0M368.0 103.1h0M359.5 107.5h0M365.2 107.8h0M379.0 112.0h0M371.0 113.2h0M351.8 103.8h0M350.2 113.4h0M356.4 109.3h0M356.5 104.1h0M359.8 113.9h0M352.4 105.7h0M366.2 103.4h0M359.4 113.5h0M363.0 114.3h0M359.1 106.2h0M365.8 115.1h0M345.9 114.8h0M376.4 106.9h0M362.9 119.8h0M364.0 109.3h0M365.8 110.8h0M371.0 97.2h0M367.2 112.9h0M361.7 106.4h0M357.1 111.9h0M341.0 100.8h0M361.4 115.6h0M355.7 117.2h0M355.6 119.4h0M385.5 94.3h0M339.8 112.7h0M359.7 111.4h0M372.4 94.0h0M369.7 105.9h0M372.8 109.2h0M345.2 117.0h0M348.6 105.3h0M365.9 110.7h0M355.9 109.4h0M378.0 111.6h0M361.7 107.6h0M361.3 114.3h0M364.0 114.7h0M356.2 102.6h0M360.5 115.5h0M351.8 105.8h0M358.8 108.3h0M353.9 115.5h0M362.0 110.2h0M343.6 112.7h0M342.8 113.8h0M364.3 112.8h0M361.7 106.9h0M348.6 104.8h0M356.7 113.3h0M347.7 113.7h0M381.7 111.6h0M342.0 108.8h0M378.1 114.2h0M350.2 109.6h0M363.9 102.6h0M356.4 111.2h0M355.1 112.4h0M369.5 113.8h0M368.2 105.1h0M356.1 105.9h0M349.3 111.5h0M382.1 107.4h0M374.7 109.4h0M360.8 114.6h0M356.0 111.8h0M362.5 119.2h0M360.2 111.3h0M372.4 118.7h0M348.7 115.3h0M359.5 119.8h0M350.7 109.9h0M373.6 109.4h0M379.1 116.6h0M358.3 107.2h0M365.2 107.5h0M374.7 111.1h0M356.0 111.8h0M349.0 102.6h0M370.7 111.2h0M364.9 108.3h0M357.0 109.8h0M375.4 110.8h0M361.9 108.9h0M339.8 115.5h0M363.1 112.4h0M358.6 109.0h0M380.0 110.3h0M359.1 115.3h0M357.0 114.0h0M364.1 116.5h0M362.0 109.3h0M343.8 110.7h0M360.6 119.8h0M355.7 109.8h0M374.8 118.7h0M385.7 114.4h0M347.0 107.8h0M348.7 102.8h0M350.0 113.3h0M352.1 106.4h0M351.7 106.4h0M359.9 101.1h0M371.3 116.1h0M345.0 110.6h0M342.4 110.2h0M339.8 112.1h0M371.5 111.3h0M373.9 110.5h0M342.4 112.7h0M341.4 108.6h0M360.8 96.7h0M371.3 113.9h0M370.5 112.2h0M361.5 110.2h0M366.8 118.2h0M362.9 102.8h0M353.2 95.1h0M380.3 117.7h0M359.3 112.2h0M347.1 101.6h0M354.2 107.9h0M342.4 113.2h0M359.5 103.8h0M371.4 112.9h0M345.4 119.8h0M371.7 117.2h0M382.4 109.9h0M363.5 111.7h0M346.6 105.1h0M350.0 110.7h0M355.7 108.3h0M345.2 104.9h0M345.6 103.1h0M356.5 119.8h0M357.4 110.5h0M366.0 104.8h0M346.1 107.9h0M379.9 117.7h0M371.0 118.4h0M369.1 106.9h0M352.2 111.1h0M378.5 114.6h0M355.6 108.3h0M379.3 104.0h0M371.1 105.0h0M349.5 110.1h0M354.3 106.1h0M379.9 103.3h0M370.4 108.8h0M357.6 114.8h0M361.6 113.6h0M361.5 108.9h0M350.8 119.8h0M357.1 106.0h0M352.1 109.6h0M354.6 103.0h0M364.5 114.0h0M348.8 109.4h0M367.3 101.3h0M360.6 105.8h0M367.7 119.3h0M369.1 113.8h0M373.1 110.6h0M366.3 114.5h0M367.1 101.8h0M357.4 105.7h0M365.6 103.2h0M349.4 105.7h0M356.6 108.0h0M367.6 112.7h0M358.8 115.2h0M364.3 115.1h0M347.7 119.8h0M374.4 107.5h0M353.0 109.9h0M363.7 112.6h0M359.1 105.7h0M369.6 108.5h0M355.1 112.1h0M348.3 105.4h0M339.8 112.4h0M356.0 116.3h0M346.2 104.2h0M365.2 98.2h0M375.2 110.4h0M339.8 104.6h0M345.1 110.9h0M362.8 107.7h0M373.0 111.5h0M362.7 115.8h0M362.9 114.2h0M364.9 108.1h0M365.7 103.9h0M377.5 97.1h0M366.1 98.7h0M345.7 105.8h0M354.1 110.4h0M361.7 106.4h0M350.4 106.8h0M356.5 101.7h0M353.5 101.4h0M351.6 101.0h0M367.0 113.1h0M355.0 99.6h0M347.3 113.3h0M351.4 105.1h0M359.8 112.6h0M382.7 111.0h0M362.2 113.6h0M375.7 115.9h0M364.8 105.7h0M339.8 104.7h0M363.5 107.4h0M349.9 105.7h0M344.4 113.1h0M347.4 109.1h0M379.1 109.6h0M341.9 111.8h0M352.5 107.2h0M372.1 115.3h0M366.7 100.1h0M340.4 110.8h0M358.1 112.1h0M353.6 105.6h0M357.2 106.0h0M367.6 114.2h0M352.9 107.9h0M355.8 99.6h0M375.5 102.6h0M339.8 114.7h0M355.2 105.0h0M364.5 116.3h0M345.5 116.6h0M352.3 108.5h0M344.8 112.3h0M361.0 105.2h0M352.4 107.4h0M368.0 105.9h0M370.6 112.5h0M359.8 102.9h0M355.1 108.8h0M362.2 109.8h0M359.9 112.2h0M345.8 98.5h0M371.2 100.2h0M361.8 104.9h0M368.0 108.3h0M344.2 110.2h0M369.0 110.5h0M382.6 119.8h0M366.1 112.8h0M343.2 112.5h0M359.7 106.9h0M358.6 113.5h0M361.7 113.0h0M356.7 112.9h0M364.8 108.9h0M354.1 112.7h0M361.8 117.3h0M351.6 105.3h0M360.4 98.3h0M370.3 113.7h0M353.8 113.2h0M366.7 108.2h0M349.4 107.1h0M355.1 119.8h0M356.6 107.0h0M373.1 103.1h0M350.8 107.0h0M372.8 112.0h0M343.0 106.3h0M357.5 107.4h0M369.4 111.0h0M367.0 107.2h0M348.0 110.1h0M345.7 109.2h0M369.0 103.9h0M345.2 109.8h0M365.7 103.4h0M353.5 114.2h0M359.1 104.6h0M385.0 108.2h0M376.5 100.0h0M368.6 107.1h0M343.9 103.0h0M362.8 117.1h0M359.8 108.8h0M358.1 112.1h0M374.1 100.4h0M340.1 103.0h0M362.8 108.5h0M360.6 102.4h0M350.9 115.3h0M378.4 107.3h0M345.1 110.2h0M359.5 111.0h0M360.1 108.6h0M339.8 113.4h0M343.3 105.9h0M348.4 111.3h0M368.0 115.6h0M369.7 110.5h0M365.8 110.0h0M361.9 107.7h0M339.8 109.7h0M361.6 112.9h0M353.5 108.1h0M372.2 100.7h0M374.2 110.2h0M384.1 108.6h0M367.1 111.8h0M368.3 109.6h0M347.7 117.5h0M360.1 103.2h0M345.4 104.4h0M369.2 112.7h0M345.9 104.1h0M356.8 111.0h0M350.0 109.3h0M353.9 99.3h0M364.3 112.8h0M352.9 116.4h0M361.6 110.4h0M348.0 102.2h0M374.7 113.4h0M352.0 104.0h0M370.4 108.7h0M383.0 111.5h0M339.8 105.4h0M348.1 100.7h0M356.8 108.6h0M372.2 109.1h0M353.7 105.0h0M363.4 105.4h0M351.0 113.1h0M365.4 108.9h0M345.6 106.9h0M368.5 106.3h0M339.8 110.2h0M339.8 109.8h0M379.4 108.5h0M361.0 102.3h0M349.1 107.4h0M383.7 106.1h0M370.9 109.7h0M371.7 115.2h0M354.4 114.2h0M366.1 112.6h0M364.8 109.9h0M340.5 107.7h0M365.7 111.0h0M357.0 106.9h0M373.5 107.6h0M373.7 105.1h0M351.9 109.0h0M352.3 108.9h0M361.2 118.7h0M366.4 112.1h0M354.5 107.4h0M357.8 113.2h0M365.9 106.9h0M363.8 114.4h0M372.1 113.3h0M361.8 119.8h0M349.1 103.8h0M339.8 108.9h0M368.2 108.7h0M355.3 110.8h0M355.2 112.9h0M355.8 104.4h0M341.4 105.7h0M354.7 110.8h0M339.8 114.2h0M354.5 103.7h0M349.0 101.5h0M379.7 115.1h0M364.1 113.6h0M356.6 114.8h0M360.9 104.4h0M367.3 108.3h0M350.5 110.5h0M356.5 111.5h0M355.0 108.7h0M387.0 109.1h0M359.9 114.4h0M339.8 107.1h0M368.0 106.6h0M388.2 107.2h0M348.2 106.8h0M398.3 110.0h0M358.3 108.3h0M370.3 107.1h0M352.7 116.5h0M356.0 110.8h0M345.1 107.6h0M347.1 115.7h0M339.8 106.6h0M371.9 109.3h0M346.0 108.9h0M363.2 106.4h0M362.7 107.4h0M351.7 109.7h0M359.5 102.2h0M357.9 107.4h0M353.4 110.6h0M359.6 110.7h0M359.6 110.8h0M347.4 119.8h0M344.3 112.6h0M349.4 108.6h0M360.4 108.7h0M374.6 109.3h0M375.6 111.5h0M362.5 107.8h0M369.7 116.8h0M360.4 103.8h0M371.5 112.5h0M360.4 111.8h0M363.4 103.6h0M355.7 112.4h0M358.9 112.1h0M380.5 106.1h0M345.4 119.8h0M359.0 112.8h0M352.2 107.7h0M369.8 106.9h0M379.6 105.6h0M355.4 110.6h0M339.8 109.6h0M365.9 102.3h0M365.9 104.2h0M339.8 105.8h0M356.2 107.3h0M358.2 107.5h0M339.8 106.0h0M366.6 112.5h0M363.9 114.0h0M361.6 109.7h0M346.8 98.4h0M350.8 108.5h0M351.7 112.1h0M364.4 108.9h0M347.7 110.7h0M375.6 109.8h0M363.2 101.9h0M339.8 96.8h0M378.1 112.4h0M360.7 106.7h0M352.6 111.4h0M360.0 107.8h0M339.8 108.5h0M361.0 116.1h0M339.8 103.4h0M347.2 109.2h0M374.3 103.9h0M373.3 109.7h0M355.0 111.7h0M347.8 112.5h0M369.5 110.0h0M358.3 102.5h0M361.3 110.5h0M366.0 113.7h0M346.5 114.2h0M367.9 119.8h0M339.8 112.1h0M375.5 104.3h0M340.9 106.7h0M351.6 109.7h0M351.2 114.5h0M367.1 103.7h0M367.3 113.8h0M362.9 112.5h0M365.0 105.0h0M364.1 112.3h0M357.9 105.5h0M339.8 109.3h0M339.8 107.8h0M339.8 110.5h0M358.2 103.5h0M356.1 111.9h0M357.2 98.6h0M361.3 107.3h0M356.0 106.5h0M347.3 117.1h0M341.5 111.9h0M339.8 106.9h0M372.7 104.9h0M369.1 109.5h0M343.2 106.2h0M355.6 119.8h0M363.8 95.6h0M377.0 109.6h0M351.8 97.2h0M360.7 114.4h0M372.0 105.3h0M339.8 117.2h0M350.3 106.6h0M358.2 114.6h0M350.4 110.3h0M382.9 115.1h0M368.6 109.4h0M360.9 94.6h0M347.6 105.7h0M368.6 101.6h0M365.9 114.0h0M352.7 112.0h0M353.7 109.3h0M341.8 111.5h0M357.8 110.3h0M368.6 106.5h0M370.1 119.0h0M365.3 110.5h0M368.1 108.3h0M351.9 102.1h0M353.2 106.2h0M372.5 109.4h0M363.8 108.4h0M349.5 107.0h0M364.4 109.1h0M368.2 103.8h0M366.7 109.3h0M359.9 101.7h0M352.7 105.1h0M363.2 105.7h0M378.1 113.6h0M360.3 111.7h0M350.9 109.7h0M362.5 103.6h0M344.5 107.3h0M361.2 113.3h0M355.2 115.5h0M369.6 102.0h0M359.8 107.2h0M370.6 109.8h0M385.0 111.0h0M356.1 109.4h0M349.0 112.6h0M363.9 102.2h0M357.6 117.0h0M360.2 103.7h0M351.7 109.6h0M364.9 111.9h0M359.4 115.1h0M339.8 113.8h0M355.9 113.6h0M362.4 115.6h0M372.1 108.6h0M351.9 113.0h0M349.4 117.0h0M371.7 105.6h0M351.6 102.4h0M359.8 104.4h0M364.0 116.3h0M367.0 115.5h0M358.6 107.6h0M345.8 110.6h0M370.1 111.7h0M353.6 114.6h0M352.6 100.0h0M381.5 106.6h0M368.6 108.1h0M346.4 110.9h0M353.0 109.7h0M355.7 107.8h0M350.0 110.8h0M339.8 96.6h0M367.7 119.8h0M367.4 113.5h0M361.3 113.8h0M353.9 106.1h0M361.0 111.4h0M365.8 119.6h0M346.6 118.4h0M354.7 109.8h0M352.1 103.2h0M366.5 110.2h0M361.5 107.9h0M343.7 113.6h0M351.5 103.0h0M378.7 108.5h0M347.4 110.7h0M360.2 107.1h0M351.3 114.6h0M372.7 103.8h0M357.8 103.3h0M353.5 107.7h0M345.1 113.5h0M355.7 107.9h0M367.9 106.5h0M366.2 113.4h0M343.4 110.5h0M376.3 106.8h0M355.7 110.0h0M346.5 108.2h0M359.9 112.4h0M351.4 110.1h0M351.9 105.4h0M351.3 107.0h0M357.4 107.3h0M352.8 111.3h0M339.8 111.3h0M364.4 105.3h0M352.5 108.5h0M372.1 110.9h0M364.5 114.9h0M365.5 110.7h0M360.5 119.1h0M373.2 109.5h0M354.7 113.1h0M347.1 107.8h0M362.4 104.5h0M339.8 109.9h0M354.2 111.8h0M360.9 111.0h0M353.7 110.1h0M372.7 107.8h0M366.4 105.3h0M359.7 107.9h0M353.9 111.7h0M370.9 114.2h0M350.7 93.0h0M353.7 112.4h0M366.9 114.8h0M365.2 115.7h0M381.5 111.3h0M355.9 112.7h0M339.8 107.2h0M365.9 109.0h0M372.7 112.0h0M356.5 103.9h0M376.1 105.5h0M378.6 110.4h0M350.8 102.8h0M352.9 109.7h0M344.2 102.0h0M364.5 110.4h0M366.5 109.5h0M365.2 106.6h0M344.4 104.7h0M349.7 106.9h0M342.1 98.2h0M340.1 107.4h0M343.1 110.0h0M340.4 115.4h0M356.3 106.9h0M363.2 108.5h0M365.4 116.3h0M358.1 118.1h0M350.7 107.0h0M358.2 114.6h0M364.8 115.3h0M355.0 112.0h0M358.9 104.5h0M354.9 104.7h0M352.4 112.3h0M358.7 119.8h0M345.7 108.5h0M370.2 117.2h0M340.6 118.9h0M363.5 103.2h0M342.9 106.4h0M375.4 116.9h0M368.2 114.3h0M349.1 112.1h0M353.2 109.3h0M345.5 112.5h0M357.6 106.3h0M363.0 119.8h0M387.3 103.7h0M342.8 100.4h0M372.4 110.1h0M351.7 116.6h0M361.4 106.9h0M368.3 109.1h0M364.5 104.3h0M363.1 109.0h0M356.1 104.3h0M358.2 104.4h0M360.0 102.0h0M371.9 106.7h0M341.7 118.7h0M352.7 109.1h0M344.2 110.4h0M347.4 119.8h0M349.3 106.2h0M370.7 104.4h0M382.6 112.0h0M373.6 103.3h0M344.9 111.1h0M359.1 115.2h0M345.5 104.0h0M363.3 106.8h0M372.7 117.9h0M364.9 104.1h0M368.1 106.0h0M356.6 110.6h0M339.8 107.8h0M339.8 105.1h0M357.2 117.4h0M364.8 106.5h0M372.7 111.1h0M354.4 107.3h0M359.1 108.3h0M361.2 102.5h0M370.3 114.0h0M357.5 107.2h0M345.9 115.8h0M370.5 103.6h0M362.9 107.0h0M362.6 111.8h0M343.9 109.9h0M358.2 106.1h0M339.8 108.7h0M339.8 102.9h0M355.6 109.7h0M353.4 96.1h0M364.7 110.3h0M374.6 116.2h0M357.9 113.9h0M378.5 113.7h0M351.7 107.3h0M366.9 111.9h0M344.0 107.4h0M359.7 108.9h0M354.7 108.9h0M355.9 92.6h0M364.9 114.0h0M339.8 111.7h0M359.6 113.6h0M349.1 104.6h0M359.6 112.9h0M362.7 111.8h0M354.1 98.2h0M354.1 100.6h0M345.3 109.7h0M364.5 106.1h0M350.7 109.3h0M363.3 106.2h0M342.2 116.9h0M373.7 99.9h0M346.8 102.6h0M371.4 104.5h0M353.2 102.6h0M364.5 106.5h0M356.7 109.2h0M366.0 102.7h0M358.3 111.2h0M372.6 116.0h0M365.9 114.9h0M366.0 119.4h0M377.1 115.1h0M350.4 109.3h0M373.0 118.3h0M359.1 112.9h0M341.6 118.8h0M363.7 108.5h0M356.0 98.9h0M377.3 103.6h0M352.8 110.3h0M358.9 112.2h0M360.9 108.4h0M339.8 114.4h0M364.0 103.7h0M347.1 105.9h0M374.2 114.4h0M377.1 109.7h0M358.2 109.9h0M340.4 116.5h0M360.3 114.9h0M360.3 105.5h0M366.4 110.5h0M355.0 100.9h0M344.9 109.4h0M356.7 111.4h0M347.9 100.8h0M378.3 117.3h0M350.3 119.5h0M350.9 112.0h0M357.8 114.1h0M344.3 117.0h0M353.3 108.6h0M356.8 114.7h0M352.8 111.4h0M355.5 101.8h0M372.3 105.0h0M363.2 106.7h0M343.2 114.9h0M353.5 110.0h0M366.7 114.4h0M351.0 107.1h0M359.2 103.1h0M358.0 119.8h0M364.3 119.8h0M356.3 111.4h0M356.7 108.5h0M348.6 115.5h0M362.4 104.0h0M347.8 108.5h0M377.8 102.3h0M358.1 111.9h0M355.8 110.7h0M367.2 107.5h0M357.3 106.3h0M359.3 101.9h0M357.7 105.4h0M350.1 115.7h0M347.9 107.7h0M350.4 115.8h0M371.1 105.2h0M351.2 109.1h0M353.7 107.2h0M353.2 108.2h0M366.2 113.4h0M380.6 99.2h0M347.9 113.2h0M364.5 113.0h0M359.6 109.5h0M354.9 109.9h0M364.0 108.4h0M344.0 113.0h0M367.7 109.8h0M360.8 105.3h0M347.1 110.3h0M376.3 114.3h0M367.9 111.4h0M371.4 109.7h0M341.9 110.5h0M355.2 107.0h0M352.4 107.2h0M365.4 100.1h0M373.6 108.6h0M339.8 114.4h0M358.5 107.6h0M356.9 105.0h0M369.5 114.0h0M357.8 110.3h0M344.0 110.2h0M356.1 111.9h0M346.6 113.0h0M349.5 109.3h0M358.8 105.4h0M352.9 118.2h0M361.4 109.8h0M341.2 105.7h0M384.4 110.4h0M372.5 115.5h0M366.4 102.5h0M343.7 116.0h0M339.8 108.8h0M348.6 119.5h0M355.7 112.8h0M383.4 109.0h0M373.0 115.8h0M352.4 115.9h0M371.9 107.8h0M372.1 110.7h0M358.5 107.0h0M372.0 114.1h0M362.0 102.5h0M350.9 108.6h0M345.1 98.9h0M356.9 112.5h0M369.5 98.4h0M343.1 104.3h0M340.2 110.8h0M364.5 107.8h0M339.8 107.3h0M378.8 104.7h0M353.4 107.2h0M366.5 100.8h0M379.2 111.1h0M342.0 113.5h0M346.5 113.3h0M383.5 109.3h0M355.1 115.6h0M356.9 111.8h0M360.9 114.3h0M370.2 111.5h0M373.2 109.7h0M359.5 105.8h0M354.5 96.5h0M357.9 112.7h0M361.7 109.0h0M373.0 119.4h0M359.8 99.7h0M378.8 113.7h0M348.6 104.8h0M364.3 109.5h0M378.1 105.1h0M372.8 111.3h0M362.0 109.4h0M348.4 113.9h0M350.3 110.3h0M356.5 111.9h0M361.8 115.8h0M355.5 112.1h0M341.9 108.9h0M350.0 115.7h0M364.1 109.0h0M367.7 111.5h0M342.6 107.9h0M354.2 106.2h0M339.8 94.7h0M352.0 113.0h0M398.1 103.8h0M359.0 113.2h0M354.4 118.5h0M351.7 103.0h0M344.7 113.9h0M339.8 109.1h0M357.8 111.8h0M355.2 103.6h0M374.9 109.7h0M339.9 110.3h0M363.2 116.6h0M373.4 119.8h0M339.8 111.1h0M365.7 107.7h0M340.2 119.8h0M364.2 109.0h0M374.9 109.3h0M358.3 110.1h0M361.5 111.9h0M350.5 113.1h0M361.6 106.7h0M371.0 109.0h0M356.2 118.9h0M356.7 117.5h0M362.7 111.8h0M367.6 110.9h0M339.9 108.4h0M359.0 114.6h0M350.6 107.0h0M363.9 110.2h0M370.0 107.3h0M361.8 106.5h0M372.8 109.8h0M347.2 109.6h0M353.7 106.7h0M347.2 109.3h0M359.0 109.9h0M359.4 107.3h0M356.1 106.3h0M344.7 108.9h0M357.4 113.0h0M353.4 115.1h0M365.1 110.5h0M355.3 108.2h0M371.4 109.4h0M360.9 119.0h0M339.8 114.1h0M356.4 104.9h0M342.2 109.3h0M369.2 107.0h0M374.4 107.8h0M358.0 101.3h0M363.3 109.7h0M342.0 102.9h0M339.8 106.7h0M352.1 117.1h0M355.4 114.5h0M341.3 105.3h0M359.3 104.5h0M361.8 105.1h0M365.6 100.3h0M375.8 104.7h0M367.4 108.3h0M354.2 104.4h0M359.5 113.3h0M365.1 109.3h0M346.6 107.0h0M373.3 118.2h0M368.5 113.1h0M355.8 109.9h0M351.1 118.7h0M401.2 116.1h0M367.8 106.1h0M368.9 111.2h0M378.6 107.4h0M369.4 102.5h0M360.7 119.0h0M366.3 117.0h0M348.1 103.3h0M366.4 112.0h0M341.0 101.5h0M363.1 114.9h0M364.6 109.3h0M340.8 108.2h0M380.0 115.8h0M345.4 109.6h0M370.1 108.3h0M352.4 114.1h0M361.9 108.1h0M351.0 113.9h0M386.5 109.6h0M370.0 113.7h0M378.8 112.7h0M367.2 113.5h0M366.3 104.6h0M360.1 119.0h0M355.8 108.8h0M365.3 118.4h0M360.3 106.6h0M356.8 108.2h0M343.0 108.3h0M355.0 115.4h0M365.3 107.5h0M353.2 111.7h0M362.4 101.8h0M356.9 107.2h0M346.9 110.7h0M348.3 109.1h0M350.2 100.3h0M355.3 112.1h0M355.6 104.8h0M371.2 119.3h0M346.3 108.6h0M339.8 119.8h0M366.3 112.9h0M353.4 111.9h0M357.2 107.2h0M387.3 109.0h0M375.1 111.9h0M365.2 99.9h0M369.3 114.6h0M359.9 103.7h0M369.4 108.3h0M351.7 95.9h0M350.6 111.9h0M353.3 113.3h0M376.4 111.0h0M376.2 111.2h0M351.8 107.7h0M371.7 110.4h0M356.8 115.7h0M370.7 107.5h0M355.0 112.1h0M369.4 113.2h0M357.4 108.4h0M355.4 110.8h0M358.4 110.7h0M360.4 107.1h0M352.1 119.8h0M343.2 107.4h0M377.8 118.2h0M354.2 115.0h0M339.8 99.4h0M339.8 110.9h0M339.8 114.8h0M351.8 113.7h0M374.0 105.1h0M340.2 110.9h0M355.1 103.6h0M339.8 104.4h0M371.2 108.4h0M362.8 110.5h0M362.3 117.7h0M374.0 111.4h0M377.3 114.9h0M370.4 103.6h0M352.2 103.8h0M343.7 107.1h0M346.9 118.4h0M339.8 102.8h0M379.1 101.6h0M356.6 109.2h0M360.2 115.6h0M361.0 101.4h0M381.6 108.3h0M352.4 102.7h0M372.1 116.9h0M362.2 113.1h0M357.0 111.0h0M339.8 109.3h0M369.1 108.4h0M350.3 110.3h0M353.6 106.3h0M361.3 105.1h0M359.8 104.0h0M371.5 109.6h0M351.2 105.6h0M360.6 114.0h0M361.9 99.0h0M359.1 112.4h0M366.5 112.3h0M355.9 115.7h0M372.4 108.3h0M350.7 102.0h0M342.5 104.9h0M358.3 115.3h0M372.1 108.0h0M352.9 107.5h0M351.7 106.6h0M354.9 109.2h0M360.6 108.4h0M356.8 101.7h0M362.3 106.5h0M339.8 114.7h0M375.7 116.9h0M365.4 108.9h0M349.0 106.9h0M374.3 116.4h0M363.9 108.7h0M375.4 103.6h0M345.5 108.9h0M377.6 113.1h0M359.3 117.4h0M339.8 107.1h0M367.3 112.3h0M355.4 107.9h0M347.3 115.3h0M356.3 110.9h0M339.8 110.9h0M365.4 104.6h0M356.3 107.9h0M355.7 107.9h0M374.8 91.3h0M359.2 113.9h0M351.3 109.5h0M348.0 108.5h0M358.1 107.7h0M370.8 109.7h0M352.2 110.8h0M347.0 102.9h0M369.2 110.2h0M359.4 110.1h0M358.5 109.7h0M382.4 102.0h0M345.0 108.8h0M361.0 103.1h0M339.8 111.3h0M355.4 116.2h0M365.4 113.9h0M371.5 107.8h0M344.4 106.8h0M368.2 106.7h0M367.6 111.3h0M357.4 106.2h0M386.6 106.8h0M358.8 96.9h0M348.8 105.2h0M363.6 105.6h0M339.8 106.8h0M376.4 115.7h0M370.0 102.7h0M354.2 102.8h0M365.7 112.6h0M364.8 104.6h0M380.7 108.7h0M351.8 110.4h0M344.1 109.6h0M339.8 105.6h0M355.4 114.2h0M341.0 117.1h0M356.8 104.5h0M363.4 108.2h0M353.8 114.3h0M348.1 108.5h0M372.3 104.5h0M356.5 107.4h0M361.4 113.7h0M369.5 104.5h0M344.0 110.8h0M348.3 111.5h0M387.0 106.2h0M357.0 112.4h0M346.9 112.9h0M355.9 114.6h0M352.3 114.2h0M344.8 102.0h0M354.1 114.1h0M358.5 112.5h0M358.6 114.5h0M364.8 105.2h0M339.8 114.1h0M341.8 111.4h0M367.7 103.7h0M353.7 116.0h0M372.5 105.6h0M362.2 104.4h0M342.8 111.5h0M364.8 106.5h0M347.3 111.4h0M361.7 108.3h0M372.7 111.0h0M382.7 113.7h0M358.0 109.4h0M366.7 113.9h0M362.2 113.8h0M367.7 105.3h0M339.8 113.9h0M354.4 112.7h0M362.0 110.2h0M364.1 115.2h0M350.2 117.9h0M368.1 113.4h0M371.2 102.1h0M359.5 111.8h0M356.2 108.9h0M354.7 108.2h0M360.3 111.3h0M372.1 107.9h0M375.7 117.8h0M353.4 110.9h0M348.2 109.7h0M349.8 113.5h0M369.9 113.6h0M361.3 115.5h0M362.1 112.8h0M364.2 109.4h0M363.0 110.3h0M357.4 98.7h0M347.0 102.2h0M351.8 114.8h0M360.1 107.9h0M363.2 118.7h0M354.6 118.7h0M354.1 103.3h0M374.2 111.1h0M353.5 119.8h0M361.3 105.6h0M355.2 111.6h0M349.1 108.4h0M341.6 108.4h0M352.7 108.2h0M349.5 109.5h0M368.3 113.4h0M345.8 105.5h0M354.1 112.1h0M366.1 106.0h0M357.5 112.2h0M364.3 111.2h0M368.2 105.7h0M340.1 110.3h0M354.1 105.9h0M347.9 105.3h0M373.9 115.5h0M357.4 100.4h0M364.3 112.4h0M377.9 113.2h0M354.8 106.6h0M359.6 115.1h0M363.3 114.2h0M355.8 103.1h0M372.9 112.2h0M367.9 111.9h0M370.0 105.9h0M359.3 112.5h0M354.9 113.4h0M354.8 106.0h0M354.7 99.5h0M340.3 111.6h0M362.8 105.8h0M367.9 100.9h0M358.6 107.7h0M353.2 97.6h0M359.2 107.9h0M361.3 117.2h0M362.4 95.2h0M378.9 111.9h0M349.2 104.9h0M362.8 107.5h0M366.5 105.0h0M359.6 112.8h0M356.1 109.5h0M347.3 105.6h0M352.1 103.0h0M366.6 107.4h0M375.0 115.4h0M351.4 103.5h0M364.0 111.7h0M364.5 111.3h0M370.0 99.5h0M361.5 115.2h0M363.7 109.4h0M368.7 119.8h0M345.7 118.4h0M359.2 108.3h0M339.8 108.8h0M339.8 104.5h0M349.5 102.6h0M341.6 113.6h0M364.4 108.3h0M369.8 107.6h0M355.3 108.7h0M357.2 113.0h0M356.1 114.4h0M355.8 109.6h0M360.2 108.6h0M362.6 110.1h0M353.6 119.8h0M350.0 99.1h0M352.9 103.7h0M367.6 112.0h0M354.0 110.3h0M374.8 115.8h0M356.0 116.3h0M373.9 119.7h0M345.4 105.5h0M351.0 112.7h0M364.0 108.4h0M364.1 114.5h0M357.0 110.6h0M381.3 114.1h0M359.5 105.8h0M361.9 110.4h0M352.4 107.0h0M377.0 108.3h0M368.2 107.3h0M363.3 104.4h0M340.5 115.3h0M362.7 111.1h0M353.5 115.2h0M363.0 104.6h0M368.8 99.7h0M350.4 106.3h0M361.1 108.8h0M368.4 113.6h0M360.5 115.0h0M355.0 115.8h0M347.0 117.5h0M351.3 113.3h0M344.6 110.2h0M369.6 105.7h0M359.8 113.1h0M345.2 107.1h0M358.6 105.5h0M344.4 112.6h0M339.8 110.8h0M372.0 114.0h0M371.6 106.0h0M342.4 115.6h0M350.7 111.5h0M360.9 108.8h0M354.4 105.8h0M349.2 104.1h0M353.0 102.7h0M356.0 116.8h0M352.5 102.4h0M361.0 112.9h0M356.1 108.4h0M350.2 106.7h0M358.9 107.2h0M340.3 109.1h0M374.6 114.2h0M339.8 112.5h0M357.7 109.6h0M362.4 102.6h0M363.2 100.5h0M361.5 119.2h0M372.6 104.5h0M346.2 101.6h0M357.9 115.4h0M360.2 102.0h0M353.2 113.4h0M352.1 114.4h0M372.8 110.9h0M350.8 114.5h0M353.3 102.5h0M355.6 103.4h0M356.3 108.6h0M360.4 109.6h0M356.3 109.2h0M362.7 112.0h0M360.1 105.9h0M363.9 98.7h0M373.7 111.7h0M349.3 108.5h0M376.7 113.8h0M353.6 119.8h0M365.9 110.0h0M360.3 112.6h0M355.3 105.0h0M339.8 114.3h0M376.3 111.4h0M350.3 110.9h0M349.9 114.3h0M370.2 103.8h0M359.4 112.5h0M379.4 111.9h0M377.0 117.7h0M366.3 100.4h0M361.3 109.2h0M366.9 119.8h0M344.1 107.5h0M360.4 107.4h0M360.2 118.7h0M353.4 119.8h0M361.3 110.2h0M342.5 106.0h0M368.4 106.6h0M372.7 107.6h0M344.4 105.3h0M360.1 105.5h0M375.5 110.5h0M363.1 109.8h0M347.3 112.0h0M347.7 109.7h0M367.9 103.4h0M378.6 113.4h0M346.7 110.9h0M358.9 106.6h0M350.0 108.2h0M355.4 111.2h0M361.9 110.0h0M358.1 108.9h0M351.0 113.5h0M381.5 115.0h0M356.8 108.0h0M356.5 109.5h0M370.7 103.9h0M358.7 108.7h0M356.3 112.0h0M368.9 114.0h0M347.2 110.5h0M366.7 109.2h0M369.8 105.9h0M365.8 110.7h0M356.6 104.0h0M358.4 110.2h0M339.8 109.7h0M357.1 105.0h0M361.7 111.3h0M368.0 108.5h0M360.1 112.7h0M354.3 107.1h0M349.4 112.1h0M358.0 117.6h0M360.0 110.5h0M371.7 113.6h0M358.6 106.3h0M353.1 107.8h0M357.3 100.0h0M353.2 108.8h0M356.0 103.8h0M339.8 110.2h0M341.2 99.1h0M345.5 105.2h0M363.6 110.0h0M357.7 111.6h0M360.1 101.1h0M371.2 107.5h0M347.2 119.8h0M370.9 113.6h0M362.7 110.4h0M350.7 95.5h0M374.7 104.9h0M343.0 112.2h0M346.2 110.8h0M356.2 111.9h0M362.9 114.5h0M356.4 110.1h0M339.8 113.9h0M355.2 100.5h0M357.6 119.8h0M386.2 108.1h0M373.4 106.3h0M359.8 117.2h0M346.6 112.7h0M362.2 114.5h0M345.8 106.4h0M360.7 111.0h0M362.5 113.2h0M354.1 103.8h0M361.2 108.5h0M354.9 108.3h0M352.3 108.1h0M375.2 106.0h0M364.8 103.2h0M355.1 111.8h0M350.1 110.8h0M360.4 115.4h0M364.6 109.2h0M367.7 106.1h0M374.5 102.2h0M363.5 110.0h0M346.3 108.0h0M380.5 119.8h0M371.1 119.8h0M367.5 117.6h0M373.0 105.0h0M342.3 102.5h0M354.4 108.4h0M352.9 105.0h0M371.4 116.8h0M345.7 110.1h0M355.0 107.5h0M374.9 109.5h0M365.5 115.9h0M354.3 104.7h0M378.9 112.0h0M344.0 102.8h0M363.4 108.5h0M356.0 106.2h0M364.0 111.2h0M355.5 110.3h0M349.4 115.6h0M360.8 113.0h0M344.2 106.5h0M364.2 102.8h0M355.0 105.4h0M368.5 107.4h0M353.6 108.4h0M351.2 105.7h0M362.8 115.0h0M371.8 114.3h0M339.8 108.2h0M359.7 107.0h0M365.2 108.3h0M343.0 109.3h0M348.9 109.4h0M365.4 101.3h0M349.5 107.3h0M351.5 100.0h0M377.0 109.7h0M348.2 113.0h0M349.1 104.1h0M339.8 110.4h0M346.5 106.4h0M345.1 106.0h0M377.0 119.5h0M371.6 114.1h0M344.7 112.0h0M379.7 107.3h0M366.8 111.6h0M356.5 108.6h0M367.2 111.8h0M362.5 105.0h0M350.1 109.2h0M339.8 107.5h0M348.5 102.3h0M358.3 118.1h0M354.5 113.7h0M350.4 105.5h0M369.0 102.1h0M346.9 105.8h0M368.1 105.3h0M353.2 106.4h0M359.6 101.8h0M346.2 105.3h0M358.3 109.8h0M349.9 111.6h0M339.8 99.4h0M358.2 109.5h0M357.8 104.5h0M367.4 104.2h0M361.5 107.9h0M347.4 106.0h0M351.7 113.1h0M339.8 113.1h0M346.2 108.0h0M372.5 106.2h0M374.8 118.7h0M366.6 119.0h0M361.7 111.5h0M364.7 108.7h0M363.7 114.7h0M339.8 116.9h0M348.9 106.8h0M371.2 118.7h0M371.2 108.7h0M361.0 115.1h0M355.0 106.9h0M354.2 109.9h0M352.5 107.2h0M348.3 109.6h0M339.8 114.7h0M360.0 104.9h0M353.5 108.0h0M356.0 112.3h0M377.0 107.1h0M364.8 119.8h0M350.7 102.0h0M364.7 119.8h0M342.0 106.1h0M369.8 114.5h0M361.2 117.8h0M356.3 112.2h0M364.6 102.3h0M374.2 107.8h0M353.3 109.9h0M347.6 112.4h0M381.3 114.6h0M358.5 115.3h0M374.6 117.1h0M351.0 104.6h0M362.5 114.6h0M351.4 100.6h0M365.2 110.3h0M355.3 104.0h0M351.1 100.4h0M375.2 114.2h0M362.0 109.4h0M339.8 114.6h0M355.8 101.4h0M348.4 103.2h0M345.1 109.0h0M352.0 106.1h0M353.1 109.9h0M358.7 106.3h0M349.7 107.8h0M339.8 103.6h0M352.5 116.1h0M367.9 107.9h0M343.5 103.4h0M365.1 113.0h0M363.3 112.0h0M353.4 110.6h0M361.7 110.7h0M350.2 107.5h0M354.0 108.8h0M347.2 98.1h0M363.4 101.5h0M373.3 103.2h0M350.9 111.0h0M371.4 115.8h0M339.8 108.7h0M348.7 108.1h0M347.3 115.3h0M377.1 107.6h0M351.9 112.9h0M366.8 111.7h0M339.8 102.7h0M359.6 111.1h0M364.5 110.6h0M357.9 103.6h0M339.8 104.2h0M360.2 102.9h0M367.2 116.6h0M372.8 119.8h0M362.7 113.2h0M339.8 117.6h0M356.0 102.5h0M368.2 116.8h0M349.3 119.7h0M364.5 117.9h0M353.1 104.6h0M359.3 115.1h0M366.6 108.9h0M350.5 115.1h0M389.7 106.2h0M360.0 109.6h0M362.1 106.6h0M350.2 112.0h0M359.0 109.0h0M355.4 115.3h0M342.3 113.8h0M341.5 111.7h0M361.5 109.3h0M357.3 108.0h0M339.8 109.5h0M339.8 113.4h0M354.9 110.2h0M357.5 111.0h0M365.0 109.3h0M344.7 109.1h0M364.8 106.1h0M354.9 99.8h0M352.7 112.5h0M356.7 112.4h0M369.1 104.5h0M364.4 119.4h0M368.1 103.5h0M350.7 114.7h0M355.2 110.8h0M345.5 111.2h0M352.2 115.4h0M353.9 114.3h0M353.2 109.6h0M366.1 104.0h0M363.0 103.2h0M366.7 110.5h0M359.7 117.7h0M370.1 114.1h0M359.6 109.4h0M368.9 111.2h0M363.8 113.1h0M366.4 118.4h0M357.6 105.6h0M344.7 113.3h0M342.4 111.0h0M379.8 105.6h0M362.6 104.3h0M363.2 116.1h0M356.5 111.2h0M353.3 108.4h0M389.9 110.0h0M346.0 114.6h0M357.6 110.0h0M357.7 117.9h0M345.9 108.2h0M344.3 105.5h0M350.6 108.9h0M354.5 104.7h0M353.0 107.7h0M367.2 115.9h0M345.3 118.4h0M362.8 112.8h0M374.5 110.6h0M368.1 104.8h0M345.8 104.3h0M339.8 111.4h0M367.6 110.4h0M363.8 106.5h0M351.9 107.2h0M372.4 117.6h0M353.9 114.7h0M359.5 109.8h0M346.9 110.7h0M361.8 116.2h0M353.6 111.4h0M352.8 110.8h0M370.2 101.4h0M360.7 100.8h0M341.8 99.6h0M365.9 97.8h0M367.5 109.5h0M349.1 111.2h0M354.0 105.0h0M358.9 111.8h0M355.6 111.8h0M359.7 109.1h0M365.4 101.9h0M352.9 117.0h0M381.2 116.7h0M350.5 106.5h0M352.4 119.6h0M380.0 109.8h0M384.5 105.5h0M358.7 107.4h0M356.2 99.9h0M346.5 107.7h0M370.9 101.2h0M360.2 115.4h0M349.0 111.2h0M362.8 102.3h0M373.4 112.5h0M365.8 100.6h0M382.6 110.3h0M371.1 112.0h0M363.1 109.9h0M357.9 103.7h0M364.4 108.9h0M371.7 108.6h0M367.7 109.8h0M369.9 117.2h0M360.8 118.3h0M366.7 117.7h0M371.7 106.2h0M356.5 105.6h0M344.0 109.6h0M377.3 111.8h0M364.7 98.8h0M353.5 106.3h0M360.9 118.8h0M355.6 103.1h0M339.8 105.7h0M356.3 105.8h0M342.6 112.1h0M360.5 109.2h0M357.1 107.8h0M370.8 101.6h0M357.0 112.7h0M362.4 109.5h0M355.0 106.1h0M354.1 109.6h0M342.9 113.6h0M369.2 101.8h0M360.2 101.4h0M351.9 104.2h0M360.6 105.0h0M353.7 93.6h0M350.3 106.4h0M361.0 115.3h0M371.7 107.8h0M355.3 114.8h0M342.6 94.5h0M351.5 108.9h0M378.1 116.7h0M349.4 117.7h0M371.4 106.9h0M355.7 105.2h0M366.4 111.5h0M357.1 103.2h0M340.9 107.6h0M353.8 100.8h0M381.5 109.9h0M356.9 109.5h0M364.5 118.0h0M354.6 111.4h0M356.9 106.1h0M361.8 109.0h0M363.5 102.8h0M382.7 109.7h0M358.1 108.4h0M356.3 111.7h0M351.0 114.4h0M343.9 99.1h0M340.6 111.2h0M365.6 113.3h0M339.8 103.3h0M373.8 119.4h0M367.8 105.7h0M355.1 119.8h0M345.6 113.6h0M358.6 114.5h0M358.6 110.9h0M370.7 114.8h0M350.2 104.1h0M354.2 105.3h0M357.7 99.3h0M355.3 112.3h0M351.5 105.8h0M339.8 113.4h0M340.3 112.6h0M350.9 102.5h0M355.9 113.2h0M369.3 110.9h0M383.7 110.5h0M377.2 111.9h0M362.7 109.4h0M379.0 109.6h0M357.1 115.0h0M352.5 104.3h0M383.8 103.2h0M346.6 105.5h0M353.8 114.9h0M355.4 107.8h0M374.4 119.5h0M351.8 93.4h0M366.9 105.8h0M353.9 107.2h0M344.9 110.9h0M360.9 116.5h0M360.2 108.5h0M345.6 104.2h0M348.8 113.9h0M349.6 117.6h0M368.9 96.2h0M363.4 112.5h0M361.0 111.0h0M363.7 105.2h0M353.1 107.0h0M363.6 111.0h0M351.7 109.6h0M343.7 108.2h0M350.6 103.4h0M360.7 111.0h0M359.3 106.0h0M370.0 109.9h0M339.8 106.4h0M355.9 110.5h0M362.7 113.4h0M347.8 110.7h0M361.1 112.9h0M353.9 102.3h0M345.9 111.9h0M370.7 111.0h0M343.1 106.2h0M369.4 108.6h0M353.8 94.9h0M348.0 109.9h0M348.6 107.4h0M350.3 97.7h0M349.1 112.1h0M361.3 106.2h0M339.8 110.9h0M372.0 108.2h0M367.6 112.0h0M373.6 109.9h0M347.6 108.0h0M339.8 112.1h0M351.5 113.8h0M356.5 97.7h0M361.7 109.6h0M352.7 106.4h0M357.5 103.7h0M360.0 116.3h0M341.4 114.5h0M378.3 104.1h0M346.1 103.7h0M361.3 113.7h0M370.3 106.2h0M349.8 107.8h0M358.4 99.2h0M376.4 108.8h0M355.3 115.4h0M369.9 107.1h0M361.6 108.9h0M360.9 118.6h0M366.3 114.0h0M355.9 116.9h0M356.1 112.7h0M369.0 115.7h0M361.3 100.8h0M363.9 105.2h0M345.3 100.9h0M358.6 119.8h0M371.8 110.4h0M368.3 108.8h0M362.2 105.5h0M352.8 104.2h0M351.7 94.9h0M363.3 119.8h0M374.1 109.0h0M358.9 109.8h0M372.8 102.1h0M355.2 109.1h0M371.7 111.4h0M347.5 109.0h0M360.5 112.7h0M346.7 105.1h0M365.7 111.1h0M364.8 114.1h0M348.0 112.4h0M350.3 111.4h0M353.6 108.9h0M342.1 104.3h0M348.3 112.3h0M349.0 107.4h0M367.1 104.5h0M373.7 113.4h0M353.6 101.1h0M355.3 106.6h0M360.8 113.5h0M352.7 114.4h0M355.4 107.5h0M367.7 109.8h0M361.0 112.3h0M357.5 109.1h0M352.2 105.4h0M374.6 111.7h0M351.7 110.3h0M359.8 110.0h0M347.1 115.3h0M351.9 111.1h0M359.5 107.1h0M354.1 110.3h0M364.3 119.6h0M359.2 105.7h0M343.3 108.1h0M339.8 105.3h0M369.4 111.3h0M352.1 102.9h0M374.7 111.8h0M358.6 113.4h0M350.1 105.4h0M364.6 105.0h0M355.5 101.7h0M358.6 109.7h0M348.2 103.6h0M365.5 106.2h0M370.5 107.3h0M352.7 105.9h0M378.1 113.8h0M352.2 117.8h0M361.2 98.4h0M340.5 105.2h0M339.8 110.8h0M381.5 104.0h0M374.1 106.7h0M371.1 110.6h0M339.8 116.7h0M360.9 115.6h0M363.1 107.9h0M359.3 110.1h0M361.7 107.6h0M348.4 108.6h0M356.7 103.4h0M345.9 100.3h0M354.6 107.6h0M362.5 114.5h0M349.8 113.4h0M355.4 99.8h0M353.7 108.5h0M358.6 106.2h0M368.5 111.0h0M361.0 103.8h0M362.8 114.2h0M342.6 108.4h0M354.4 112.5h0M367.4 114.0h0M349.0 99.4h0M353.7 108.3h0M347.8 117.3h0M373.1 109.6h0M353.5 114.9h0M350.4 111.7h0M365.2 106.9h0M370.5 110.9h0M363.8 114.9h0M369.2 116.2h0M360.7 117.0h0M357.0 103.7h0M353.6 113.8h0M352.8 102.3h0M351.8 108.8h0M362.4 108.4h0M357.2 112.7h0M359.4 111.1h0M365.0 116.0h0M357.8 106.3h0M343.3 113.9h0M349.7 111.5h0M346.1 109.5h0M339.8 103.2h0M359.5 112.4h0M345.2 111.1h0M344.3 113.6h0M346.5 109.3h0M368.0 108.2h0M355.0 111.5h0M369.4 111.9h0M357.4 113.0h0M353.6 119.3h0M364.6 106.3h0M364.9 119.8h0M359.6 94.1h0M347.0 114.5h0M353.3 105.2h0M345.4 119.8h0M355.5 104.9h0M359.4 115.0h0M374.7 104.3h0M373.9 103.6h0M365.8 113.7h0M368.8 114.0h0M360.9 105.9h0M388.8 119.8h0M375.1 107.8h0M387.4 117.6h0M362.5 104.2h0M362.9 104.5h0M369.9 110.0h0M360.4 104.2h0M361.8 111.8h0M347.5 98.3h0M368.7 110.4h0M359.8 106.6h0M367.2 104.5h0M355.9 110.6h0M339.8 108.3h0M363.8 107.2h0M371.1 113.7h0M344.2 111.0h0M347.6 111.5h0M355.0 116.4h0M355.6 109.1h0M339.8 113.8h0M377.6 107.3h0M369.4 112.6h0M351.5 112.2h0M339.8 106.7h0M362.3 101.6h0M380.1 102.9h0M367.4 104.6h0M371.0 112.4h0M348.0 108.8h0M360.9 107.9h0M341.8 112.0h0M380.1 113.3h0M364.6 116.7h0M339.8 106.4h0M339.8 112.3h0M363.6 113.2h0M359.8 104.6h0M354.9 110.1h0M365.1 104.7h0M380.4 108.3h0M362.3 111.7h0M339.8 100.7h0M356.5 105.0h0M343.9 105.3h0M349.4 110.0h0M361.9 105.7h0M356.4 111.4h0M346.6 105.1h0M358.0 106.8h0M349.3 112.6h0M364.1 111.1h0M355.6 110.3h0M362.5 109.3h0M355.3 114.7h0M366.5 116.6h0M356.7 107.6h0M358.1 105.7h0M352.0 104.1h0M359.8 118.5h0M339.8 104.9h0M387.5 102.6h0M350.7 110.9h0M359.3 114.9h0M353.0 103.1h0M352.8 108.8h0M362.6 102.1h0M352.6 105.9h0M353.5 117.9h0M343.0 110.4h0M348.0 108.1h0M345.3 109.9h0M378.0 110.9h0M343.5 109.0h0M346.4 103.3h0M360.3 103.4h0M373.9 119.8h0M339.8 105.5h0M341.1 115.7h0M359.5 105.8h0M361.9 116.2h0M342.6 113.1h0M339.8 108.4h0M347.6 119.8h0M366.3 104.7h0M357.7 108.3h0M366.3 105.1h0M356.9 105.5h0M357.8 107.6h0M364.9 104.5h0M356.8 107.8h0M360.7 117.7h0M348.1 100.5h0M351.5 103.0h0M363.3 104.6h0M355.5 107.1h0M349.9 114.7h0M365.3 113.2h0M364.1 112.0h0M358.0 110.5h0M349.7 119.8h0M367.9 103.7h0M385.5 103.5h0M349.0 109.4h0M341.1 110.6h0M349.5 108.3h0M347.8 105.1h0M344.2 102.7h0M345.1 108.1h0M367.4 105.8h0M367.5 107.0h0M374.3 103.9h0M366.3 116.4h0M352.8 111.8h0M370.0 119.1h0M351.3 106.8h0M354.2 109.8h0M345.1 108.2h0M371.5 109.6h0M369.1 108.2h0M352.9 108.6h0M354.6 99.3h0M358.4 108.1h0M360.2 113.1h0M367.3 99.4h0M358.7 107.7h0M362.4 112.5h0M341.5 116.0h0M354.7 109.1h0M339.8 111.9h0M377.6 118.6h0M373.3 116.2h0M365.9 107.2h0M370.2 106.4h0M380.0 114.8h0M368.3 110.6h0M340.5 106.7h0M355.7 108.3h0M339.8 111.1h0M349.0 108.5h0M344.3 108.2h0M357.9 108.3h0M362.3 101.8h0M347.8 118.5h0M354.8 115.8h0M361.0 117.3h0M356.2 108.8h0M356.0 110.1h0M339.8 112.5h0M353.1 113.7h0M366.6 100.1h0M360.8 111.3h0M341.6 104.3h0M354.9 109.1h0M360.8 106.1h0M347.2 118.3h0M365.3 112.3h0M349.1 109.4h0M354.3 116.7h0M356.7 109.1h0M382.4 105.8h0M354.4 108.5h0M351.6 107.6h0M365.8 109.7h0M352.7 113.8h0M360.0 108.9h0M339.8 109.2h0M361.2 114.7h0M357.7 111.0h0M343.7 114.4h0M372.8 110.2h0M355.3 102.8h0M355.7 103.7h0M343.4 100.9h0M340.0 115.4h0M351.6 111.6h0M341.1 107.0h0M363.3 104.4h0M367.4 111.4h0M350.9 108.8h0M340.2 111.1h0M353.5 105.1h0M346.2 103.8h0M359.7 117.6h0M359.9 104.6h0M353.2 109.4h0M358.7 116.4h0M369.3 100.0h0M376.6 113.1h0M352.1 109.9h0M365.8 108.8h0M355.2 110.9h0M346.2 103.4h0M372.0 98.0h0M362.2 119.2h0M359.4 108.0h0M361.8 114.1h0M356.1 115.2h0M346.3 111.0h0M377.4 111.8h0M367.7 113.2h0M360.7 117.6h0M368.5 112.0h0M372.0 116.0h0M355.7 108.0h0M364.3 107.3h0M354.3 109.9h0M364.9 111.6h0M355.0 112.3h0M384.6 119.5h0M353.9 113.8h0M363.5 109.8h0M362.9 119.7h0M354.2 111.2h0M368.1 111.4h0M356.9 112.0h0M353.3 107.8h0M357.9 103.9h0M349.6 110.2h0M371.0 107.9h0M364.7 105.1h0M368.6 110.1h0M343.0 108.5h0M360.8 106.5h0M349.4 100.4h0M358.8 108.6h0M371.9 118.6h0M360.7 114.1h0M355.9 115.1h0M370.2 109.4h0M369.0 114.9h0M378.2 106.1h0M339.8 107.2h0M361.4 112.2h0M353.3 102.2h0M348.2 109.8h0M359.1 111.1h0M345.1 118.2h0M339.8 105.9h0M347.9 111.7h0M355.0 106.2h0M378.4 106.7h0M349.9 95.6h0M345.0 104.7h0M339.8 115.4h0M354.0 112.2h0M355.2 110.3h0M359.5 119.8h0M341.9 112.3h0M349.5 103.2h0M339.8 108.5h0M359.7 109.2h0M340.6 117.8h0M339.8 104.9h0M370.6 111.7h0M363.4 114.5h0M361.7 105.4h0M361.7 110.0h0M346.5 99.2h0M369.7 110.0h0M346.3 98.2h0M378.9 107.5h0M360.3 118.4h0M339.8 111.6h0M367.4 109.8h0M379.6 110.3h0M355.1 119.8h0M369.6 112.4h0M355.5 114.9h0M350.9 107.3h0M339.8 107.3h0M371.5 104.2h0M353.0 108.6h0M362.0 105.9h0M345.4 114.6h0M347.9 112.8h0M370.2 108.9h0M353.6 106.7h0M353.5 94.7h0M344.0 106.5h0M360.2 111.1h0M366.4 112.9h0M352.8 93.7h0M355.8 97.2h0M344.4 110.3h0M373.3 104.2h0M351.1 108.4h0M356.2 107.1h0M376.4 112.5h0M355.4 100.0h0M340.8 106.6h0M347.7 114.4h0M353.9 110.6h0M377.5 105.3h0M360.4 111.9h0M355.4 111.0h0M367.1 105.0h0M372.3 113.1h0M349.6 113.0h0M373.7 108.8h0M367.4 114.4h0M362.9 103.5h0M339.8 113.5h0M360.1 108.5h0M373.3 104.7h0M354.9 106.5h0M383.5 115.5h0M358.8 106.7h0M346.7 107.7h0M364.5 106.2h0M361.2 105.5h0M367.2 114.5h0M355.5 119.8h0M372.4 116.4h0M351.8 112.1h0M359.5 113.4h0M344.2 107.8h0M349.1 107.0h0M360.3 103.5h0M350.7 116.9h0M353.0 107.8h0M355.7 105.8h0M360.8 106.3h0M366.5 110.5h0M366.5 106.7h0M369.4 109.6h0M360.3 110.4h0M352.0 116.4h0M340.4 103.2h0M354.2 111.1h0M349.2 106.0h0M339.8 107.3h0M376.3 117.9h0M339.8 112.8h0M362.0 107.5h0M364.2 112.1h0M355.4 109.4h0M386.8 115.2h0M358.3 107.0h0M349.5 112.0h0M377.6 108.5h0M349.2 109.6h0M342.1 108.8h0M346.9 106.4h0M350.9 110.1h0M358.6 114.6h0M361.8 106.4h0M341.1 107.6h0M362.0 111.4h0M382.9 105.7h0M350.1 114.0h0M356.6 113.2h0M365.8 97.8h0M371.5 106.2h0M350.6 104.0h0M347.3 113.8h0M346.8 114.4h0M370.3 103.4h0M368.1 106.0h0M339.8 109.1h0M339.8 107.7h0M344.3 113.2h0M341.3 114.6h0M362.6 112.6h0M360.5 115.2h0M379.9 114.4h0M366.9 109.2h0M359.4 107.3h0M371.2 105.8h0M348.1 113.8h0M342.5 114.1h0M358.4 114.8h0M368.5 107.9h0M340.0 107.6h0M368.0 110.9h0M367.7 116.0h0M352.5 111.4h0M359.9 110.7h0M355.0 105.3h0M359.0 111.8h0M367.1 112.3h0M349.1 104.7h0M369.7 118.6h0M367.8 104.9h0M368.2 114.3h0M339.8 108.5h0M339.8 110.4h0M365.8 105.5h0M351.5 106.7h0M350.3 113.2h0M349.5 108.6h0M343.1 107.8h0M354.9 114.1h0M350.0 113.2h0M350.7 110.4h0M363.4 110.8h0M344.8 118.4h0M370.6 108.7h0M339.8 111.6h0M386.1 111.8h0M342.8 102.4h0M364.6 99.7h0M368.3 110.2h0M358.0 114.0h0M366.4 110.6h0M356.8 106.8h0M339.8 106.2h0M361.9 113.7h0M370.9 108.1h0M351.9 101.3h0M339.8 113.1h0M351.3 110.8h0M361.7 111.5h0M361.4 114.9h0M370.4 116.4h0M364.3 112.4h0M363.7 108.7h0M339.8 98.7h0M383.0 111.1h0M358.6 108.8h0M367.7 116.3h0M354.2 116.1h0M356.4 112.0h0M358.7 116.6h0M375.7 109.2h0M375.1 109.3h0M365.0 105.2h0M380.3 108.0h0M353.6 110.7h0M363.9 115.0h0M353.0 105.8h0M372.6 113.7h0M358.5 119.8h0M369.1 102.7h0M377.4 108.2h0M339.8 109.7h0M382.5 114.7h0M361.7 119.7h0M354.5 115.9h0M339.8 109.4h0M354.7 105.2h0M339.8 109.3h0M359.1 109.4h0M356.2 110.8h0M378.6 105.0h0M354.5 117.4h0M370.2 105.9h0M371.3 113.1h0M381.3 110.7h0M355.4 104.0h0M366.7 109.9h0M341.1 109.7h0M345.7 108.6h0M355.1 113.7h0M357.9 107.1h0M344.5 119.8h0M353.5 115.3h0M366.1 104.9h0M353.0 96.8h0M356.4 116.0h0M348.2 110.8h0M373.8 110.0h0M378.2 104.6h0M360.5 102.2h0M356.9 100.0h0M377.0 119.8h0M363.6 117.8h0M350.7 106.7h0M343.0 119.2h0M351.6 100.0h0M383.0 113.1h0M351.5 113.2h0M390.8 105.1h0M358.2 107.2h0M355.8 104.2h0M373.2 109.8h0M355.5 116.3h0M362.5 114.7h0M346.5 111.7h0M344.2 115.3h0M349.9 100.4h0M360.8 119.8h0M350.7 109.3h0M339.8 102.8h0M363.6 107.6h0M356.4 106.2h0M355.1 110.0h0M351.3 111.1h0M339.8 97.5h0M376.2 116.0h0M352.8 118.4h0M364.2 104.2h0M374.0 117.1h0M371.0 116.0h0M360.6 114.8h0M358.4 117.9h0M361.7 102.4h0M368.5 113.3h0M364.8 104.3h0M353.2 119.8h0M363.4 104.5h0M362.5 103.2h0M366.1 115.3h0M360.6 112.7h0M373.7 109.7h0M360.6 110.2h0M368.3 112.7h0M358.8 118.5h0M351.8 105.8h0M347.6 106.6h0M356.5 106.5h0M364.3 109.1h0M372.6 109.6h0M357.3 102.9h0M352.4 111.1h0M352.5 103.0h0M372.9 107.9h0M359.5 108.2h0M352.6 108.3h0M366.6 117.2h0M343.4 118.0h0M359.6 115.1h0M357.8 117.7h0M356.8 108.0h0M345.3 116.8h0M369.4 109.2h0M377.3 110.7h0M343.3 110.9h0M359.6 102.6h0M365.6 106.3h0M383.8 108.7h0M353.6 111.4h0M347.6 108.9h0M358.2 105.1h0M381.0 103.5h0M359.1 109.6h0M361.3 103.4h0M378.3 103.4h0M339.8 109.0h0M339.8 110.4h0M368.5 105.2h0M367.0 100.3h0M342.7 111.0h0M364.1 113.8h0M358.8 107.4h0M360.7 107.6h0M349.2 97.4h0M353.2 114.2h0M348.4 103.8h0M358.9 113.2h0M355.7 106.4h0M377.3 108.8h0M365.4 108.5h0M340.5 100.2h0M363.0 119.8h0M374.5 101.4h0M361.5 110.1h0M370.5 105.3h0M357.9 108.3h0M366.2 116.7h0M347.8 99.8h0M367.2 108.8h0M342.7 112.1h0M372.9 110.1h0M341.2 111.6h0M339.8 105.6h0M364.3 101.0h0M356.4 102.7h0M359.6 107.4h0M363.1 113.4h0M358.0 109.9h0M348.3 117.8h0M360.7 110.0h0M362.2 110.5h0M363.9 110.5h0M380.7 100.5h0M350.0 112.5h0M359.1 103.7h0M364.6 107.5h0M353.3 119.8h0M344.8 103.1h0M351.9 110.1h0M370.3 111.0h0M355.3 110.2h0M365.2 109.5h0M350.0 106.6h0M363.3 119.8h0M350.7 99.1h0M348.8 104.2h0M359.6 117.2h0M358.9 112.4h0M374.9 105.5h0M340.0 104.8h0M364.0 108.2h0M376.5 119.8h0M373.7 112.1h0M354.0 104.1h0M350.6 110.7h0M352.7 106.2h0M361.7 117.3h0M360.4 111.0h0M362.2 116.1h0M365.1 110.3h0M346.2 119.8h0M345.6 111.6h0M344.5 111.0h0M343.2 104.2h0M357.2 107.3h0M361.8 111.5h0M386.9 106.9h0M364.3 119.8h0M358.5 109.4h0M374.3 105.5h0M350.0 114.6h0M362.1 106.7h0M369.3 111.6h0M367.2 109.0h0M362.9 105.8h0M354.4 116.7h0M344.3 110.0h0M356.6 115.2h0M351.6 107.7h0M366.1 102.1h0M356.8 103.0h0M364.6 106.8h0M340.1 108.5h0M369.3 109.8h0M348.7 112.2h0M340.7 103.0h0M342.8 110.7h0M351.2 103.2h0M371.0 105.9h0M366.3 119.8h0M345.1 116.1h0M359.3 107.6h0M357.1 118.8h0M340.6 116.9h0M347.1 114.1h0M339.8 117.1h0M348.5 108.2h0M339.8 108.9h0M349.3 105.0h0M347.7 112.5h0M349.3 103.0h0M349.0 106.9h0M371.3 111.9h0M354.4 106.9h0M361.0 111.3h0M366.8 119.0h0M368.5 104.4h0M366.0 116.8h0M352.1 105.9h0M345.9 104.6h0M349.5 110.7h0M353.0 114.8h0M358.4 105.8h0M357.3 105.7h0M370.6 107.2h0M357.1 105.8h0M378.5 110.5h0M369.9 105.8h0M352.9 108.2h0M368.0 111.3h0M339.8 107.3h0M373.8 115.5h0M362.9 106.0h0M362.8 105.5h0M339.8 119.8h0M386.7 117.3h0M355.4 109.9h0M356.7 113.8h0M371.0 111.3h0M356.1 106.8h0M348.7 113.0h0M365.7 111.1h0M346.9 116.2h0M366.7 99.9h0M359.8 113.7h0M371.0 110.4h0M344.7 105.9h0M372.3 107.3h0M361.6 107.4h0M380.5 102.6h0M351.0 106.5h0M379.2 113.6h0M366.2 101.6h0M367.2 107.5h0M350.1 97.2h0M364.6 106.5h0M365.8 111.5h0M349.0 109.2h0M345.3 109.7h0M349.6 103.7h0M374.7 112.5h0M360.1 104.8h0M368.8 114.2h0M361.5 110.6h0M359.6 107.5h0M360.8 117.2h0M353.7 107.4h0M372.0 114.8h0M360.2 110.0h0M360.8 109.5h0M342.7 114.7h0M361.8 111.8h0M350.7 109.5h0M352.7 108.9h0M370.0 110.6h0M346.0 109.9h0M356.0 107.8h0M365.4 104.1h0M371.3 96.0h0M352.5 108.9h0M361.9 108.2h0M361.5 115.8h0M345.6 111.8h0M339.8 115.4h0M339.8 118.5h0M365.0 108.9h0M359.4 105.1h0M343.2 113.8h0M351.1 106.4h0M353.8 108.2h0M354.3 117.0h0M358.0 112.4h0M383.1 115.2h0M349.5 102.5h0M359.9 109.7h0M349.6 115.3h0M351.2 102.8h0M348.4 110.5h0M355.7 111.6h0M352.1 97.5h0M362.2 117.8h0M360.7 105.8h0M348.3 108.8h0M379.8 118.2h0M345.1 100.2h0M362.3 111.9h0M382.7 107.2h0M350.3 109.7h0M373.2 105.3h0M374.2 116.6h0M362.1 103.7h0M339.8 111.4h0M374.3 112.3h0M359.3 109.0h0M352.1 108.1h0M372.6 108.1h0M350.1 114.8h0M370.3 111.9h0M352.1 109.1h0M364.3 103.8h0M346.2 110.3h0M353.8 112.3h0M348.0 109.4h0M350.3 117.0h0M360.4 99.6h0M356.4 119.8h0M360.4 108.6h0M372.7 103.6h0M357.0 100.4h0M339.8 114.0h0M355.1 112.5h0M359.2 108.4h0M369.7 109.3h0M369.9 110.4h0M369.0 107.3h0M355.7 115.5h0M365.5 112.8h0M342.1 108.9h0M372.8 101.0h0M363.2 116.7h0M364.0 107.0h0M354.0 104.1h0M358.9 116.2h0M350.8 112.1h0M364.7 99.0h0M343.4 100.9h0M369.2 107.5h0M364.4 103.0h0M381.0 108.7h0M357.9 119.8h0M357.2 119.8h0M360.5 109.3h0M358.7 113.7h0M357.1 114.2h0M345.9 108.9h0M345.9 101.9h0M351.9 115.1h0M355.0 108.6h0M345.0 111.9h0M345.3 113.2h0M355.1 105.3h0M366.6 118.3h0M356.2 109.9h0M365.9 110.7h0M369.2 107.3h0M366.9 113.2h0M353.6 114.8h0M353.8 106.6h0M339.8 112.6h0M350.6 107.3h0M363.6 103.1h0M346.1 107.8h0M373.5 112.7h0M374.4 112.4h0M354.2 115.2h0M368.7 106.0h0M342.4 108.0h0M346.5 109.9h0M354.1 112.8h0M358.4 108.9h0M356.2 104.6h0M348.6 101.5h0M380.4 115.7h0M361.6 115.1h0M361.5 106.1h0M365.9 117.3h0M360.3 109.2h0M355.7 111.9h0M352.0 116.1h0M339.9 107.1h0M375.1 105.5h0M348.0 100.5h0M339.8 111.2h0M349.2 111.9h0M340.3 114.1h0M380.7 112.7h0M362.4 110.1h0M374.1 115.6h0M374.6 104.2h0M364.7 111.6h0M364.7 112.3h0M350.2 108.9h0M357.4 118.6h0M351.5 111.9h0M358.8 116.6h0M350.4 114.3h0M372.5 108.6h0M366.9 119.7h0M357.1 115.4h0M339.8 109.7h0M366.0 109.0h0M368.2 104.2h0M357.5 108.8h0M344.1 108.3h0M363.2 110.7h0M370.1 107.4h0M339.8 112.6h0M364.7 109.2h0M339.8 101.3h0M359.2 106.9h0M377.9 104.9h0M359.3 102.9h0M363.7 108.3h0M354.7 114.4h0M358.2 103.7h0M384.7 99.1h0M373.3 108.7h0M354.8 119.8h0M354.0 106.5h0M358.5 111.0h0M382.9 107.4h0M360.6 114.1h0M370.8 117.1h0M354.2 108.8h0M344.0 115.8h0M373.1 103.9h0M357.4 110.7h0M349.5 103.0h0M350.5 110.6h0M350.8 106.4h0M351.5 110.9h0M341.0 103.8h0M371.8 110.8h0M362.6 110.2h0M369.2 106.6h0M354.4 105.4h0M362.2 103.4h0M360.2 107.5h0M371.5 111.7h0M367.4 108.9h0M362.3 110.4h0M351.0 116.2h0M344.8 107.9h0M349.3 111.2h0M351.2 113.9h0M352.3 112.3h0M344.5 111.6h0M376.9 110.0h0M361.3 119.7h0M339.8 109.2h0M346.1 107.6h0M343.3 112.7h0M361.0 118.2h0M370.2 117.0h0M347.3 109.8h0M365.2 114.0h0M355.2 112.2h0M371.2 110.0h0M373.6 113.0h0M361.8 112.9h0M366.3 110.4h0M358.3 118.6h0M354.1 107.7h0M345.3 116.9h0M362.0 119.8h0M357.5 119.8h0M354.0 111.1h0M357.4 108.7h0M356.2 101.3h0M346.7 109.3h0M352.4 119.8h0M371.1 101.5h0M355.7 101.6h0M373.9 114.0h0M345.4 112.9h0M343.2 100.1h0M359.7 109.3h0M367.0 111.4h0M351.0 101.7h0M365.3 114.6h0M368.7 102.7h0M370.3 115.5h0M357.1 110.7h0M357.7 106.0h0M339.9 101.2h0M358.6 107.9h0M361.4 109.1h0M374.0 109.0h0M344.1 106.5h0M348.9 108.5h0M347.1 114.2h0M368.3 104.9h0M339.8 108.5h0M346.2 112.0h0M381.3 109.5h0M365.6 114.1h0M343.5 117.7h0M363.2 83.3h0M366.8 79.7h0M347.2 77.9h0M363.3 83.9h0M369.6 84.9h0M358.5 75.6h0M373.7 89.4h0M353.7 78.1h0M373.8 91.5h0M362.2 86.2h0M359.1 83.6h0M362.4 86.2h0M363.8 81.5h0M359.1 84.2h0M356.8 92.7h0M362.2 81.6h0M371.3 88.6h0M367.9 80.0h0M373.8 84.4h0M361.6 89.3h0M363.2 78.5h0M363.3 86.2h0M366.3 73.7h0M368.3 78.8h0M376.3 82.4h0M369.8 88.9h0M366.4 88.1h0M373.8 79.9h0M360.5 83.8h0M357.2 85.4h0M369.6 76.7h0M366.4 86.6h0M366.1 91.3h0M371.2 90.7h0M363.3 81.5h0M364.7 82.5h0M367.8 79.8h0M369.4 82.0h0M371.5 83.2h0M366.1 87.9h0M367.0 84.9h0M350.3 79.9h0M373.0 88.6h0M355.6 88.9h0M365.1 81.4h0M381.1 83.3h0M363.3 84.0h0M355.5 76.3h0M375.4 85.2h0M361.9 87.9h0M364.4 94.2h0M364.3 85.5h0M369.9 83.1h0M370.2 83.8h0M364.6 87.6h0M372.3 88.5h0M359.8 80.2h0M369.6 85.5h0M361.5 87.8h0M369.7 74.5h0M361.2 91.4h0M362.6 83.4h0M374.5 88.9h0M358.4 84.3h0M358.1 83.3h0M368.9 84.1h0M363.7 86.0h0M362.7 88.9h0M364.5 83.2h0M378.5 78.9h0M358.9 81.0h0M363.7 79.6h0M366.4 88.3h0M359.5 79.7h0M365.1 92.1h0M368.4 85.2h0M359.7 84.1h0M372.3 91.1h0M358.2 82.7h0M364.4 83.1h0M367.4 88.4h0M385.1 88.2h0M354.5 79.6h0M367.1 96.8h0M381.0 87.4h0M361.6 78.3h0M372.1 83.7h0M366.7 89.2h0M356.5 85.7h0M367.8 88.8h0M359.8 96.4h0M365.9 89.2h0M356.0 94.6h0M369.9 88.0h0M350.3 81.3h0M364.3 92.1h0M373.3 81.1h0M368.5 89.4h0M363.2 87.9h0M363.9 80.4h0M362.7 81.1h0M382.2 83.7h0M365.0 86.6h0M365.2 91.3h0M360.8 85.0h0M362.4 94.2h0M369.1 89.0h0M361.5 81.5h0M360.3 81.6h0M361.9 85.1h0M363.1 82.1h0M366.4 84.3h0M362.3 88.6h0M364.1 86.0h0M360.7 89.6h0M373.0 81.3h0M365.9 80.5h0M363.4 77.8h0M367.1 75.9h0M365.0 82.5h0M355.6 85.1h0M364.2 83.8h0M375.5 84.8h0M368.4 95.0h0M372.6 79.4h0M361.1 83.5h0M356.1 82.4h0M361.0 80.3h0M373.7 91.6h0M359.1 84.7h0M360.4 91.1h0M372.2 79.2h0M363.7 94.2h0M364.1 96.2h0M367.7 80.5h0M365.8 84.8h0M363.4 84.2h0M366.9 87.7h0M360.9 78.4h0M365.0 87.2h0M369.4 88.5h0M358.7 81.9h0M364.0 73.5h0M358.2 81.5h0M369.9 82.9h0M369.1 88.7h0M371.1 81.8h0M371.7 79.1h0M371.6 88.0h0M369.7 86.7h0M360.5 88.6h0M371.1 85.1h0M359.6 90.2h0M379.8 87.5h0M367.1 76.0h0M369.0 85.9h0M357.7 88.8h0M371.9 85.1h0M372.6 92.2h0M355.6 82.6h0M361.8 88.4h0M362.4 78.8h0M361.3 84.9h0M373.9 82.2h0M378.7 79.9h0M358.7 78.4h0M371.8 86.0h0M363.7 87.0h0M373.8 81.7h0M350.1 78.7h0M362.6 80.5h0M372.8 88.7h0M360.6 78.9h0M372.7 90.6h0M362.1 76.6h0M372.4 86.3h0M368.9 88.2h0M362.7 91.0h0M360.6 82.8h0M364.2 81.1h0M372.5 77.8h0M365.2 89.5h0M361.2 84.3h0M385.9 82.6h0M355.5 82.8h0M363.9 86.2h0M368.6 85.1h0M358.8 90.8h0M365.2 74.2h0M362.7 89.2h0M356.1 82.3h0M368.1 84.5h0M358.2 83.4h0M360.6 84.5h0M372.9 88.7h0M358.3 86.0h0M369.0 77.7h0M372.6 84.6h0M371.4 84.5h0M368.2 86.8h0M363.8 85.2h0M356.6 84.5h0M366.2 90.1h0M368.0 79.5h0M362.1 95.9h0M359.1 82.1h0M370.6 79.8h0M358.7 88.9h0M368.0 90.3h0M362.3 91.2h0M354.8 92.3h0M375.3 87.4h0M369.0 85.3h0M368.6 86.9h0M356.5 85.0h0M364.4 82.3h0M367.0 93.0h0M360.6 94.1h0M375.5 85.0h0M352.7 83.8h0M369.6 82.5h0M353.5 76.6h0M355.5 81.6h0M357.2 82.4h0M368.7 84.9h0M360.7 80.0h0M361.0 75.5h0M359.5 88.3h0M355.9 93.6h0M359.5 74.4h0M359.0 84.3h0M363.1 89.3h0M362.7 79.2h0M350.2 77.8h0M361.0 85.2h0M372.6 83.8h0M362.1 81.8h0M364.5 93.2h0M360.5 92.5h0M360.7 88.3h0M364.5 84.7h0M356.5 83.4h0M363.9 89.5h0M354.5 83.9h0M366.9 92.5h0M355.1 91.3h0M368.9 82.0h0M371.1 88.9h0M354.7 92.9h0M369.0 88.4h0M362.3 80.4h0M372.0 83.8h0M361.5 83.4h0M363.0 85.7h0M362.9 85.3h0M372.5 83.4h0M352.7 89.4h0M369.5 91.9h0M365.3 82.3h0M361.7 77.8h0M363.2 87.0h0M370.5 85.2h0M369.8 87.3h0M375.2 81.8h0M360.7 86.7h0M352.9 80.7h0M361.2 90.7h0M363.5 93.7h0M362.0 80.6h0M372.2 72.3h0M378.8 82.8h0M367.0 82.6h0M353.6 86.3h0M371.1 85.4h0M360.7 87.8h0M364.9 98.9h0M369.9 82.5h0M366.9 83.4h0M364.2 87.5h0M366.4 76.1h0M369.4 89.3h0M368.5 82.2h0M377.5 78.2h0M346.1 81.1h0M359.8 87.9h0M361.0 89.6h0M369.8 91.6h0M366.0 87.6h0M369.9 81.8h0M355.8 88.2h0M363.3 85.0h0M368.6 97.1h0M364.3 75.1h0M362.2 93.5h0M366.3 89.3h0M374.9 87.5h0M351.6 85.0h0M374.5 82.6h0M366.4 80.6h0M359.3 77.6h0M368.7 95.6h0M364.9 90.1h0M372.1 88.8h0M359.6 87.3h0M370.6 75.9h0M359.0 84.1h0M366.6 86.1h0M368.9 91.3h0M364.1 80.5h0M368.6 86.8h0M360.9 84.3h0M371.2 85.6h0M361.5 81.6h0M360.3 87.3h0M363.9 85.9h0M364.3 76.2h0M359.4 91.6h0M369.6 96.5h0M363.9 81.1h0M368.4 91.3h0M355.4 80.6h0M356.5 82.9h0M363.0 94.3h0M358.5 86.5h0M363.8 93.1h0M368.1 87.0h0M371.5 90.6h0M373.7 84.7h0M369.5 92.7h0M360.3 94.5h0M368.1 89.0h0M361.4 82.8h0M368.0 83.8h0M358.1 80.9h0M373.0 88.6h0M367.2 88.2h0M362.9 82.1h0M356.2 90.2h0M366.4 82.7h0M361.4 94.7h0M366.2 89.8h0M360.2 93.6h0M361.3 82.1h0M368.5 80.7h0M373.8 76.5h0M356.8 88.9h0M363.5 80.0h0M367.1 92.4h0M363.7 86.4h0M361.9 89.5h0M378.1 79.3h0M359.5 82.7h0M366.9 86.6h0M361.6 89.4h0M364.1 79.3h0M350.5 87.4h0M370.2 81.6h0M363.4 89.7h0M358.7 84.6h0M375.0 84.2h0M363.0 87.9h0M360.9 91.5h0M359.4 84.5h0M371.3 91.8h0M364.9 80.7h0M362.8 87.1h0M356.5 80.1h0M359.1 86.8h0M366.8 81.1h0M364.5 85.9h0M352.2 88.8h0M359.3 80.9h0M366.1 76.9h0M381.3 84.8h0M360.0 88.3h0M350.9 86.8h0M369.4 81.2h0M361.7 89.8h0M356.5 84.2h0M368.2 89.5h0M350.1 92.7h0M347.8 90.5h0M343.6 97.5h0M348.8 96.6h0M347.9 94.3h0M355.3 91.0h0M345.3 98.1h0M348.7 100.8h0M356.8 81.1h0M350.7 96.4h0M356.9 89.5h0M343.8 104.5h0M344.2 89.6h0M354.4 93.3h0M348.9 101.2h0M345.1 96.2h0M343.2 99.7h0M351.5 98.4h0M349.8 101.4h0M340.1 102.8h0M355.0 99.4h0M353.8 91.7h0M358.6 92.4h0M351.3 94.0h0M352.6 93.4h0M360.2 82.5h0M351.6 100.1h0M350.0 90.8h0M360.1 86.5h0M349.3 90.5h0M352.4 97.6h0M350.5 91.6h0M353.5 88.7h0M347.2 103.3h0M361.0 88.7h0M353.9 88.5h0M349.7 89.8h0M364.2 86.4h0M363.1 92.2h0M347.8 96.3h0M356.7 77.9h0M360.5 90.0h0M345.0 98.2h0M352.6 92.5h0M354.5 90.7h0M356.6 96.2h0M361.2 91.5h0M353.4 95.9h0M351.8 91.6h0M351.9 92.6h0M355.2 95.9h0M352.8 106.6h0M348.0 93.0h0M347.7 94.7h0M361.9 88.0h0M350.5 101.1h0M351.9 95.9h0M349.9 94.7h0M352.8 89.5h0M349.7 92.5h0M351.5 90.0h0M361.2 85.4h0M358.2 85.9h0M347.2 90.3h0M351.7 103.3h0M348.4 90.6h0M359.7 84.4h0M349.3 100.3h0M351.8 99.0h0M343.0 91.6h0M346.7 97.5h0M352.2 90.9h0M357.1 91.6h0M350.6 96.0h0M357.9 83.2h0M345.0 98.4h0M350.8 96.9h0M346.3 101.6h0M347.5 100.8h0M350.1 90.1h0M354.5 94.5h0M354.2 82.7h0M351.1 105.4h0M348.1 97.5h0M360.9 88.2h0M345.7 101.1h0M348.4 94.2h0M341.7 101.3h0M359.2 83.7h0M364.6 80.9h0M344.5 99.5h0M360.4 83.1h0M358.7 90.2h0M354.9 89.1h0M359.8 88.3h0M353.5 98.3h0M350.2 93.1h0M351.4 89.6h0M358.9 93.2h0M349.6 103.7h0M354.8 84.3h0M367.8 91.4h0M357.5 90.6h0M354.0 89.2h0M347.6 96.4h0M352.4 91.4h0M354.4 96.9h0M344.6 94.7h0M348.6 96.9h0M344.2 96.7h0M354.9 99.0h0M347.8 94.5h0M353.6 86.7h0M354.6 86.6h0M358.7 94.8h0M347.2 100.7h0M350.6 90.8h0M346.3 102.9h0M360.2 84.9h0M365.0 94.8h0M350.5 96.7h0M348.4 103.7h0M354.2 93.1h0M356.2 87.9h0M353.4 95.0h0M346.3 98.2h0M348.2 94.6h0M349.1 95.9h0M346.4 99.5h0M355.9 90.2h0M349.6 98.1h0M351.4 94.9h0M352.7 92.6h0M358.1 84.1h0M347.2 100.9h0M344.4 99.7h0M346.0 94.8h0M354.0 101.2h0M343.8 104.0h0M348.5 95.1h0M352.1 92.3h0M355.5 100.2h0M350.6 100.3h0M356.4 88.9h0M350.2 100.6h0M363.0 85.3h0M344.6 100.0h0M357.8 81.3h0M352.5 96.2h0M343.5 97.1h0M358.5 84.2h0M349.7 90.9h0M351.8 95.7h0M350.4 93.8h0M346.1 97.1h0M352.0 96.2h0M343.6 92.4h0M348.9 95.1h0M344.6 93.3h0M343.3 98.8h0M358.3 83.1h0M363.1 87.1h0M346.4 88.7h0M355.1 84.8h0M354.5 95.3h0M352.7 88.0h0M352.4 90.9h0M351.7 99.2h0M349.9 90.6h0M345.2 99.0h0M356.5 88.9h0M355.3 90.5h0M353.8 92.0h0M359.2 99.7h0M348.9 91.4h0M356.2 90.8h0M347.8 95.7h0M352.5 94.3h0M353.1 84.1h0M366.4 83.1h0M353.2 94.9h0M350.4 92.9h0M354.7 87.5h0M350.5 94.4h0M351.2 91.9h0M348.1 94.9h0M353.2 99.1h0M352.6 97.4h0M358.8 93.0h0M354.7 100.9h0M342.6 105.7h0M339.8 89.8h0M353.2 104.1h0M351.8 88.8h0M360.1 90.7h0M366.2 86.2h0M354.9 88.8h0M354.4 84.8h0M356.8 89.8h0M354.0 100.7h0M356.7 91.1h0M351.0 86.2h0M366.5 88.9h0M355.0 94.8h0M348.9 101.5h0M347.8 94.1h0M355.3 98.0h0M359.1 92.0h0M363.0 91.0h0M347.7 98.6h0M347.8 101.5h0M360.3 83.7h0M358.4 87.9h0M356.9 87.7h0M354.5 87.2h0M356.6 86.7h0M347.0 93.7h0M347.1 99.9h0M360.7 85.5h0M352.3 95.4h0M345.5 100.9h0M352.4 92.3h0M340.4 94.9h0M346.4 94.3h0M359.7 87.9h0M358.4 86.5h0M349.5 99.3h0M359.2 85.0h0M359.6 84.3h0M354.7 92.9h0M355.4 92.2h0M353.0 85.4h0M342.0 97.7h0M363.0 88.3h0M357.1 89.7h0M361.1 95.4h0M348.8 102.3h0M345.8 97.8h0M356.1 91.6h0M346.5 95.8h0M353.0 94.0h0M351.7 94.5h0M358.7 91.0h0M351.1 96.4h0M342.7 95.8h0M357.3 93.3h0M359.2 84.6h0M346.1 96.6h0M352.2 96.0h0M357.0 89.6h0M351.7 99.2h0M356.7 80.5h0M353.2 89.1h0M355.6 88.4h0M343.5 103.8h0M363.2 95.4h0M346.3 94.4h0M350.7 87.4h0M356.5 91.4h0M346.1 98.4h0M353.7 96.7h0M350.3 103.3h0M346.1 95.6h0M352.0 91.3h0M360.3 85.2h0M356.4 86.7h0M350.6 95.2h0M359.9 89.7h0M352.7 96.5h0M350.9 94.7h0M348.1 97.8h0M350.2 97.2h0M348.6 96.4h0M353.0 89.5h0M346.0 102.9h0M346.7 92.5h0M364.8 85.9h0M354.8 87.6h0M362.2 89.2h0M354.4 95.3h0M352.4 97.5h0M350.7 98.7h0M351.5 99.8h0M357.0 87.4h0M359.8 84.4h0M350.7 104.3h0M358.4 91.3h0M353.6 83.4h0M358.3 83.2h0M353.2 99.1h0M359.8 89.5h0M356.3 79.6h0M360.2 83.9h0M350.1 93.5h0M359.7 91.0h0M352.4 86.0h0M363.6 86.0h0M353.0 82.6h0M355.6 98.4h0M354.8 96.3h0M355.5 91.0h0M361.6 90.8h0M359.2 87.9h0M349.9 96.8h0M350.7 96.9h0M357.9 87.8h0M346.6 101.2h0M354.8 95.5h0M363.3 90.2h0M354.0 92.7h0M363.5 83.6h0M351.3 99.4h0M349.4 96.7h0M356.2 97.3h0M356.5 91.5h0M350.5 101.7h0M366.2 87.6h0M362.4 87.4h0M345.3 103.0h0M343.5 94.9h0M367.4 84.6h0M351.6 99.4h0M352.8 100.5h0M352.8 100.6h0M346.7 110.4h0M346.1 99.2h0M349.5 98.2h0M364.3 86.9h0M356.5 94.8h0M355.5 90.3h0M342.9 97.6h0M348.9 100.1h0M353.4 92.1h0M351.9 94.8h0M349.2 83.1h0M352.9 100.2h0M366.2 85.5h0M346.6 95.3h0M356.3 90.0h0M358.8 91.0h0M357.0 88.1h0M349.8 103.3h0M352.1 87.3h0M358.6 84.6h0M354.3 98.4h0M360.9 93.2h0M360.2 84.3h0M346.5 95.9h0M356.0 87.8h0M346.4 92.9h0M361.6 85.0h0M344.4 99.7h0M351.8 85.8h0M345.1 104.1h0M342.2 99.9h0M355.8 87.6h0M348.2 100.8h0M357.6 90.9h0M363.1 82.0h0M350.1 98.2h0M350.6 102.2h0M351.9 88.9h0M354.4 92.9h0M354.1 90.3h0M347.9 97.1h0M351.7 94.3h0M356.8 78.3h0M356.9 88.2h0M350.4 88.6h0M356.6 88.8h0M356.2 100.2h0M350.6 101.3h0M347.2 97.5h0M348.9 97.9h0M345.2 102.1h0M360.6 92.0h0M356.2 92.0h0M356.3 87.8h0M350.9 98.2h0M352.7 92.5h0M355.4 82.5h0M357.7 91.3h0M350.4 87.8h0M365.9 87.8h0M346.2 101.5h0M356.6 81.2h0M343.3 100.8h0M351.7 93.6h0M341.6 98.7h0M344.5 103.3h0M352.9 93.5h0M357.2 90.8h0M352.8 96.5h0M339.8 94.6h0M353.9 95.2h0M358.4 83.9h0M356.5 97.2h0M354.8 88.6h0M362.9 91.2h0M353.4 91.7h0M347.2 98.9h0M363.0 89.5h0M345.1 93.3h0M346.4 88.6h0M347.5 98.6h0M347.6 91.6h0M354.4 93.9h0M343.0 100.2h0M342.1 96.6h0M355.4 99.8h0M353.5 93.9h0M353.3 91.4h0M359.0 87.2h0M356.8 94.2h0M356.7 92.0h0M352.2 89.4h0M360.9 88.9h0M355.6 86.3h0M352.1 92.0h0M359.8 82.5h0M353.4 91.7h0M354.8 98.2h0M358.0 92.6h0M352.4 83.1h0M358.3 89.8h0M356.6 95.7h0M344.9 97.6h0M346.8 90.6h0M354.2 103.4h0M357.2 90.1h0M352.3 93.7h0M356.1 89.0h0M350.1 99.3h0M347.2 88.6h0M352.3 101.4h0M352.2 89.4h0M354.7 92.6h0M360.8 80.3h0M370.4 89.6h0M357.5 83.3h0M354.0 94.1h0M343.0 95.2h0M359.5 86.9h0M362.2 88.6h0M348.7 91.0h0M345.3 94.3h0M349.7 97.2h0M357.8 88.6h0M363.9 87.8h0M354.1 88.2h0M359.8 87.0h0M349.4 92.2h0M353.8 97.5h0M346.0 94.2h0M357.1 98.3h0M358.5 93.1h0M351.6 92.1h0M366.8 89.9h0M349.5 94.6h0M362.2 87.0h0M355.0 86.9h0M342.0 99.8h0M348.9 92.5h0M359.0 90.6h0M360.7 84.8h0M357.0 83.9h0M343.1 100.1h0M354.7 92.3h0M357.3 89.4h0M352.4 98.4h0M354.3 97.7h0M341.4 96.9h0M343.9 100.6h0M352.8 91.8h0M346.9 103.8h0M343.3 100.3h0M359.9 86.9h0M343.4 97.0h0M353.2 91.8h0M352.7 80.3h0M347.2 101.5h0M343.7 92.7h0M343.8 103.5h0M364.8 81.5h0M352.8 95.7h0M347.5 107.2h0M354.8 84.3h0M353.0 87.0h0M363.4 93.6h0M349.1 97.8h0M354.8 87.7h0M356.7 93.2h0M352.7 83.9h0M354.8 87.8h0M344.8 95.5h0M339.8 95.1h0M357.3 89.7h0M356.9 96.7h0M344.9 104.3h0M352.3 99.3h0M349.5 90.1h0M366.2 79.7h0M350.2 98.4h0M357.3 90.0h0M351.9 95.1h0M358.3 92.1h0M356.2 92.6h0M357.7 85.4h0M348.0 97.0h0M347.3 105.5h0M350.0 94.8h0M354.1 103.9h0M351.2 88.0h0M346.8 98.1h0M356.7 87.6h0M345.2 90.6h0M352.7 88.3h0M348.7 94.9h0M357.3 91.6h0M349.3 94.7h0M348.8 99.5h0M354.2 91.2h0M351.5 89.3h0M354.2 90.5h0M356.4 97.5h0M339.8 98.1h0M341.2 103.5h0M352.8 98.3h0M347.2 104.3h0M350.5 92.7h0M366.1 86.5h0M357.7 93.5h0M365.4 83.1h0M339.8 99.7h0M351.4 96.1h0M351.5 96.2h0M354.6 90.3h0M339.8 101.7h0M366.5 92.5h0M358.4 86.2h0M351.1 97.8h0M353.2 101.8h0M357.9 91.2h0M353.6 95.7h0M352.1 95.3h0M360.0 86.7h0M354.7 86.8h0M339.8 93.9h0M354.6 95.0h0M356.6 91.0h0M358.1 89.5h0M348.6 101.7h0M341.0 102.9h0M353.0 86.2h0M341.6 92.4h0M350.8 95.5h0M356.6 93.4h0M346.9 97.0h0M351.5 93.3h0M364.2 84.5h0M349.4 97.6h0M349.7 92.9h0M339.9 92.7h0M351.8 93.7h0M353.5 102.9h0M345.4 102.2h0M347.1 97.0h0M350.1 91.2h0M342.3 98.1h0M353.4 91.0h0M356.6 95.1h0M347.0 98.1h0M356.0 93.7h0M345.7 97.4h0M349.7 102.0h0M361.9 79.6h0M358.6 82.6h0M351.4 93.7h0M357.1 92.1h0M360.1 96.6h0M357.4 82.9h0M359.8 91.2h0M363.1 84.6h0M352.9 90.6h0M360.7 92.5h0M345.8 89.6h0M359.7 85.5h0M347.8 94.9h0M356.8 84.0h0M360.1 88.8h0M359.7 85.6h0M350.2 97.5h0M360.9 87.1h0M350.7 92.5h0M350.6 95.9h0M347.7 102.3h0M358.1 90.9h0M346.1 95.9h0M355.3 90.6h0M344.8 94.3h0M356.5 89.3h0M355.8 85.4h0M358.3 81.1h0M357.6 86.2h0M354.8 91.0h0M362.6 90.5h0M349.3 100.4h0M347.0 100.2h0M358.2 88.8h0M339.9 95.7h0M360.4 84.6h0M348.1 99.8h0M360.9 86.8h0M345.9 99.7h0M350.7 94.0h0M356.5 89.4h0M349.2 92.0h0M357.7 90.1h0M361.6 89.4h0M343.8 100.5h0M357.5 90.7h0M346.5 105.1h0M356.5 87.8h0M362.2 90.0h0M352.5 88.9h0M340.9 95.9h0M343.3 100.1h0M356.9 88.2h0M359.1 92.2h0M360.7 82.0h0M365.9 89.3h0M355.9 89.2h0M359.6 90.9h0M364.0 89.2h0M354.3 87.5h0M355.8 88.4h0M346.0 100.7h0M365.0 82.2h0M359.2 90.4h0M358.6 91.8h0M349.8 92.6h0M363.3 90.4h0M345.2 95.0h0M355.9 91.8h0M360.9 92.8h0M346.3 97.8h0M347.4 91.4h0M356.4 83.9h0M357.4 96.6h0M362.5 90.9h0M366.2 94.9h0M356.5 86.4h0M350.0 91.9h0M376.3 83.8h0M359.3 96.1h0M383.4 82.8h0M347.4 83.3h0M357.2 102.6h0M353.5 81.7h0M383.2 90.0h0M375.9 96.1h0M355.3 86.5h0M339.8 99.8h0M374.9 83.7h0M362.7 101.0h0M347.7 73.1h0M343.3 75.3h0M366.0 90.7h0M358.7 105.5h0M362.9 107.4h0M365.9 80.7h0M356.8 89.7h0M357.9 84.7h0M369.1 66.8h0M359.9 97.8h0M357.9 85.9h0M368.8 104.8h0M339.8 93.0h0M376.0 84.2h0M366.5 82.5h0M352.1 87.9h0M359.1 94.9h0M375.9 84.7h0M367.8 119.8h0M340.0 92.2h0M349.1 77.7h0M363.4 90.9h0M382.5 102.4h0M370.4 94.6h0M358.9 86.4h0M368.2 82.8h0M361.5 81.4h0M357.7 77.2h0M365.8 84.4h0M339.8 92.8h0M373.3 83.9h0M367.7 107.6h0M356.0 94.1h0M351.1 85.2h0M346.9 89.6h0M364.5 105.8h0M363.1 71.5h0M363.4 92.5h0M381.7 119.0h0M339.8 100.8h0M352.7 80.2h0M352.1 91.3h0M372.6 87.4h0M358.3 119.8h0M350.1 82.7h0M363.8 87.0h0M366.1 86.4h0M380.5 74.6h0M364.3 54.3h0M356.1 87.4h0M355.3 95.5h0M351.6 85.3h0M367.1 95.3h0M371.0 98.1h0M358.6 97.5h0M359.7 71.6h0M377.7 106.3h0M362.5 99.3h0M367.2 98.7h0M348.4 90.1h0M354.1 89.9h0M339.8 84.1h0M345.0 94.5h0M365.7 100.0h0M376.1 83.8h0M358.1 98.8h0M347.1 84.9h0M362.4 96.4h0M374.9 88.4h0M359.4 99.3h0M372.2 110.9h0M360.6 92.4h0M346.7 84.7h0M350.5 85.4h0M358.3 96.7h0M388.5 84.6h0M368.3 100.6h0M358.5 93.2h0M364.8 99.8h0M363.8 84.0h0M356.0 79.6h0M360.1 81.9h0M358.3 94.3h0M370.1 81.5h0M379.9 97.5h0M377.1 67.7h0M357.5 82.8h0M367.9 88.2h0M352.7 70.2h0M348.3 83.4h0M362.2 73.8h0M368.6 89.2h0M360.6 87.4h0M371.2 98.1h0M371.2 80.9h0M370.3 72.4h0M359.5 84.1h0M345.1 91.4h0M382.8 91.0h0M355.7 91.8h0M370.0 103.2h0M367.1 86.2h0M357.2 87.7h0M383.1 80.9h0M369.4 83.6h0M361.2 101.3h0M356.4 94.0h0M349.8 61.7h0M346.3 103.1h0M368.1 68.5h0M356.1 85.6h0M355.9 100.6h0M367.3 91.5h0M357.2 96.1h0M369.1 99.5h0M353.7 93.3h0M355.2 76.4h0M372.2 94.1h0M353.2 82.5h0M368.6 63.9h0M367.3 86.9h0M361.4 96.0h0M341.7 91.4h0M345.8 90.2h0M348.3 108.9h0M346.0 93.0h0M371.6 100.0h0M351.0 93.6h0M346.6 107.9h0M355.3 86.1h0M360.2 102.9h0M341.5 109.8h0M368.5 86.1h0M369.9 101.5h0M354.2 75.4h0M370.9 93.5h0M342.9 98.1h0M354.8 81.1h0M359.4 70.7h0M362.1 90.7h0M374.9 86.6h0M357.4 92.2h0M349.3 93.3h0M363.8 99.2h0M363.1 107.1h0" stroke="#111" stroke-width=".75" stroke-linecap="square" fill="none"/>
<path d="M341.3 121.3h8M351.3 121.3h3M356.3 121.3h6" stroke="#111" stroke-width="1"/>
<rect x="339.3" y="28.8" width="91.39999999999998" height="91.8" fill="none" stroke="#8c8c8c" stroke-width="0.9"/>
<line x1="336.90" y1="37.40" x2="339.60" y2="37.40" stroke="#1a1a1a" stroke-width="1.2"/>
<line x1="336.90" y1="59.00" x2="339.60" y2="59.00" stroke="#1a1a1a" stroke-width="1.2"/>
<line x1="336.90" y1="80.80" x2="339.60" y2="80.80" stroke="#1a1a1a" stroke-width="1.2"/>
<line x1="336.90" y1="102.70" x2="339.60" y2="102.70" stroke="#1a1a1a" stroke-width="1.2"/>
<line x1="336.90" y1="109.90" x2="339.60" y2="109.90" stroke="#1a1a1a" stroke-width="1.2"/>
<line x1="336.90" y1="118.80" x2="339.60" y2="118.80" stroke="#1a1a1a" stroke-width="1.2"/>
<line x1="349.10" y1="120.30" x2="349.10" y2="123.00" stroke="#1a1a1a" stroke-width="1.2"/>
<line x1="379.70" y1="120.30" x2="379.70" y2="123.00" stroke="#1a1a1a" stroke-width="1.2"/>
<line x1="401.00" y1="120.30" x2="401.00" y2="123.00" stroke="#1a1a1a" stroke-width="1.2"/>
<line x1="421.70" y1="120.30" x2="421.70" y2="123.00" stroke="#1a1a1a" stroke-width="1.2"/>
<path d="M364.0 120.6v1.3M368.0 120.6v1.3M370.8 120.6v1.3M373.0 120.6v1.3M374.7 120.6v1.3M376.2 120.6v1.3M377.5 120.6v1.3M378.7 120.6v1.3M386.1 120.6v1.3M389.9 120.6v1.3M392.5 120.6v1.3M394.6 120.6v1.3M396.3 120.6v1.3M397.7 120.6v1.3M398.9 120.6v1.3M400.0 120.6v1.3M407.2 120.6v1.3M410.9 120.6v1.3M413.5 120.6v1.3M415.5 120.6v1.3M417.1 120.6v1.3M418.5 120.6v1.3M419.7 120.6v1.3M420.8 120.6v1.3M339.3 52.5h-1.3M339.3 48.7h-1.3M339.3 46.0h-1.3M339.3 43.9h-1.3M339.3 42.2h-1.3M339.3 40.7h-1.3M339.3 39.5h-1.3M339.3 38.4h-1.3M339.3 74.2h-1.3M339.3 70.4h-1.3M339.3 67.7h-1.3M339.3 65.6h-1.3M339.3 63.8h-1.3M339.3 62.4h-1.3M339.3 61.1h-1.3M339.3 60.0h-1.3M339.3 96.1h-1.3M339.3 92.3h-1.3M339.3 89.5h-1.3M339.3 87.4h-1.3M339.3 85.7h-1.3M339.3 84.2h-1.3M339.3 82.9h-1.3M339.3 81.8h-1.3" stroke="#333" stroke-width="0.8"/>
<text x="335.30" y="39.60" font-size="6.2" text-anchor="end" fill="#3e3e3e">10<tspan font-size="4.8" dy="-2.1">5</tspan></text>
<text x="335.30" y="61.20" font-size="6.2" text-anchor="end" fill="#3e3e3e">10<tspan font-size="4.8" dy="-2.1">4</tspan></text>
<text x="335.30" y="83.00" font-size="6.2" text-anchor="end" fill="#3e3e3e">10<tspan font-size="4.8" dy="-2.1">3</tspan></text>
<text x="335.30" y="104.90" font-size="6.2" text-anchor="end" fill="#3e3e3e">10<tspan font-size="4.8" dy="-2.1">2</tspan></text>
<text x="335.30" y="112.10" font-size="6.2" text-anchor="end" fill="#3e3e3e">0</text>
<text x="335.30" y="121.00" font-size="6.2" text-anchor="end" fill="#3e3e3e">−10<tspan font-size="4.8" dy="-2.1">2</tspan></text>
<text x="350.90" y="130.70" font-size="6.2" text-anchor="middle" fill="#3e3e3e">0</text>
<text x="380.90" y="130.70" font-size="6.2" text-anchor="middle" fill="#3e3e3e">10<tspan font-size="4.8" dy="-2.1">3</tspan></text>
<text x="402.20" y="130.70" font-size="6.2" text-anchor="middle" fill="#3e3e3e">10<tspan font-size="4.8" dy="-2.1">4</tspan></text>
<text x="422.90" y="130.70" font-size="6.2" text-anchor="middle" fill="#3e3e3e">10<tspan font-size="4.8" dy="-2.1">5</tspan></text>
<rect x="233.5" y="75.9" width="23.6" height="17.4" fill="none" stroke="#c8202e" stroke-width="1.1"/>
<rect x="353.5" y="75.9" width="24.1" height="17.9" fill="none" stroke="#c8202e" stroke-width="1.1"/>
<text x="262.50" y="24.00" font-size="7.2" text-anchor="middle" fill="#111" font-weight="bold">Vehicle</text>
<text x="385.00" y="24.00" font-size="7.2" text-anchor="middle" fill="#111" font-weight="bold" textLength="36.9" lengthAdjust="spacingAndGlyphs">WT-1-TCB*</text>
<text x="198.20" y="68.30" font-size="7.4" text-anchor="middle" fill="#3e3e3e" textLength="32.8" lengthAdjust="spacingAndGlyphs" transform="rotate(-90 198.20 68.30)">huCD133(1)</text>
<line x1="195.00" y1="105.30" x2="195.00" y2="93.00" stroke="#222" stroke-width="0.9"/>
<path d="M195 89.8 L192.8 94 L197.2 94 Z" fill="#222"/>
<line x1="249.60" y1="143.80" x2="303.50" y2="143.80" stroke="#222" stroke-width="0.9"/>
<path d="M306.6 143.8 L302.4 141.6 L302.4 146 Z" fill="#222"/>
<text x="309.20" y="146.20" font-size="6.8" text-anchor="start" fill="#3e3e3e" textLength="21.2" lengthAdjust="spacingAndGlyphs">huCD34</text>
<text x="6.90" y="280.20" font-size="11" text-anchor="start" fill="#111" font-weight="bold">D</text>
<text x="100.40" y="293.80" font-size="7.2" text-anchor="middle" fill="#111" font-weight="bold" textLength="29.4" lengthAdjust="spacingAndGlyphs">AML573</text>
<line x1="45.00" y1="304.00" x2="45.00" y2="378.50" stroke="#383838" stroke-width="1.3"/>
<line x1="44.40" y1="377.90" x2="156.30" y2="377.90" stroke="#383838" stroke-width="1.3"/>
<line x1="42.00" y1="377.90" x2="45.00" y2="377.90" stroke="#383838" stroke-width="1"/>
<text x="41.20" y="380.10" font-size="5.9" text-anchor="end" fill="#3e3e3e">10<tspan font-size="4.8" dy="-2.1">5</tspan></text>
<line x1="42.00" y1="359.60" x2="45.00" y2="359.60" stroke="#383838" stroke-width="1"/>
<text x="41.20" y="361.80" font-size="5.9" text-anchor="end" fill="#3e3e3e">10<tspan font-size="4.8" dy="-2.1">6</tspan></text>
<line x1="42.00" y1="341.30" x2="45.00" y2="341.30" stroke="#383838" stroke-width="1"/>
<text x="41.20" y="343.50" font-size="5.9" text-anchor="end" fill="#3e3e3e">10<tspan font-size="4.8" dy="-2.1">7</tspan></text>
<line x1="42.00" y1="323.00" x2="45.00" y2="323.00" stroke="#383838" stroke-width="1"/>
<text x="41.20" y="325.20" font-size="5.9" text-anchor="end" fill="#3e3e3e">10<tspan font-size="4.8" dy="-2.1">8</tspan></text>
<line x1="42.00" y1="304.70" x2="45.00" y2="304.70" stroke="#383838" stroke-width="1"/>
<text x="41.20" y="306.90" font-size="5.9" text-anchor="end" fill="#3e3e3e">10<tspan font-size="4.8" dy="-2.1">9</tspan></text>
<line x1="45.00" y1="377.90" x2="45.00" y2="380.90" stroke="#383838" stroke-width="1"/>
<text x="45.00" y="389.60" font-size="6.8" text-anchor="middle" fill="#3e3e3e" textLength="3.5" lengthAdjust="spacingAndGlyphs">0</text>
<line x1="81.90" y1="377.90" x2="81.90" y2="380.90" stroke="#383838" stroke-width="1"/>
<text x="81.90" y="389.60" font-size="6.8" text-anchor="middle" fill="#3e3e3e" textLength="7.0" lengthAdjust="spacingAndGlyphs">20</text>
<line x1="118.80" y1="377.90" x2="118.80" y2="380.90" stroke="#383838" stroke-width="1"/>
<text x="118.80" y="389.60" font-size="6.8" text-anchor="middle" fill="#3e3e3e" textLength="7.0" lengthAdjust="spacingAndGlyphs">40</text>
<line x1="155.70" y1="377.90" x2="155.70" y2="380.90" stroke="#383838" stroke-width="1"/>
<text x="155.70" y="389.60" font-size="6.8" text-anchor="middle" fill="#3e3e3e" textLength="7.0" lengthAdjust="spacingAndGlyphs">60</text>
<text x="100.40" y="398.00" font-size="7.4" text-anchor="middle" fill="#3e3e3e" textLength="25.5" lengthAdjust="spacingAndGlyphs">Study day</text>
<text x="11.80" y="339.70" font-size="6.8" text-anchor="middle" fill="#3e3e3e" textLength="46.8" lengthAdjust="spacingAndGlyphs" transform="rotate(-90 11.80 339.70)">Bioluminescence</text>
<text x="19.80" y="340.70" font-size="6.8" text-anchor="middle" fill="#3e3e3e" textLength="38.3" lengthAdjust="spacingAndGlyphs" transform="rotate(-90 19.80 340.70)">(P/sec/cm<tspan font-size="4.4" dy="-2.3">2</tspan><tspan dy="2.3">/sr)</tspan></text>
<line x1="48.10" y1="302.70" x2="56.80" y2="302.70" stroke="#cf1f33" stroke-width="1.3"/>
<circle cx="52.4" cy="302.7" r="1.3" fill="#cf1f33"/>
<text x="60.20" y="304.90" font-size="6.5" text-anchor="start" fill="#3e3e3e" textLength="27.6" lengthAdjust="spacingAndGlyphs">WT1-TCB</text>
<line x1="48.10" y1="311.30" x2="56.80" y2="311.30" stroke="#15508f" stroke-width="1.3"/>
<circle cx="52.4" cy="311.3" r="1.3" fill="#15508f"/>
<text x="60.20" y="313.50" font-size="6.5" text-anchor="start" fill="#3e3e3e" textLength="25.0" lengthAdjust="spacingAndGlyphs">Ctrl-TCB</text>
<line x1="48.10" y1="319.70" x2="56.80" y2="319.70" stroke="#3cb44b" stroke-width="1.1" stroke-dasharray="1.6 1.4"/>
<circle cx="52.4" cy="319.7" r="1.3" fill="#3cb44b"/>
<text x="60.20" y="321.90" font-size="6.5" text-anchor="start" fill="#3e3e3e" textLength="32.7" lengthAdjust="spacingAndGlyphs">Historic ctrl</text>
<line x1="96.10" y1="342.30" x2="156.00" y2="311.50" stroke="#5cc763" stroke-width="1.1" stroke-dasharray="2.3 1.5"/>
<circle cx="96.1" cy="342.3" r="1.2" fill="#3cb44b"/>
<circle cx="116.9" cy="334.9" r="1.2" fill="#3cb44b"/>
<line x1="148.20" y1="313.50" x2="148.20" y2="322.70" stroke="#3cb44b" stroke-width="0.9"/>
<line x1="146.80" y1="313.50" x2="149.60" y2="313.50" stroke="#3cb44b" stroke-width="0.9"/>
<line x1="146.80" y1="322.70" x2="149.60" y2="322.70" stroke="#3cb44b" stroke-width="0.9"/>
<circle cx="148.2" cy="316.8" r="1.4" fill="#3cb44b"/>
<polyline points="70.8,353.6 96.3,340.2 103.7,336.8 116.8,329.7 124.3,326.0" fill="none" stroke="#15508f" stroke-width="1.2" stroke-linejoin="round"/>
<circle cx="70.8" cy="353.6" r="1.1" fill="#15508f"/>
<circle cx="96.3" cy="340.2" r="1.1" fill="#15508f"/>
<circle cx="103.7" cy="336.8" r="1.1" fill="#15508f"/>
<circle cx="116.8" cy="329.7" r="1.1" fill="#15508f"/>
<circle cx="124.3" cy="326.0" r="1.1" fill="#15508f"/>
<polyline points="70.8,357.0 96.3,344.2 103.7,346.2 116.8,333.0 124.3,328.0" fill="none" stroke="#15508f" stroke-width="1.2" stroke-linejoin="round"/>
<circle cx="70.8" cy="357.0" r="1.1" fill="#15508f"/>
<circle cx="96.3" cy="344.2" r="1.1" fill="#15508f"/>
<circle cx="103.7" cy="346.2" r="1.1" fill="#15508f"/>
<circle cx="116.8" cy="333.0" r="1.1" fill="#15508f"/>
<circle cx="124.3" cy="328.0" r="1.1" fill="#15508f"/>
<polyline points="70.8,360.4 96.3,349.5 103.7,346.2 116.8,340.5 124.3,335.5" fill="none" stroke="#15508f" stroke-width="1.2" stroke-linejoin="round"/>
<circle cx="70.8" cy="360.4" r="1.1" fill="#15508f"/>
<circle cx="96.3" cy="349.5" r="1.1" fill="#15508f"/>
<circle cx="103.7" cy="346.2" r="1.1" fill="#15508f"/>
<circle cx="116.8" cy="340.5" r="1.1" fill="#15508f"/>
<circle cx="124.3" cy="335.5" r="1.1" fill="#15508f"/>
<polyline points="70.8,343.8 96.3,328.7 103.7,332.8 116.8,359.7 124.3,348.9" fill="none" stroke="#cf1f33" stroke-width="1.2" stroke-linejoin="round"/>
<circle cx="70.8" cy="343.8" r="1.1" fill="#cf1f33"/>
<circle cx="96.3" cy="328.7" r="1.1" fill="#cf1f33"/>
<circle cx="103.7" cy="332.8" r="1.1" fill="#cf1f33"/>
<circle cx="116.8" cy="359.7" r="1.1" fill="#cf1f33"/>
<circle cx="124.3" cy="348.9" r="1.1" fill="#cf1f33"/>
<polyline points="70.8,348.5 96.3,328.7 103.7,362.8" fill="none" stroke="#cf1f33" stroke-width="1.2" stroke-linejoin="round"/>
<circle cx="70.8" cy="348.5" r="1.1" fill="#cf1f33"/>
<circle cx="96.3" cy="328.7" r="1.1" fill="#cf1f33"/>
<circle cx="103.7" cy="362.8" r="1.1" fill="#cf1f33"/>
<polyline points="70.8,358.4 96.3,348.0 103.7,358.4 116.8,359.7 124.3,357.4" fill="none" stroke="#cf1f33" stroke-width="1.2" stroke-linejoin="round"/>
<circle cx="70.8" cy="358.4" r="1.1" fill="#cf1f33"/>
<circle cx="96.3" cy="348.0" r="1.1" fill="#cf1f33"/>
<circle cx="103.7" cy="358.4" r="1.1" fill="#cf1f33"/>
<circle cx="116.8" cy="359.7" r="1.1" fill="#cf1f33"/>
<circle cx="124.3" cy="357.4" r="1.1" fill="#cf1f33"/>
<text x="189.60" y="280.30" font-size="11" text-anchor="start" fill="#111" font-weight="bold">E</text>
<text x="279.10" y="275.80" font-size="7.0" text-anchor="start" fill="#111" font-weight="bold" textLength="28.9" lengthAdjust="spacingAndGlyphs">Ctrl-TCB</text>
<text x="420.70" y="275.80" font-size="7.0" text-anchor="start" fill="#111" font-weight="bold" textLength="31.2" lengthAdjust="spacingAndGlyphs">WT1-TCB</text>
<text x="188.80" y="314.00" font-size="6.4" text-anchor="start" fill="#3e3e3e" textLength="20.2" lengthAdjust="spacingAndGlyphs">Day 28</text>
<text x="188.80" y="383.00" font-size="6.4" text-anchor="start" fill="#3e3e3e" textLength="20.2" lengthAdjust="spacingAndGlyphs">Day 39</text>
<rect x="216.50" y="281.30" width="157.40" height="61.20" fill="#151515" stroke="#000" stroke-width="1"/>
<rect x="216.50" y="352.00" width="157.40" height="60.40" fill="#151515" stroke="#000" stroke-width="1"/>
<rect x="382.40" y="281.30" width="111.70" height="61.20" fill="#151515" stroke="#000" stroke-width="1"/>
<rect x="382.40" y="352.00" width="111.70" height="60.40" fill="#151515" stroke="#000" stroke-width="1"/>
<use href="#mouse" transform="translate(242.4 284.7) scale(1.0 1.0)"/>
<circle cx="233.6" cy="324" r="2.6" fill="url(#sc)"/>
<circle cx="250" cy="324" r="2.0" fill="url(#sb)"/>
<use href="#mouse" transform="translate(296.2 285.4) scale(1.0 1.0)"/>
<circle cx="305.4" cy="324.3" r="2.2" fill="url(#sb)"/>
<use href="#mouse" transform="translate(348.4 284.3) scale(1.0 1.0)"/>
<circle cx="346.4" cy="304.2" r="3.4" fill="url(#sc)"/>
<circle cx="338.3" cy="324.3" r="2.5" fill="url(#sb)"/>
<circle cx="355.5" cy="324.3" r="2.2" fill="url(#sb)"/>
<use href="#mouse" transform="translate(410.0 284.9) scale(1.1 1.0)"/>
<circle cx="408.3" cy="301.5" r="1.8" fill="url(#sb)"/>
<circle cx="419.7" cy="325.8" r="1.5" fill="url(#sb)"/>
<use href="#mouse" transform="translate(464.9 284.9) scale(1.1 1.0)"/>
<circle cx="463.8" cy="301.9" r="4.8" fill="url(#sg)"/>
<circle cx="458.5" cy="309" r="1.6" fill="url(#sb)"/>
<circle cx="472.5" cy="306.4" r="1.9" fill="url(#sb)"/>
<circle cx="472.9" cy="312.9" r="2.0" fill="url(#sb)"/>
<circle cx="465.0" cy="308.5" r="1.3" fill="url(#sb)"/>
<circle cx="464.9" cy="312.2" r="2.0" fill="url(#sc)"/>
<circle cx="455.2" cy="327.3" r="4.6" fill="url(#sg)"/>
<circle cx="474.6" cy="327.3" r="4.6" fill="url(#sg)"/>
<use href="#mouse" transform="translate(240.9 355.6) scale(1.05 1.0)"/>
<circle cx="235.8" cy="376.8" r="1.8" fill="url(#sb)"/>
<circle cx="233.6" cy="393.5" r="4.0" fill="url(#sg)"/>
<circle cx="250" cy="394.1" r="3.5" fill="url(#sg)"/>
<use href="#mouse" transform="translate(294.4 356.3) scale(1.05 1.0)"/>
<circle cx="291.4" cy="367.7" r="2.6" fill="url(#sc)"/>
<circle cx="304.7" cy="394.1" r="3.3" fill="url(#sg)"/>
<use href="#mouse" transform="translate(348.2 356.3) scale(1.05 1.0)"/>
<ellipse cx="347.8" cy="371.5" rx="4.3" ry="7.4" fill="url(#sb)"/>
<circle cx="346.8" cy="366.5" r="1.8" fill="url(#sb)"/>
<circle cx="348.2" cy="374.7" r="4.5" fill="url(#sg)"/>
<circle cx="339.1" cy="393.5" r="3.2" fill="url(#sc)"/>
<circle cx="355.2" cy="392.9" r="2.1" fill="url(#sb)"/>
<use href="#mouse" transform="translate(410.0 355.3) scale(1.13 1.0)"/>
<use href="#mouse" transform="translate(464.0 355.3) scale(1.12 1.0)"/>
<rect x="499.9" y="285.8" width="3.0" height="106.9" fill="url(#cbar)"/>
<text x="499.8" y="283.2" font-size="2.2" fill="#444" textLength="11.3" lengthAdjust="spacingAndGlyphs">Radiance (p/sec/cm²/sr)</text>
<rect x="504" y="289" width="0.9" height="0.8" fill="#888"/>
<rect x="504" y="294.5" width="0.9" height="0.8" fill="#888"/>
<rect x="504" y="302.5" width="0.9" height="0.8" fill="#888"/>
<rect x="504" y="313.4" width="0.9" height="0.8" fill="#888"/>
<rect x="504" y="331" width="0.9" height="0.8" fill="#888"/>
<rect x="504" y="334.5" width="0.9" height="0.8" fill="#888"/>
<rect x="504" y="337.3" width="0.9" height="0.8" fill="#888"/>
<rect x="504" y="340" width="0.9" height="0.8" fill="#888"/>
<rect x="504" y="343" width="0.9" height="0.8" fill="#888"/>
<rect x="504" y="347" width="0.9" height="0.8" fill="#888"/>
<rect x="504" y="353" width="0.9" height="0.8" fill="#888"/>
<rect x="504" y="360" width="0.9" height="0.8" fill="#888"/>
<rect x="504" y="371.5" width="0.9" height="0.8" fill="#888"/>
<rect x="499.5" y="396.8" width="10" height="1.2" fill="#888"/>
<rect x="499.5" y="398.8" width="12" height="1.2" fill="#999"/>
<rect x="500" y="403" width="13" height="8.5" fill="none" stroke="#777" stroke-width="0.6"/>
<rect x="501" y="405" width="11" height="0.9" fill="#999"/>
<rect x="501" y="407.3" width="11" height="0.9" fill="#999"/>
<rect x="501" y="409.6" width="11" height="0.9" fill="#999"/>
<rect x="0.5" y="0.5" width="519" height="422" fill="none" stroke="#111" stroke-width="1.2"/>
</svg>
</body></html>
